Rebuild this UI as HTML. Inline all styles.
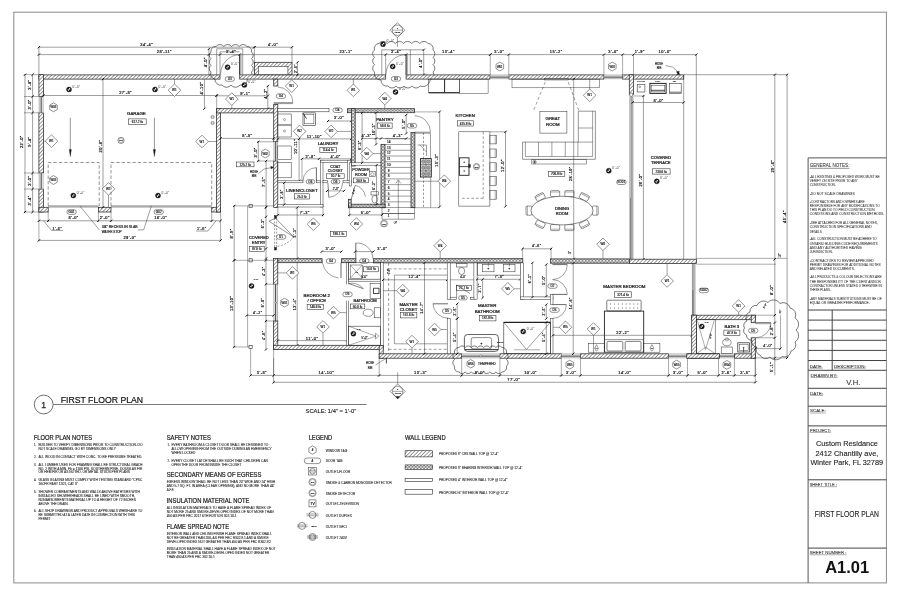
<!DOCTYPE html>
<html lang="en"><head><meta charset="utf-8"><title>First Floor Plan</title>
<style>html,body{margin:0;padding:0;background:#fff}svg{display:block;will-change:transform}text{font-family:"Liberation Sans", sans-serif}</style></head>
<body>
<svg width="900" height="597" viewBox="0 0 900 597">
<defs>
<pattern id="hx" width="2.6" height="2.6" patternUnits="userSpaceOnUse" patternTransform="rotate(-45)">
<rect width="2.6" height="2.6" fill="#fff"/><line x1="0" y1="1.3" x2="2.6" y2="1.3" stroke="#555" stroke-width="0.6"/></pattern>
<pattern id="hb" width="3.3" height="3.3" patternUnits="userSpaceOnUse">
<rect width="3.3" height="3.3" fill="#fff"/><rect x="0.55" y="0.55" width="2.2" height="2.2" rx="0.7" fill="none" stroke="#222" stroke-width="0.6"/></pattern>
</defs>
<rect x="13.8" y="12.2" width="872.6" height="570.7" fill="none" stroke="#8a8a8a" stroke-width="1"/>
<line x1="808.1" y1="157.9" x2="808.1" y2="582.9" stroke="#555" stroke-width="1"/>
<line x1="808.1" y1="157.9" x2="886.4" y2="157.9" stroke="#555" stroke-width="1"/>
<text x="809.7" y="167.32" font-size="5.6" text-anchor="start" fill="#333" stroke="#333" stroke-width="0.08" textLength="39.7" lengthAdjust="spacingAndGlyphs">GENERAL NOTES:</text>
<line x1="809.7" y1="168.3" x2="849.4" y2="168.3" stroke="#222" stroke-width="0.5"/>
<text x="809.7" y="177.92" font-size="3.1" text-anchor="start" fill="#444" stroke="#444" stroke-width="0.07" textLength="70" lengthAdjust="spacingAndGlyphs">-ALL EXISTING &amp; PROPOSED WORK MUST BE</text>
<text x="809.7" y="182.32" font-size="3.1" text-anchor="start" fill="#444" stroke="#444" stroke-width="0.07" textLength="48" lengthAdjust="spacingAndGlyphs">VERIFY ON SITE PRIOR TO ANY</text>
<text x="809.7" y="186.42" font-size="3.1" text-anchor="start" fill="#444" stroke="#444" stroke-width="0.07" textLength="26" lengthAdjust="spacingAndGlyphs">CONSTRUCTION.</text>
<text x="809.7" y="194.82" font-size="3.1" text-anchor="start" fill="#444" stroke="#444" stroke-width="0.07" textLength="45" lengthAdjust="spacingAndGlyphs">-DO NOT SCALE DRAWINGS</text>
<text x="809.7" y="202.72" font-size="3.1" text-anchor="start" fill="#444" stroke="#444" stroke-width="0.07" textLength="55" lengthAdjust="spacingAndGlyphs">-CONTRACTORS AND OWNERS ARE</text>
<text x="809.7" y="206.92" font-size="3.1" text-anchor="start" fill="#444" stroke="#444" stroke-width="0.07" textLength="70" lengthAdjust="spacingAndGlyphs">RESPONSIBLE FOR ANY MODIFICATIONS TO</text>
<text x="809.7" y="211.22" font-size="3.1" text-anchor="start" fill="#444" stroke="#444" stroke-width="0.07" textLength="65" lengthAdjust="spacingAndGlyphs">THIS PLAN DO TO FIELD CONSTRUCTION</text>
<text x="809.7" y="215.42" font-size="3.1" text-anchor="start" fill="#444" stroke="#444" stroke-width="0.07" textLength="74.5" lengthAdjust="spacingAndGlyphs">CONDITIONS AND CONSTRUCTION METHODS.</text>
<text x="809.7" y="224.02" font-size="3.1" text-anchor="start" fill="#444" stroke="#444" stroke-width="0.07" textLength="68" lengthAdjust="spacingAndGlyphs">-SEE ATTACHED FOR ALL GENERAL NOTES,</text>
<text x="809.7" y="228.32" font-size="3.1" text-anchor="start" fill="#444" stroke="#444" stroke-width="0.07" textLength="62" lengthAdjust="spacingAndGlyphs">CONSTRUCTION SPECIFICATIONS AND</text>
<text x="809.7" y="232.52" font-size="3.1" text-anchor="start" fill="#444" stroke="#444" stroke-width="0.07" textLength="12" lengthAdjust="spacingAndGlyphs">DETAILS</text>
<text x="809.7" y="240.42" font-size="3.1" text-anchor="start" fill="#444" stroke="#444" stroke-width="0.07" textLength="67" lengthAdjust="spacingAndGlyphs">-ALL CONSTRUCTION MUST BE ADHERE TO</text>
<text x="809.7" y="244.72" font-size="3.1" text-anchor="start" fill="#444" stroke="#444" stroke-width="0.07" textLength="68" lengthAdjust="spacingAndGlyphs">ONTARIO BUILDING CODE REQUIREMENTS</text>
<text x="809.7" y="249.02" font-size="3.1" text-anchor="start" fill="#444" stroke="#444" stroke-width="0.07" textLength="52" lengthAdjust="spacingAndGlyphs">AND ANY AUTHORITIES HAVING</text>
<text x="809.7" y="253.32" font-size="3.1" text-anchor="start" fill="#444" stroke="#444" stroke-width="0.07" textLength="23" lengthAdjust="spacingAndGlyphs">JURISDICTION.</text>
<text x="809.7" y="261.72" font-size="3.1" text-anchor="start" fill="#444" stroke="#444" stroke-width="0.07" textLength="64" lengthAdjust="spacingAndGlyphs">-CONTRACTORS TO REVIEW APPROVED</text>
<text x="809.7" y="266.12" font-size="3.1" text-anchor="start" fill="#444" stroke="#444" stroke-width="0.07" textLength="71" lengthAdjust="spacingAndGlyphs">PERMIT DRAWINGS FOR ADDITIONAL NOTES</text>
<text x="809.7" y="270.22" font-size="3.1" text-anchor="start" fill="#444" stroke="#444" stroke-width="0.07" textLength="45" lengthAdjust="spacingAndGlyphs">AND RELATED DOCUMENTS.</text>
<text x="809.7" y="278.12" font-size="3.1" text-anchor="start" fill="#444" stroke="#444" stroke-width="0.07" textLength="72" lengthAdjust="spacingAndGlyphs">-ALL PRODUCTS &amp; COLOUR SELECTIONS ARE</text>
<text x="809.7" y="282.52" font-size="3.1" text-anchor="start" fill="#444" stroke="#444" stroke-width="0.07" textLength="71" lengthAdjust="spacingAndGlyphs">THE RESPONSIBILITY OF THE CLIENT AND/OR</text>
<text x="809.7" y="286.82" font-size="3.1" text-anchor="start" fill="#444" stroke="#444" stroke-width="0.07" textLength="72" lengthAdjust="spacingAndGlyphs">CONTRACTOR UNLESS STATED OTHERWISE IN</text>
<text x="809.7" y="291.22" font-size="3.1" text-anchor="start" fill="#444" stroke="#444" stroke-width="0.07" textLength="21" lengthAdjust="spacingAndGlyphs">THESE PLANS.</text>
<text x="809.7" y="299.62" font-size="3.1" text-anchor="start" fill="#444" stroke="#444" stroke-width="0.07" textLength="72" lengthAdjust="spacingAndGlyphs">-ANY MATERIALS SUBSTITUTIONS MUST BE OF</text>
<text x="809.7" y="303.92" font-size="3.1" text-anchor="start" fill="#444" stroke="#444" stroke-width="0.07" textLength="60" lengthAdjust="spacingAndGlyphs">EQUAL OR GREATER PERFORMANCE.</text>
<line x1="808.1" y1="310" x2="886.4" y2="310" stroke="#444" stroke-width="1"/>
<line x1="808.1" y1="320.1" x2="886.4" y2="320.1" stroke="#444" stroke-width="1"/>
<line x1="808.1" y1="330.2" x2="886.4" y2="330.2" stroke="#444" stroke-width="1"/>
<line x1="808.1" y1="340.3" x2="886.4" y2="340.3" stroke="#444" stroke-width="1"/>
<line x1="808.1" y1="350.4" x2="886.4" y2="350.4" stroke="#444" stroke-width="1"/>
<line x1="808.1" y1="360.5" x2="886.4" y2="360.5" stroke="#444" stroke-width="1"/>
<line x1="808.1" y1="370.3" x2="886.4" y2="370.3" stroke="#444" stroke-width="1"/>
<line x1="832.2" y1="310" x2="832.2" y2="370.3" stroke="#444" stroke-width="1"/>
<text x="809.7" y="367.58" font-size="4.4" text-anchor="start" fill="#333" stroke="#333" stroke-width="0.08" textLength="12.9" lengthAdjust="spacingAndGlyphs">DATE:</text>
<line x1="809.7" y1="368.28" x2="822.6" y2="368.28" stroke="#333" stroke-width="0.4"/>
<text x="834" y="367.58" font-size="4.4" text-anchor="start" fill="#333" stroke="#333" stroke-width="0.08" textLength="31.7" lengthAdjust="spacingAndGlyphs">DESCRIPTION:</text>
<line x1="834" y1="368.28" x2="865.7" y2="368.28" stroke="#333" stroke-width="0.4"/>
<text x="810.6" y="376.78" font-size="4.4" text-anchor="start" fill="#333" stroke="#333" stroke-width="0.08" textLength="27.1" lengthAdjust="spacingAndGlyphs">DRAWN BY:</text>
<line x1="810.6" y1="377.48" x2="837.7" y2="377.48" stroke="#333" stroke-width="0.4"/>
<text x="853.3" y="385.34" font-size="7.6" text-anchor="middle" fill="#333" stroke="#333" stroke-width="0.08">V.H.</text>
<line x1="808.1" y1="388.3" x2="886.4" y2="388.3" stroke="#444" stroke-width="1"/>
<text x="810" y="394.68" font-size="4.4" text-anchor="start" fill="#333" stroke="#333" stroke-width="0.08" textLength="13" lengthAdjust="spacingAndGlyphs">DATE:</text>
<line x1="810" y1="395.38" x2="823" y2="395.38" stroke="#333" stroke-width="0.4"/>
<line x1="808.1" y1="406.2" x2="886.4" y2="406.2" stroke="#444" stroke-width="1"/>
<text x="810" y="412.28" font-size="4.4" text-anchor="start" fill="#333" stroke="#333" stroke-width="0.08" textLength="15.7" lengthAdjust="spacingAndGlyphs">SCALE:</text>
<line x1="810" y1="412.98" x2="825.7" y2="412.98" stroke="#333" stroke-width="0.4"/>
<line x1="808.1" y1="425.9" x2="886.4" y2="425.9" stroke="#444" stroke-width="1"/>
<text x="809.7" y="431.68" font-size="4.4" text-anchor="start" fill="#333" stroke="#333" stroke-width="0.08" textLength="21.3" lengthAdjust="spacingAndGlyphs">PROJECT:</text>
<line x1="809.7" y1="432.38" x2="831" y2="432.38" stroke="#333" stroke-width="0.4"/>
<text x="846.9" y="446.38" font-size="8" text-anchor="middle" fill="#222" stroke="#222" stroke-width="0.12" textLength="62" lengthAdjust="spacingAndGlyphs">Custom Residance</text>
<text x="846.9" y="455.58" font-size="8" text-anchor="middle" fill="#222" stroke="#222" stroke-width="0.12" textLength="62.8" lengthAdjust="spacingAndGlyphs">2412 Chantilly ave,</text>
<text x="846.7" y="464.78" font-size="8" text-anchor="middle" fill="#222" stroke="#222" stroke-width="0.12" textLength="72.6" lengthAdjust="spacingAndGlyphs">Winter Park, FL 32789</text>
<line x1="808.1" y1="479.8" x2="886.4" y2="479.8" stroke="#444" stroke-width="1"/>
<text x="809.7" y="485.98" font-size="4.4" text-anchor="start" fill="#333" stroke="#333" stroke-width="0.08" textLength="27.2" lengthAdjust="spacingAndGlyphs">SHEET TITLE :</text>
<line x1="809.7" y1="486.68" x2="836.9" y2="486.68" stroke="#333" stroke-width="0.4"/>
<text x="846.8" y="517.25" font-size="8.2" text-anchor="middle" fill="#222" stroke="#222" stroke-width="0.12" textLength="64" lengthAdjust="spacingAndGlyphs">FIRST FLOOR PLAN</text>
<line x1="808.1" y1="548.1" x2="886.4" y2="548.1" stroke="#444" stroke-width="1"/>
<text x="809.7" y="554.08" font-size="4.4" text-anchor="start" fill="#333" stroke="#333" stroke-width="0.08" textLength="36.9" lengthAdjust="spacingAndGlyphs">SHEET NUMBER :</text>
<line x1="809.7" y1="554.78" x2="846.6" y2="554.78" stroke="#333" stroke-width="0.4"/>
<text x="847.2" y="573.3" font-size="16.4" text-anchor="middle" fill="#111" font-weight="bold" textLength="44" lengthAdjust="spacingAndGlyphs">A1.01</text>
<circle cx="43.7" cy="404.5" r="9.4" fill="#fff" stroke="#333" stroke-width="0.7"/>
<text x="43.7" y="407.8" font-size="8.6" text-anchor="middle" fill="#222" stroke="#222" stroke-width="0.25">1</text>
<text x="60.8" y="402.75" font-size="9.3" text-anchor="start" fill="#111" stroke="#111" stroke-width="0.2" textLength="82.3" lengthAdjust="spacingAndGlyphs">FIRST FLOOR PLAN</text>
<line x1="53.2" y1="404.5" x2="366.7" y2="404.5" stroke="#444" stroke-width="0.7"/>
<text x="305.5" y="412.53" font-size="6.2" text-anchor="start" fill="#222" stroke="#222" stroke-width="0.14" textLength="50.7" lengthAdjust="spacingAndGlyphs">SCALE: 1/4" = 1'-0"</text>
<text x="33.8" y="440.4" font-size="6.4" text-anchor="start" fill="#1a1a1a" stroke="#1a1a1a" stroke-width="0.2" textLength="58.2" lengthAdjust="spacingAndGlyphs">FLOOR PLAN NOTES</text>
<text x="34" y="446.24" font-size="2.9" text-anchor="start" fill="#3a3a3a" stroke="#3a3a3a" stroke-width="0.11">1.</text>
<text x="38.4" y="446.24" font-size="2.9" text-anchor="start" fill="#3a3a3a" stroke="#3a3a3a" stroke-width="0.11" textLength="104.1" lengthAdjust="spacingAndGlyphs">BUILDER TO VERIFY DIMENSIONS PRIOR TO CONSTRUCTION. DO</text>
<text x="38.4" y="450.14" font-size="2.9" text-anchor="start" fill="#3a3a3a" stroke="#3a3a3a" stroke-width="0.11" textLength="77.5" lengthAdjust="spacingAndGlyphs">NOT SCALE DRAWING, GO BY DIMENSIONS ONLY</text>
<text x="34" y="457.94" font-size="2.9" text-anchor="start" fill="#3a3a3a" stroke="#3a3a3a" stroke-width="0.11">2.</text>
<text x="38.4" y="457.94" font-size="2.9" text-anchor="start" fill="#3a3a3a" stroke="#3a3a3a" stroke-width="0.11" textLength="103.8" lengthAdjust="spacingAndGlyphs">ALL WOOD IN CONTACT WITH CONC. TO BE PRESSURE TREATED.</text>
<text x="34" y="465.64" font-size="2.9" text-anchor="start" fill="#3a3a3a" stroke="#3a3a3a" stroke-width="0.11">3.</text>
<text x="38.4" y="465.64" font-size="2.9" text-anchor="start" fill="#3a3a3a" stroke="#3a3a3a" stroke-width="0.11" textLength="104.3" lengthAdjust="spacingAndGlyphs">ALL LUMBER USED FOR FRAMING SHALL BE STRUCTURAL GRADE</text>
<text x="38.4" y="469.54" font-size="2.9" text-anchor="start" fill="#3a3a3a" stroke="#3a3a3a" stroke-width="0.11" textLength="104" lengthAdjust="spacingAndGlyphs">NO. 2 WITH A MIN. Fb = 1100 PSI. SOUTHERN PINE, DOUGLAS FIR</text>
<text x="38.4" y="473.44" font-size="2.9" text-anchor="start" fill="#3a3a3a" stroke="#3a3a3a" stroke-width="0.11" textLength="91.5" lengthAdjust="spacingAndGlyphs">OR HEM FIR OR AS NOTED. OR METAL STUDS PER PLANS</text>
<text x="34" y="481.14" font-size="2.9" text-anchor="start" fill="#3a3a3a" stroke="#3a3a3a" stroke-width="0.11">4.</text>
<text x="38.4" y="481.14" font-size="2.9" text-anchor="start" fill="#3a3a3a" stroke="#3a3a3a" stroke-width="0.11" textLength="104" lengthAdjust="spacingAndGlyphs">GLASS GLAZING MUST COMPLY WITH TESTING STANDARD "CPSC</text>
<text x="38.4" y="485.14" font-size="2.9" text-anchor="start" fill="#3a3a3a" stroke="#3a3a3a" stroke-width="0.11" textLength="39.5" lengthAdjust="spacingAndGlyphs">16CFR PART 1201, CAT II"</text>
<text x="34" y="492.84" font-size="2.9" text-anchor="start" fill="#3a3a3a" stroke="#3a3a3a" stroke-width="0.11">5.</text>
<text x="38.4" y="492.84" font-size="2.9" text-anchor="start" fill="#3a3a3a" stroke="#3a3a3a" stroke-width="0.11" textLength="101.5" lengthAdjust="spacingAndGlyphs">SHOWER COMPARTMENTS AND WALLS ABOVE BATHTUBS WITH</text>
<text x="38.4" y="496.84" font-size="2.9" text-anchor="start" fill="#3a3a3a" stroke="#3a3a3a" stroke-width="0.11" textLength="96.5" lengthAdjust="spacingAndGlyphs">INSTALLED SHOWERHEADS SHALL BE LINED WITH SMOOTH,</text>
<text x="38.4" y="500.64" font-size="2.9" text-anchor="start" fill="#3a3a3a" stroke="#3a3a3a" stroke-width="0.11" textLength="97.5" lengthAdjust="spacingAndGlyphs">NONABSORBENTS MATERIAL UP TO A HEIGHT OF 72 INCHES</text>
<text x="38.4" y="504.54" font-size="2.9" text-anchor="start" fill="#3a3a3a" stroke="#3a3a3a" stroke-width="0.11" textLength="30" lengthAdjust="spacingAndGlyphs">ABOVE THE DRAIN.</text>
<text x="34" y="511.94" font-size="2.9" text-anchor="start" fill="#3a3a3a" stroke="#3a3a3a" stroke-width="0.11">6.</text>
<text x="38.4" y="511.94" font-size="2.9" text-anchor="start" fill="#3a3a3a" stroke="#3a3a3a" stroke-width="0.11" textLength="104" lengthAdjust="spacingAndGlyphs">ALL SHOP DRAWINGS AND PRODUCT APPROVALS WHISH ARE TO</text>
<text x="38.4" y="515.94" font-size="2.9" text-anchor="start" fill="#3a3a3a" stroke="#3a3a3a" stroke-width="0.11" textLength="96.5" lengthAdjust="spacingAndGlyphs">BE SUBMITTED AT A LATER DATE IN CONNECTION WITH THIS</text>
<text x="38.4" y="520.14" font-size="2.9" text-anchor="start" fill="#3a3a3a" stroke="#3a3a3a" stroke-width="0.11" textLength="12" lengthAdjust="spacingAndGlyphs">PERMIT</text>
<text x="166.7" y="440.4" font-size="6.4" text-anchor="start" fill="#1a1a1a" stroke="#1a1a1a" stroke-width="0.2" textLength="44.2" lengthAdjust="spacingAndGlyphs">SAFETY NOTES</text>
<text x="167.4" y="446.24" font-size="2.9" text-anchor="start" fill="#3a3a3a" stroke="#3a3a3a" stroke-width="0.11">1.</text>
<text x="171.4" y="446.24" font-size="2.9" text-anchor="start" fill="#3a3a3a" stroke="#3a3a3a" stroke-width="0.11" textLength="97" lengthAdjust="spacingAndGlyphs">EVERY BATHROOM &amp; CLOSET DOOR SHALL BE DESIGNED TO</text>
<text x="171.4" y="450.24" font-size="2.9" text-anchor="start" fill="#3a3a3a" stroke="#3a3a3a" stroke-width="0.11" textLength="100.4" lengthAdjust="spacingAndGlyphs">ALLOW OPENING FROM THE OUTSIDE DURING AN EMERGENCY</text>
<text x="171.4" y="454.24" font-size="2.9" text-anchor="start" fill="#3a3a3a" stroke="#3a3a3a" stroke-width="0.11" textLength="24" lengthAdjust="spacingAndGlyphs">WHEN LOCKED</text>
<text x="167.4" y="462.04" font-size="2.9" text-anchor="start" fill="#3a3a3a" stroke="#3a3a3a" stroke-width="0.11">2.</text>
<text x="171.4" y="462.04" font-size="2.9" text-anchor="start" fill="#3a3a3a" stroke="#3a3a3a" stroke-width="0.11" textLength="96.5" lengthAdjust="spacingAndGlyphs">EVERY CLOSET LATCH SHALL BE SUCH THAT CHILDREN CAN</text>
<text x="171.4" y="466.04" font-size="2.9" text-anchor="start" fill="#3a3a3a" stroke="#3a3a3a" stroke-width="0.11" textLength="70" lengthAdjust="spacingAndGlyphs">OPEN THE DOOR FROM INSIDE THE CLOSET</text>
<text x="166.7" y="477" font-size="6.4" text-anchor="start" fill="#1a1a1a" stroke="#1a1a1a" stroke-width="0.2" textLength="94.7" lengthAdjust="spacingAndGlyphs">SECONDARY MEANS OF EGRESS</text>
<text x="166.7" y="482.74" font-size="2.9" text-anchor="start" fill="#3a3a3a" stroke="#3a3a3a" stroke-width="0.11" textLength="108.5" lengthAdjust="spacingAndGlyphs">EGRESS WINDOW SHALL BE NOT LESS THAN 20" WIDE AND 24" HIGH</text>
<text x="166.7" y="486.74" font-size="2.9" text-anchor="start" fill="#3a3a3a" stroke="#3a3a3a" stroke-width="0.11" textLength="108" lengthAdjust="spacingAndGlyphs">AND 5.7 SQ. FT. IN AREA (CLEAR OPENING), AND NO MORE THAN 44"</text>
<text x="166.7" y="490.54" font-size="2.9" text-anchor="start" fill="#3a3a3a" stroke="#3a3a3a" stroke-width="0.11" textLength="7.5" lengthAdjust="spacingAndGlyphs">A.F.F.</text>
<text x="166.7" y="502.8" font-size="6.4" text-anchor="start" fill="#1a1a1a" stroke="#1a1a1a" stroke-width="0.2" textLength="82.8" lengthAdjust="spacingAndGlyphs">INSULATION MATERIAL NOTE</text>
<text x="166.7" y="508.84" font-size="2.9" text-anchor="start" fill="#3a3a3a" stroke="#3a3a3a" stroke-width="0.11" textLength="104.5" lengthAdjust="spacingAndGlyphs">ALL INSULATION MATERIALS TO HAVE A FLAME SPREAD INDEX OF</text>
<text x="166.7" y="512.84" font-size="2.9" text-anchor="start" fill="#3a3a3a" stroke="#3a3a3a" stroke-width="0.11" textLength="107" lengthAdjust="spacingAndGlyphs">NOT MORE 25 AND SMOKE-DEVELOPED INDEX OF NOT MORE THAN</text>
<text x="166.7" y="516.74" font-size="2.9" text-anchor="start" fill="#3a3a3a" stroke="#3a3a3a" stroke-width="0.11" textLength="70" lengthAdjust="spacingAndGlyphs">450 AS PER FBC 2017 6TH EDITION 302.10.1</text>
<text x="166.7" y="529" font-size="6.4" text-anchor="start" fill="#1a1a1a" stroke="#1a1a1a" stroke-width="0.2" textLength="62.3" lengthAdjust="spacingAndGlyphs">FLAME SPREAD NOTE</text>
<text x="166.7" y="535.14" font-size="2.9" text-anchor="start" fill="#3a3a3a" stroke="#3a3a3a" stroke-width="0.11" textLength="105" lengthAdjust="spacingAndGlyphs">INTERIOR WALL AND CEILING FINISH FLAME SPREAD INDEX SHALL</text>
<text x="166.7" y="538.94" font-size="2.9" text-anchor="start" fill="#3a3a3a" stroke="#3a3a3a" stroke-width="0.11" textLength="102" lengthAdjust="spacingAndGlyphs">NOT BE GREATER THAN 200, AS PER FBC R302.9.1 AND A SMOKE</text>
<text x="166.7" y="542.84" font-size="2.9" text-anchor="start" fill="#3a3a3a" stroke="#3a3a3a" stroke-width="0.11" textLength="104.5" lengthAdjust="spacingAndGlyphs">DEVELOPED INDEX NOT GREATER THAN 450 AS PER FBC R302.9.2</text>
<text x="166.7" y="550.34" font-size="2.9" text-anchor="start" fill="#3a3a3a" stroke="#3a3a3a" stroke-width="0.11" textLength="109" lengthAdjust="spacingAndGlyphs">INSULATION MATERIAL SHALL HAVE A FLAME SPREAD INDEX OF NOT</text>
<text x="166.7" y="554.24" font-size="2.9" text-anchor="start" fill="#3a3a3a" stroke="#3a3a3a" stroke-width="0.11" textLength="102.5" lengthAdjust="spacingAndGlyphs">MORE THAN 25 AND A SMOKE-DEVELOPED INDEX NOT GREATER</text>
<text x="166.7" y="558.14" font-size="2.9" text-anchor="start" fill="#3a3a3a" stroke="#3a3a3a" stroke-width="0.11" textLength="48" lengthAdjust="spacingAndGlyphs">THAN 450 AS PER FBC 302.10.1</text>
<text x="308.7" y="440.4" font-size="6.4" text-anchor="start" fill="#1a1a1a" stroke="#1a1a1a" stroke-width="0.2" textLength="23.5" lengthAdjust="spacingAndGlyphs">LEGEND</text>
<text x="325.8" y="451.71" font-size="2.8" text-anchor="start" fill="#3a3a3a" stroke="#3a3a3a" stroke-width="0.11" textLength="21.5" lengthAdjust="spacingAndGlyphs">WINDOW TAG</text>
<text x="325.8" y="462.41" font-size="2.8" text-anchor="start" fill="#3a3a3a" stroke="#3a3a3a" stroke-width="0.11" textLength="16.8" lengthAdjust="spacingAndGlyphs">DOOR TAG</text>
<text x="325.8" y="472.81" font-size="2.8" text-anchor="start" fill="#3a3a3a" stroke="#3a3a3a" stroke-width="0.11" textLength="24.5" lengthAdjust="spacingAndGlyphs">OUTLET-FLOOR</text>
<text x="325.8" y="483.71" font-size="2.8" text-anchor="start" fill="#3a3a3a" stroke="#3a3a3a" stroke-width="0.11" textLength="66.1" lengthAdjust="spacingAndGlyphs">SMOKE &amp; CARBON MONOXIDE DETECTOR</text>
<text x="325.8" y="494.61" font-size="2.8" text-anchor="start" fill="#3a3a3a" stroke="#3a3a3a" stroke-width="0.11" textLength="29.5" lengthAdjust="spacingAndGlyphs">SMOKE DETECTOR</text>
<text x="325.8" y="505.01" font-size="2.8" text-anchor="start" fill="#3a3a3a" stroke="#3a3a3a" stroke-width="0.11" textLength="33" lengthAdjust="spacingAndGlyphs">OUTLET-TELEVISION</text>
<text x="325.8" y="516.51" font-size="2.8" text-anchor="start" fill="#3a3a3a" stroke="#3a3a3a" stroke-width="0.11" textLength="26" lengthAdjust="spacingAndGlyphs">OUTLET DUPLEX</text>
<text x="325.8" y="527.51" font-size="2.8" text-anchor="start" fill="#3a3a3a" stroke="#3a3a3a" stroke-width="0.11" textLength="21" lengthAdjust="spacingAndGlyphs">OUTLET GFCI</text>
<text x="325.8" y="538.61" font-size="2.8" text-anchor="start" fill="#3a3a3a" stroke="#3a3a3a" stroke-width="0.11" textLength="21" lengthAdjust="spacingAndGlyphs">OUTLET 240V</text>
<path d="M316.14 452.2L312.5 454.3L308.86 452.2L308.86 448L312.5 445.9L316.14 448Z" fill="#fff" stroke="#2a2a2a" stroke-width="0.5"/>
<text x="312.5" y="451.11" font-size="2.8" text-anchor="middle" fill="#1e1e1e" stroke="#1e1e1e" stroke-width="0.15">#</text>
<rect x="304.25" y="458" width="16.5" height="5.6" fill="#fff" stroke="#2a2a2a" stroke-width="0.5" rx="2.8"/>
<text x="312.5" y="461.88" font-size="3" text-anchor="middle" fill="#1e1e1e" stroke="#1e1e1e" stroke-width="0.17" letter-spacing="0.15">#</text>
<rect x="308.7" y="467.4" width="7.6" height="7.6" fill="none" stroke="#2a2a2a" stroke-width="0.5"/>
<circle cx="312.5" cy="471.2" r="2.8" fill="none" stroke="#2a2a2a" stroke-width="0.5"/>
<line x1="309.7" y1="470.4" x2="315.3" y2="470.4" stroke="#2a2a2a" stroke-width="0.4"/>
<line x1="309.7" y1="472" x2="315.3" y2="472" stroke="#2a2a2a" stroke-width="0.4"/>
<circle cx="312.5" cy="482.1" r="3.6" fill="#fff" stroke="#2a2a2a" stroke-width="0.5"/>
<circle cx="312.5" cy="482.1" r="2.7" fill="none" stroke="#2a2a2a" stroke-width="0.3"/>
<text x="312.5" y="483" font-size="2.5" text-anchor="middle" fill="#1e1e1e" stroke="#1e1e1e" stroke-width="0.14">SC</text>
<circle cx="312.5" cy="493" r="3.6" fill="#fff" stroke="#2a2a2a" stroke-width="0.5"/>
<circle cx="312.5" cy="493" r="2.7" fill="none" stroke="#2a2a2a" stroke-width="0.3"/>
<text x="312.5" y="493.9" font-size="2.5" text-anchor="middle" fill="#1e1e1e" stroke="#1e1e1e" stroke-width="0.14">SD</text>
<rect x="309" y="499.9" width="7" height="7" fill="none" stroke="#2a2a2a" stroke-width="0.5"/>
<text x="312.5" y="504.62" font-size="3.4" text-anchor="middle" fill="#1e1e1e" stroke="#1e1e1e" stroke-width="0.19">TV</text>
<circle cx="312.5" cy="514.9" r="3.5" fill="none" stroke="#2a2a2a" stroke-width="0.5"/>
<line x1="306.5" y1="514" x2="318.5" y2="514" stroke="#2a2a2a" stroke-width="0.45"/>
<line x1="306.5" y1="515.8" x2="318.5" y2="515.8" stroke="#2a2a2a" stroke-width="0.45"/>
<circle cx="302" cy="525.9" r="3.5" fill="none" stroke="#2a2a2a" stroke-width="0.5"/>
<line x1="297" y1="525" x2="307.5" y2="525" stroke="#2a2a2a" stroke-width="0.45"/>
<line x1="297" y1="526.8" x2="307.5" y2="526.8" stroke="#2a2a2a" stroke-width="0.45"/>
<text x="314.1" y="526.76" font-size="2.4" text-anchor="middle" fill="#1e1e1e" stroke="#1e1e1e" stroke-width="0.13">GFCI</text>
<circle cx="312.5" cy="537" r="3.5" fill="none" stroke="#2a2a2a" stroke-width="0.5"/>
<circle cx="312.5" cy="537" r="2.3" fill="none" stroke="#2a2a2a" stroke-width="0.4"/>
<line x1="307" y1="535.8" x2="318" y2="535.8" stroke="#2a2a2a" stroke-width="0.35"/>
<line x1="307" y1="537" x2="318" y2="537" stroke="#2a2a2a" stroke-width="0.35"/>
<line x1="307" y1="538.2" x2="318" y2="538.2" stroke="#2a2a2a" stroke-width="0.35"/>
<text x="405.1" y="440.4" font-size="6.4" text-anchor="start" fill="#1a1a1a" stroke="#1a1a1a" stroke-width="0.2" textLength="40.5" lengthAdjust="spacingAndGlyphs">WALL LEGEND</text>
<rect x="405.1" y="450.7" width="27.5" height="6.2" fill="url(#hx)" stroke="#2a2a2a" stroke-width="0.6"/>
<rect x="405.1" y="464.9" width="27.5" height="4.7" fill="url(#hb)" stroke="#2a2a2a" stroke-width="0.6"/>
<rect x="405.1" y="478.4" width="27.5" height="2.9" fill="#fff" stroke="#2a2a2a" stroke-width="0.6"/>
<rect x="405.1" y="489.6" width="27.5" height="4.6" fill="#fff" stroke="#2a2a2a" stroke-width="0.6"/>
<text x="438.9" y="455.31" font-size="2.8" text-anchor="start" fill="#3a3a3a" stroke="#3a3a3a" stroke-width="0.11" textLength="59.5" lengthAdjust="spacingAndGlyphs">PROPOSED 8" CBS WALL TOP @ 12'-4"</text>
<text x="438.9" y="468.81" font-size="2.8" text-anchor="start" fill="#3a3a3a" stroke="#3a3a3a" stroke-width="0.11" textLength="83.6" lengthAdjust="spacingAndGlyphs">PROPOSED 8" BEARING INTERIOR WALL TOP @ 12'-4"</text>
<text x="438.9" y="481.41" font-size="2.8" text-anchor="start" fill="#3a3a3a" stroke="#3a3a3a" stroke-width="0.11" textLength="68.4" lengthAdjust="spacingAndGlyphs">PROPOSED 4" INTERIOR WALL TOP @ 12'-4"</text>
<text x="438.9" y="493.71" font-size="2.8" text-anchor="start" fill="#3a3a3a" stroke="#3a3a3a" stroke-width="0.11" textLength="70" lengthAdjust="spacingAndGlyphs">PROPOSED 6" INTERIOR WALL TOP @ 12'-4"</text>
<line x1="38.9" y1="47.2" x2="254.4" y2="47.2" stroke="#2a2a2a" stroke-width="0.45"/>
<line x1="37.75" y1="48.35" x2="40.05" y2="46.05" stroke="#111" stroke-width="1"/>
<line x1="253.25" y1="48.35" x2="255.55" y2="46.05" stroke="#111" stroke-width="1"/>
<text x="146.7" y="46.13" font-size="3.96" text-anchor="middle" fill="#1e1e1e" stroke="#1e1e1e" stroke-width="0.22" letter-spacing="0.45">34'-4"</text>
<line x1="38.9" y1="54.6" x2="490.3" y2="54.6" stroke="#2a2a2a" stroke-width="0.45"/>
<line x1="37.75" y1="55.75" x2="40.05" y2="53.45" stroke="#111" stroke-width="1"/>
<line x1="207.75" y1="55.75" x2="210.05" y2="53.45" stroke="#111" stroke-width="1"/>
<line x1="218.85" y1="55.75" x2="221.15" y2="53.45" stroke="#111" stroke-width="1"/>
<line x1="238.55" y1="55.75" x2="240.85" y2="53.45" stroke="#111" stroke-width="1"/>
<line x1="384.55" y1="55.75" x2="386.85" y2="53.45" stroke="#111" stroke-width="1"/>
<line x1="404.95" y1="55.75" x2="407.25" y2="53.45" stroke="#111" stroke-width="1"/>
<line x1="489.15" y1="55.75" x2="491.45" y2="53.45" stroke="#111" stroke-width="1"/>
<text x="164.4" y="53.33" font-size="3.96" text-anchor="middle" fill="#1e1e1e" stroke="#1e1e1e" stroke-width="0.22" letter-spacing="0.45">28'-11"</text>
<text x="231" y="53.33" font-size="3.96" text-anchor="middle" fill="#1e1e1e" stroke="#1e1e1e" stroke-width="0.22" letter-spacing="0.45">3'-4"</text>
<text x="346" y="53.33" font-size="3.96" text-anchor="middle" fill="#1e1e1e" stroke="#1e1e1e" stroke-width="0.22" letter-spacing="0.45">23'-1"</text>
<text x="396" y="53.33" font-size="3.96" text-anchor="middle" fill="#1e1e1e" stroke="#1e1e1e" stroke-width="0.22" letter-spacing="0.45">3'-4"</text>
<text x="448.4" y="53.33" font-size="3.96" text-anchor="middle" fill="#1e1e1e" stroke="#1e1e1e" stroke-width="0.22" letter-spacing="0.45">13'-4"</text>
<line x1="38.9" y1="47.2" x2="38.9" y2="74.7" stroke="#2a2a2a" stroke-width="0.45"/>
<line x1="254.4" y1="47.2" x2="292" y2="47.2" stroke="#2a2a2a" stroke-width="0.45"/>
<line x1="253.25" y1="48.35" x2="255.55" y2="46.05" stroke="#111" stroke-width="1"/>
<line x1="290.85" y1="48.35" x2="293.15" y2="46.05" stroke="#111" stroke-width="1"/>
<text x="273" y="46.13" font-size="3.96" text-anchor="middle" fill="#1e1e1e" stroke="#1e1e1e" stroke-width="0.22" letter-spacing="0.45">4'-0"</text>
<line x1="254.4" y1="47.2" x2="254.4" y2="74.7" stroke="#2a2a2a" stroke-width="0.45"/>
<line x1="292" y1="47.2" x2="292" y2="62.3" stroke="#2a2a2a" stroke-width="0.45"/>
<line x1="208.9" y1="48.9" x2="208.9" y2="75.6" stroke="#2a2a2a" stroke-width="0.45"/>
<line x1="207.75" y1="50.05" x2="210.05" y2="47.75" stroke="#111" stroke-width="1"/>
<line x1="207.75" y1="76.75" x2="210.05" y2="74.45" stroke="#111" stroke-width="1"/>
<text x="205.6" y="63.63" font-size="3.96" text-anchor="middle" fill="#1e1e1e" stroke="#1e1e1e" stroke-width="0.22" letter-spacing="0.45" transform="rotate(-90 205.6 62.2)">4'-0"</text>
<line x1="204.4" y1="77.4" x2="204.4" y2="108.7" stroke="#2a2a2a" stroke-width="0.45"/>
<line x1="203.25" y1="78.55" x2="205.55" y2="76.25" stroke="#111" stroke-width="1"/>
<line x1="203.25" y1="109.85" x2="205.55" y2="107.55" stroke="#111" stroke-width="1"/>
<text x="201.6" y="89.63" font-size="3.96" text-anchor="middle" fill="#1e1e1e" stroke="#1e1e1e" stroke-width="0.22" letter-spacing="0.45" transform="rotate(-90 201.6 88.2)">4'-10"</text>
<rect x="38.9" y="74.9" width="181.1" height="4.2" fill="url(#hx)" stroke="#2a2a2a" stroke-width="0.75"/>
<rect x="38.9" y="74.7" width="4.5" height="21.8" fill="url(#hx)" stroke="#2a2a2a" stroke-width="0.75"/>
<rect x="38.9" y="112.8" width="4.5" height="60.2" fill="url(#hx)" stroke="#2a2a2a" stroke-width="0.75"/>
<rect x="38.9" y="189" width="4.5" height="23" fill="url(#hx)" stroke="#2a2a2a" stroke-width="0.75"/>
<rect x="38.4" y="96.9" width="5.5" height="15.5" fill="#fff" stroke="#fff" stroke-width="0.01"/>
<line x1="39.2" y1="96.5" x2="39.2" y2="112.8" stroke="#2a2a2a" stroke-width="0.4"/>
<line x1="43.1" y1="96.5" x2="43.1" y2="112.8" stroke="#555" stroke-width="0.45"/>
<line x1="41.15" y1="96.5" x2="41.15" y2="112.8" stroke="#222" stroke-width="0.95"/>
<rect x="38.4" y="173.4" width="5.5" height="15.2" fill="#fff" stroke="#fff" stroke-width="0.01"/>
<line x1="39.2" y1="173" x2="39.2" y2="189" stroke="#2a2a2a" stroke-width="0.4"/>
<line x1="43.1" y1="173" x2="43.1" y2="189" stroke="#555" stroke-width="0.45"/>
<line x1="41.15" y1="173" x2="41.15" y2="189" stroke="#222" stroke-width="0.95"/>
<rect x="38.9" y="207.3" width="9.3" height="4.7" fill="url(#hx)" stroke="#2a2a2a" stroke-width="0.75"/>
<rect x="98.4" y="207.3" width="12.6" height="4.7" fill="url(#hx)" stroke="#2a2a2a" stroke-width="0.75"/>
<rect x="211.7" y="207.3" width="8.9" height="4.7" fill="url(#hx)" stroke="#2a2a2a" stroke-width="0.75"/>
<rect x="216.5" y="108.7" width="4.1" height="103.3" fill="url(#hx)" stroke="#2a2a2a" stroke-width="0.75"/>
<line x1="48.2" y1="205.9" x2="98.4" y2="205.9" stroke="#2a2a2a" stroke-width="0.5"/>
<line x1="48.2" y1="207" x2="98.4" y2="207" stroke="#2a2a2a" stroke-width="0.5"/>
<line x1="111" y1="205.9" x2="211.7" y2="205.9" stroke="#2a2a2a" stroke-width="0.5"/>
<line x1="111" y1="207" x2="211.7" y2="207" stroke="#2a2a2a" stroke-width="0.5"/>
<line x1="103" y1="79.1" x2="103" y2="207.3" stroke="#2a2a2a" stroke-width="0.45"/>
<line x1="101.85" y1="80.25" x2="104.15" y2="77.95" stroke="#111" stroke-width="1"/>
<line x1="101.85" y1="208.45" x2="104.15" y2="206.15" stroke="#111" stroke-width="1"/>
<text x="100.4" y="147.43" font-size="3.96" text-anchor="middle" fill="#1e1e1e" stroke="#1e1e1e" stroke-width="0.22" letter-spacing="0.45" transform="rotate(-90 100.4 146)">20'-8"</text>
<line x1="43.4" y1="95.5" x2="216.5" y2="95.5" stroke="#2a2a2a" stroke-width="0.45"/>
<line x1="42.25" y1="96.65" x2="44.55" y2="94.35" stroke="#111" stroke-width="1"/>
<line x1="215.35" y1="96.65" x2="217.65" y2="94.35" stroke="#111" stroke-width="1"/>
<text x="125.6" y="94.23" font-size="3.96" text-anchor="middle" fill="#1e1e1e" stroke="#1e1e1e" stroke-width="0.22" letter-spacing="0.45">27'-8"</text>
<line x1="25" y1="74.7" x2="25" y2="212" stroke="#2a2a2a" stroke-width="0.45"/>
<line x1="23.85" y1="75.85" x2="26.15" y2="73.55" stroke="#111" stroke-width="1"/>
<line x1="23.85" y1="213.15" x2="26.15" y2="210.85" stroke="#111" stroke-width="1"/>
<text x="21.8" y="143.13" font-size="3.96" text-anchor="middle" fill="#1e1e1e" stroke="#1e1e1e" stroke-width="0.22" letter-spacing="0.45" transform="rotate(-90 21.8 141.7)">22'-0"</text>
<line x1="32.6" y1="74.7" x2="32.6" y2="212" stroke="#2a2a2a" stroke-width="0.45"/>
<line x1="31.45" y1="75.85" x2="33.75" y2="73.55" stroke="#111" stroke-width="1"/>
<line x1="31.45" y1="97.65" x2="33.75" y2="95.35" stroke="#111" stroke-width="1"/>
<line x1="31.45" y1="113.95" x2="33.75" y2="111.65" stroke="#111" stroke-width="1"/>
<line x1="31.45" y1="174.15" x2="33.75" y2="171.85" stroke="#111" stroke-width="1"/>
<line x1="31.45" y1="190.15" x2="33.75" y2="187.85" stroke="#111" stroke-width="1"/>
<line x1="31.45" y1="213.15" x2="33.75" y2="210.85" stroke="#111" stroke-width="1"/>
<text x="29.6" y="86.13" font-size="3.96" text-anchor="middle" fill="#1e1e1e" stroke="#1e1e1e" stroke-width="0.22" letter-spacing="0.45" transform="rotate(-90 29.6 84.7)">3'-4"</text>
<text x="29.6" y="105.83" font-size="3.96" text-anchor="middle" fill="#1e1e1e" stroke="#1e1e1e" stroke-width="0.22" letter-spacing="0.45" transform="rotate(-90 29.6 104.4)">3'-0"</text>
<text x="29.6" y="143.13" font-size="3.96" text-anchor="middle" fill="#1e1e1e" stroke="#1e1e1e" stroke-width="0.22" letter-spacing="0.45" transform="rotate(-90 29.6 141.7)">9'-4"</text>
<text x="29.6" y="182.23" font-size="3.96" text-anchor="middle" fill="#1e1e1e" stroke="#1e1e1e" stroke-width="0.22" letter-spacing="0.45" transform="rotate(-90 29.6 180.8)">3'-0"</text>
<text x="29.6" y="201.93" font-size="3.96" text-anchor="middle" fill="#1e1e1e" stroke="#1e1e1e" stroke-width="0.22" letter-spacing="0.45" transform="rotate(-90 29.6 200.5)">3'-4"</text>
<line x1="24" y1="74.7" x2="38.9" y2="74.7" stroke="#2a2a2a" stroke-width="0.4"/>
<line x1="24" y1="96.5" x2="38.9" y2="96.5" stroke="#2a2a2a" stroke-width="0.4"/>
<line x1="24" y1="112.8" x2="38.9" y2="112.8" stroke="#2a2a2a" stroke-width="0.4"/>
<line x1="24" y1="173" x2="38.9" y2="173" stroke="#2a2a2a" stroke-width="0.4"/>
<line x1="24" y1="189" x2="38.9" y2="189" stroke="#2a2a2a" stroke-width="0.4"/>
<line x1="24" y1="212" x2="38.9" y2="212" stroke="#2a2a2a" stroke-width="0.4"/>
<path d="M57.31 109.5L53.5 111.7L49.69 109.5L49.69 105.1L53.5 102.9L57.31 105.1Z" fill="#fff" stroke="#2a2a2a" stroke-width="0.5"/>
<text x="53.5" y="108.31" font-size="2.8" text-anchor="middle" fill="#1e1e1e" stroke="#1e1e1e" stroke-width="0.15">W03</text>
<path d="M57.31 182.2L53.5 184.4L49.69 182.2L49.69 177.8L53.5 175.6L57.31 177.8Z" fill="#fff" stroke="#2a2a2a" stroke-width="0.5"/>
<text x="53.5" y="181.01" font-size="2.8" text-anchor="middle" fill="#1e1e1e" stroke="#1e1e1e" stroke-width="0.15">W03</text>
<line x1="45.2" y1="141.2" x2="43.4" y2="141.2" stroke="#2a2a2a" stroke-width="0.45"/>
<path d="M45.2 141.2L51.5 134.9L57.8 141.2L51.5 147.5Z" fill="#fff" stroke="#2a2a2a" stroke-width="0.5"/>
<text x="51.5" y="142.28" font-size="3" text-anchor="middle" fill="#1e1e1e" stroke="#1e1e1e" stroke-width="0.17" letter-spacing="0.15">W1</text>
<line x1="174.5" y1="83.9" x2="174.5" y2="79.1" stroke="#2a2a2a" stroke-width="0.45"/>
<path d="M168.2 90.2L174.5 83.9L180.8 90.2L174.5 96.5Z" fill="#fff" stroke="#2a2a2a" stroke-width="0.5"/>
<text x="174.5" y="91.28" font-size="3" text-anchor="middle" fill="#1e1e1e" stroke="#1e1e1e" stroke-width="0.17" letter-spacing="0.15">W1</text>
<line x1="208.3" y1="141.5" x2="216.5" y2="141.5" stroke="#2a2a2a" stroke-width="0.45"/>
<path d="M195.7 141.5L202 135.2L208.3 141.5L202 147.8Z" fill="#fff" stroke="#2a2a2a" stroke-width="0.5"/>
<text x="202" y="142.58" font-size="3" text-anchor="middle" fill="#1e1e1e" stroke="#1e1e1e" stroke-width="0.17" letter-spacing="0.15">W1</text>
<line x1="108.5" y1="195.2" x2="108.5" y2="207.3" stroke="#2a2a2a" stroke-width="0.45"/>
<path d="M102.2 188.9L108.5 182.6L114.8 188.9L108.5 195.2Z" fill="#fff" stroke="#2a2a2a" stroke-width="0.5"/>
<text x="108.5" y="189.98" font-size="3" text-anchor="middle" fill="#1e1e1e" stroke="#1e1e1e" stroke-width="0.17" letter-spacing="0.15">W1</text>
<circle cx="69" cy="89.4" r="2.5" fill="#111" stroke="#111" stroke-width="0.4"/>
<path d="M69 89.4L69 88.03A1.38 1.38 0 0 1 70.38 89.4Z" fill="#fff" stroke="#fff" stroke-width="0.1"/>
<path d="M69 89.4L69 90.78A1.38 1.38 0 0 1 67.62 89.4Z" fill="#fff" stroke="#fff" stroke-width="0.1"/>
<text x="72.5" y="87.55" font-size="3.2" text-anchor="start" fill="#666" stroke="#666" stroke-width="0.06" letter-spacing="0.35">0'-0"</text>
<circle cx="155" cy="89.4" r="2.5" fill="#111" stroke="#111" stroke-width="0.4"/>
<path d="M155 89.4L155 88.03A1.38 1.38 0 0 1 156.38 89.4Z" fill="#fff" stroke="#fff" stroke-width="0.1"/>
<path d="M155 89.4L155 90.78A1.38 1.38 0 0 1 153.62 89.4Z" fill="#fff" stroke="#fff" stroke-width="0.1"/>
<text x="158.5" y="87.55" font-size="3.2" text-anchor="start" fill="#666" stroke="#666" stroke-width="0.06" letter-spacing="0.35">0'-0"</text>
<circle cx="73.3" cy="195.6" r="2.5" fill="#111" stroke="#111" stroke-width="0.4"/>
<path d="M73.3 195.6L73.3 194.22A1.38 1.38 0 0 1 74.67 195.6Z" fill="#fff" stroke="#fff" stroke-width="0.1"/>
<path d="M73.3 195.6L73.3 196.97A1.38 1.38 0 0 1 71.92 195.6Z" fill="#fff" stroke="#fff" stroke-width="0.1"/>
<text x="76.8" y="193.75" font-size="3.2" text-anchor="start" fill="#666" stroke="#666" stroke-width="0.06" letter-spacing="0.35">0'-0"</text>
<circle cx="158" cy="195.6" r="2.5" fill="#111" stroke="#111" stroke-width="0.4"/>
<path d="M158 195.6L158 194.22A1.38 1.38 0 0 1 159.38 195.6Z" fill="#fff" stroke="#fff" stroke-width="0.1"/>
<path d="M158 195.6L158 196.97A1.38 1.38 0 0 1 156.62 195.6Z" fill="#fff" stroke="#fff" stroke-width="0.1"/>
<text x="161.5" y="193.75" font-size="3.2" text-anchor="start" fill="#666" stroke="#666" stroke-width="0.06" letter-spacing="0.35">0'-0"</text>
<text x="136.4" y="114.88" font-size="4.4" text-anchor="middle" fill="#1e1e1e" stroke="#1e1e1e" stroke-width="0.24">GARAGE</text>
<rect x="128.6" y="118.9" width="17.6" height="5.4" fill="#fff" stroke="#2a2a2a" stroke-width="0.55"/>
<text x="137.4" y="122.72" font-size="3.1" text-anchor="middle" fill="#1e1e1e" stroke="#1e1e1e" stroke-width="0.17">617.2 ft²</text>
<circle cx="121" cy="140.4" r="3.1" fill="#fff" stroke="#2a2a2a" stroke-width="0.5"/>
<circle cx="121" cy="140.4" r="2.2" fill="none" stroke="#2a2a2a" stroke-width="0.3"/>
<text x="121" y="141.3" font-size="2.5" text-anchor="middle" fill="#1e1e1e" stroke="#1e1e1e" stroke-width="0.14">SD</text>
<line x1="70.3" y1="117.8" x2="70.3" y2="151" stroke="#2a2a2a" stroke-width="0.5"/>
<path d="M70.3 156.7L69.2 149.5L71.4 149.5Z" fill="#111" stroke="#2a2a2a" stroke-width="0.3"/>
<line x1="154.4" y1="117.8" x2="154.4" y2="151" stroke="#2a2a2a" stroke-width="0.5"/>
<path d="M154.4 156.7L153.3 149.5L155.5 149.5Z" fill="#111" stroke="#2a2a2a" stroke-width="0.3"/>
<path d="M48.2 205.9V162.5H99.2V205.9" fill="none" stroke="#2a2a2a" stroke-width="0.5" stroke-dasharray="3.4 2"/>
<path d="M111 205.9V162.5H211.7V205.9" fill="none" stroke="#2a2a2a" stroke-width="0.5" stroke-dasharray="3.4 2"/>
<line x1="38.9" y1="220.8" x2="220.6" y2="220.8" stroke="#2a2a2a" stroke-width="0.45"/>
<line x1="37.75" y1="221.95" x2="40.05" y2="219.65" stroke="#111" stroke-width="1"/>
<line x1="47.05" y1="221.95" x2="49.35" y2="219.65" stroke="#111" stroke-width="1"/>
<line x1="97.25" y1="221.95" x2="99.55" y2="219.65" stroke="#111" stroke-width="1"/>
<line x1="109.85" y1="221.95" x2="112.15" y2="219.65" stroke="#111" stroke-width="1"/>
<line x1="210.55" y1="221.95" x2="212.85" y2="219.65" stroke="#111" stroke-width="1"/>
<line x1="219.45" y1="221.95" x2="221.75" y2="219.65" stroke="#111" stroke-width="1"/>
<text x="73.6" y="219.33" font-size="3.96" text-anchor="middle" fill="#1e1e1e" stroke="#1e1e1e" stroke-width="0.22" letter-spacing="0.45">8'-0"</text>
<text x="104.7" y="219.33" font-size="3.96" text-anchor="middle" fill="#1e1e1e" stroke="#1e1e1e" stroke-width="0.22" letter-spacing="0.45">2'-0"</text>
<text x="160.7" y="219.33" font-size="3.96" text-anchor="middle" fill="#1e1e1e" stroke="#1e1e1e" stroke-width="0.22" letter-spacing="0.45">16'-0"</text>
<line x1="38.9" y1="212" x2="38.9" y2="222" stroke="#2a2a2a" stroke-width="0.4"/>
<line x1="48.2" y1="212" x2="48.2" y2="222" stroke="#2a2a2a" stroke-width="0.4"/>
<line x1="98.4" y1="212" x2="98.4" y2="222" stroke="#2a2a2a" stroke-width="0.4"/>
<line x1="111" y1="212" x2="111" y2="222" stroke="#2a2a2a" stroke-width="0.4"/>
<line x1="211.7" y1="212" x2="211.7" y2="222" stroke="#2a2a2a" stroke-width="0.4"/>
<line x1="220.6" y1="212" x2="220.6" y2="222" stroke="#2a2a2a" stroke-width="0.4"/>
<rect x="66.9" y="209.7" width="9.4" height="4.6" fill="#fff" stroke="#2a2a2a" stroke-width="0.5" rx="2.3"/>
<text x="71.6" y="213.08" font-size="3" text-anchor="middle" fill="#1e1e1e" stroke="#1e1e1e" stroke-width="0.17" letter-spacing="0.15">G01</text>
<rect x="154" y="209.7" width="9.4" height="4.6" fill="#fff" stroke="#2a2a2a" stroke-width="0.5" rx="2.3"/>
<text x="158.7" y="213.08" font-size="3" text-anchor="middle" fill="#1e1e1e" stroke="#1e1e1e" stroke-width="0.17" letter-spacing="0.15">G02</text>
<text x="57.3" y="229.77" font-size="3.8" text-anchor="middle" fill="#1e1e1e" stroke="#1e1e1e" stroke-width="0.21" letter-spacing="0.4">1'-6"</text>
<text x="201.7" y="230.27" font-size="3.8" text-anchor="middle" fill="#1e1e1e" stroke="#1e1e1e" stroke-width="0.21" letter-spacing="0.4">1'-6"</text>
<path d="M43.5 220.8L51.5 230.4H63" fill="none" stroke="#2a2a2a" stroke-width="0.45"/>
<path d="M216 220.8L208 231H196" fill="none" stroke="#2a2a2a" stroke-width="0.45"/>
<text x="101.7" y="228.45" font-size="3.2" text-anchor="start" fill="#1e1e1e" stroke="#1e1e1e" stroke-width="0.18" textLength="36" lengthAdjust="spacingAndGlyphs">3/4" RECESS IN SLAB</text>
<text x="101.7" y="233.15" font-size="3.2" text-anchor="start" fill="#1e1e1e" stroke="#1e1e1e" stroke-width="0.18" textLength="20" lengthAdjust="spacingAndGlyphs">WATER STOP</text>
<path d="M79.9 205.8L99.2 229.9" fill="none" stroke="#2a2a2a" stroke-width="0.45"/>
<path d="M151.4 205.8L143.7 229.9H137.8" fill="none" stroke="#2a2a2a" stroke-width="0.45"/>
<line x1="38.9" y1="240.4" x2="220.6" y2="240.4" stroke="#2a2a2a" stroke-width="0.45"/>
<line x1="37.75" y1="241.55" x2="40.05" y2="239.25" stroke="#111" stroke-width="1"/>
<line x1="219.45" y1="241.55" x2="221.75" y2="239.25" stroke="#111" stroke-width="1"/>
<text x="129.8" y="239.23" font-size="3.96" text-anchor="middle" fill="#1e1e1e" stroke="#1e1e1e" stroke-width="0.22" letter-spacing="0.45">29'-0"</text>
<line x1="38.9" y1="222" x2="38.9" y2="241.5" stroke="#2a2a2a" stroke-width="0.4"/>
<line x1="220.6" y1="222" x2="220.6" y2="241.5" stroke="#2a2a2a" stroke-width="0.4"/>
<path d="M216.7 74.7V48.8H242.7V74.7" fill="none" stroke="#2a2a2a" stroke-width="0.45"/>
<path d="M220 74.7V51.8H239.7" fill="none" stroke="#2a2a2a" stroke-width="0.45"/>
<line x1="239.7" y1="54.6" x2="239.7" y2="74.7" stroke="#222" stroke-width="1.1"/>
<line x1="241.1" y1="54.6" x2="241.1" y2="74.7" stroke="#2a2a2a" stroke-width="0.4"/>
<path d="M239.7 54.6A19.7 19.7 0 0 0 220.6 74.7" fill="none" stroke="#2a2a2a" stroke-width="0.45"/>
<path d="M216 46.5A4.8 4.8 0 0 1 223.75 46.5A4.8 4.8 0 0 1 231.5 46.5A4.8 4.8 0 0 1 239.25 46.5A4.8 4.8 0 0 1 247 46.5A4.41 4.41 0 0 1 251.5 52A4.13 4.13 0 0 1 251.5 58.67A4.13 4.13 0 0 1 251.5 65.33A4.13 4.13 0 0 1 251.5 72A5 5 0 0 1 247.5 79A5.95 5.95 0 0 1 240 85A5.58 5.58 0 0 1 231 85A5.58 5.58 0 0 1 222 85A5.72 5.72 0 0 1 215 79A5 5 0 0 1 211 72A4.13 4.13 0 0 1 211 65.33A4.13 4.13 0 0 1 211 58.67A4.13 4.13 0 0 1 211 52A4.61 4.61 0 0 1 216 46.5Z" fill="none" stroke="#222" stroke-width="0.6"/>
<rect x="225.1" y="76.7" width="9.4" height="4.6" fill="#fff" stroke="#2a2a2a" stroke-width="0.5" rx="2.3"/>
<text x="229.8" y="80.08" font-size="3" text-anchor="middle" fill="#1e1e1e" stroke="#1e1e1e" stroke-width="0.17" letter-spacing="0.15">D3</text>
<circle cx="227.6" cy="67.2" r="2.5" fill="#111" stroke="#111" stroke-width="0.4"/>
<path d="M227.6 67.2L227.6 65.83A1.38 1.38 0 0 1 228.97 67.2Z" fill="#fff" stroke="#fff" stroke-width="0.1"/>
<path d="M227.6 67.2L227.6 68.58A1.38 1.38 0 0 1 226.22 67.2Z" fill="#fff" stroke="#fff" stroke-width="0.1"/>
<text x="231.1" y="65.35" font-size="3.2" text-anchor="start" fill="#666" stroke="#666" stroke-width="0.06" letter-spacing="0.35">0'-0"</text>
<circle cx="244.4" cy="84.9" r="2.5" fill="#111" stroke="#111" stroke-width="0.4"/>
<path d="M244.4 84.9L244.4 83.53A1.38 1.38 0 0 1 245.78 84.9Z" fill="#fff" stroke="#fff" stroke-width="0.1"/>
<path d="M244.4 84.9L244.4 86.28A1.38 1.38 0 0 1 243.03 84.9Z" fill="#fff" stroke="#fff" stroke-width="0.1"/>
<text x="247.9" y="83.05" font-size="3.2" text-anchor="start" fill="#666" stroke="#666" stroke-width="0.06" letter-spacing="0.35">0'-0"</text>
<rect x="239.7" y="74.9" width="146" height="4.2" fill="url(#hx)" stroke="#2a2a2a" stroke-width="0.75"/>
<rect x="254.4" y="62.3" width="37.6" height="12.4" fill="url(#hx)" stroke="#2a2a2a" stroke-width="0.75"/>
<rect x="258.6" y="66.5" width="29.3" height="8.1" fill="#fff" stroke="#2a2a2a" stroke-width="0.55"/>
<line x1="297.5" y1="62.3" x2="297.5" y2="74.7" stroke="#2a2a2a" stroke-width="0.45"/>
<line x1="296.35" y1="63.45" x2="298.65" y2="61.15" stroke="#111" stroke-width="1"/>
<line x1="296.35" y1="75.85" x2="298.65" y2="73.55" stroke="#111" stroke-width="1"/>
<text x="295.4" y="69.71" font-size="3.36" text-anchor="middle" fill="#1e1e1e" stroke="#1e1e1e" stroke-width="0.18" letter-spacing="0.45" transform="rotate(-90 295.4 68.5)">2'-0"</text>
<line x1="216.7" y1="95.8" x2="267.8" y2="95.8" stroke="#2a2a2a" stroke-width="0.45"/>
<line x1="215.55" y1="96.95" x2="217.85" y2="94.65" stroke="#111" stroke-width="1"/>
<line x1="266.65" y1="96.95" x2="268.95" y2="94.65" stroke="#111" stroke-width="1"/>
<text x="245.2" y="94.63" font-size="3.96" text-anchor="middle" fill="#1e1e1e" stroke="#1e1e1e" stroke-width="0.22" letter-spacing="0.45">9'-1"</text>
<line x1="216.7" y1="94" x2="216.7" y2="108.7" stroke="#2a2a2a" stroke-width="0.4"/>
<line x1="231.8" y1="105.4" x2="231.8" y2="108.7" stroke="#2a2a2a" stroke-width="0.45"/>
<path d="M225.5 99.1L231.8 92.8L238.1 99.1L231.8 105.4Z" fill="#fff" stroke="#2a2a2a" stroke-width="0.5"/>
<text x="231.8" y="100.18" font-size="3" text-anchor="middle" fill="#1e1e1e" stroke="#1e1e1e" stroke-width="0.17" letter-spacing="0.15">W1</text>
<path d="M285.4 86.1L291.7 79.8L298 86.1L291.7 92.4Z" fill="#fff" stroke="#2a2a2a" stroke-width="0.5"/>
<text x="291.7" y="87.18" font-size="3" text-anchor="middle" fill="#1e1e1e" stroke="#1e1e1e" stroke-width="0.17" letter-spacing="0.15">W1</text>
<rect x="273.7" y="79.1" width="4.1" height="6.9" fill="url(#hx)" stroke="#2a2a2a" stroke-width="0.75"/>
<line x1="267.8" y1="86" x2="267.8" y2="108.7" stroke="#2a2a2a" stroke-width="0.45"/>
<line x1="266.65" y1="87.15" x2="268.95" y2="84.85" stroke="#111" stroke-width="1"/>
<line x1="266.65" y1="109.85" x2="268.95" y2="107.55" stroke="#111" stroke-width="1"/>
<text x="265.2" y="95.03" font-size="3.96" text-anchor="middle" fill="#1e1e1e" stroke="#1e1e1e" stroke-width="0.22" letter-spacing="0.45" transform="rotate(-90 265.2 93.6)">4'-2"</text>
<line x1="273.7" y1="102.6" x2="292.9" y2="102.6" stroke="#2a2a2a" stroke-width="0.5"/>
<line x1="273.7" y1="103.6" x2="292.9" y2="103.6" stroke="#2a2a2a" stroke-width="0.5"/>
<path d="M277.8 87.0A15.6 15.6 0 0 1 292.9 102.6" fill="none" stroke="#2a2a2a" stroke-width="0.45"/>
<rect x="276.2" y="93.8" width="9.4" height="4.6" fill="#fff" stroke="#2a2a2a" stroke-width="0.5" rx="2.3"/>
<text x="280.9" y="97.18" font-size="3" text-anchor="middle" fill="#1e1e1e" stroke="#1e1e1e" stroke-width="0.17" letter-spacing="0.15">D4</text>
<rect x="216.7" y="108.7" width="61.1" height="4.2" fill="url(#hx)" stroke="#2a2a2a" stroke-width="0.75"/>
<rect x="273.7" y="104.5" width="4.1" height="37.3" fill="url(#hx)" stroke="#2a2a2a" stroke-width="0.75"/>
<rect x="277.8" y="108.7" width="51.2" height="3.1" fill="#fff" stroke="#2a2a2a" stroke-width="0.55"/>
<rect x="332.9" y="107.9" width="9.4" height="4.6" fill="#fff" stroke="#2a2a2a" stroke-width="0.5" rx="2.3"/>
<text x="337.6" y="111.28" font-size="3" text-anchor="middle" fill="#1e1e1e" stroke="#1e1e1e" stroke-width="0.17" letter-spacing="0.15">D4</text>
<line x1="328" y1="121" x2="351.4" y2="121" stroke="#2a2a2a" stroke-width="0.45"/>
<line x1="326.85" y1="122.15" x2="329.15" y2="119.85" stroke="#111" stroke-width="1"/>
<line x1="350.25" y1="122.15" x2="352.55" y2="119.85" stroke="#111" stroke-width="1"/>
<text x="339" y="119.43" font-size="3.96" text-anchor="middle" fill="#1e1e1e" stroke="#1e1e1e" stroke-width="0.22" letter-spacing="0.45">3'-0"</text>
<circle cx="212.6" cy="117" r="1.6" fill="none" stroke="#2a2a2a" stroke-width="0.45"/>
<circle cx="212.6" cy="123" r="1.6" fill="none" stroke="#2a2a2a" stroke-width="0.45"/>
<line x1="211" y1="117" x2="214.2" y2="117" stroke="#2a2a2a" stroke-width="0.35"/>
<line x1="211" y1="123" x2="214.2" y2="123" stroke="#2a2a2a" stroke-width="0.35"/>
<rect x="273.7" y="161" width="4.1" height="46.6" fill="url(#hx)" stroke="#2a2a2a" stroke-width="0.75"/>
<rect x="273.2" y="142.2" width="5.1" height="18.4" fill="#fff" stroke="#fff" stroke-width="0.01"/>
<line x1="274" y1="141.8" x2="274" y2="161" stroke="#2a2a2a" stroke-width="0.4"/>
<line x1="277.5" y1="141.8" x2="277.5" y2="161" stroke="#555" stroke-width="0.45"/>
<line x1="275.75" y1="141.8" x2="275.75" y2="161" stroke="#222" stroke-width="0.95"/>
<line x1="220.6" y1="138.4" x2="273.7" y2="138.4" stroke="#2a2a2a" stroke-width="0.45"/>
<line x1="219.45" y1="139.55" x2="221.75" y2="137.25" stroke="#111" stroke-width="1"/>
<line x1="272.55" y1="139.55" x2="274.85" y2="137.25" stroke="#111" stroke-width="1"/>
<text x="247.4" y="137.43" font-size="3.96" text-anchor="middle" fill="#1e1e1e" stroke="#1e1e1e" stroke-width="0.22" letter-spacing="0.45">8'-5"</text>
<line x1="277.8" y1="138.9" x2="351.4" y2="138.9" stroke="#2a2a2a" stroke-width="0.45"/>
<line x1="276.65" y1="140.05" x2="278.95" y2="137.75" stroke="#111" stroke-width="1"/>
<line x1="350.25" y1="140.05" x2="352.55" y2="137.75" stroke="#111" stroke-width="1"/>
<text x="314.3" y="137.83" font-size="3.96" text-anchor="middle" fill="#1e1e1e" stroke="#1e1e1e" stroke-width="0.22" letter-spacing="0.45">11'-10"</text>
<line x1="258.3" y1="141.8" x2="258.3" y2="161" stroke="#2a2a2a" stroke-width="0.45"/>
<line x1="257.15" y1="142.95" x2="259.45" y2="140.65" stroke="#111" stroke-width="1"/>
<line x1="257.15" y1="162.15" x2="259.45" y2="159.85" stroke="#111" stroke-width="1"/>
<text x="255.4" y="153.83" font-size="3.96" text-anchor="middle" fill="#1e1e1e" stroke="#1e1e1e" stroke-width="0.22" letter-spacing="0.45" transform="rotate(-90 255.4 152.4)">3'-0"</text>
<line x1="257" y1="141.8" x2="273.7" y2="141.8" stroke="#2a2a2a" stroke-width="0.4"/>
<line x1="257" y1="161" x2="273.7" y2="161" stroke="#2a2a2a" stroke-width="0.4"/>
<path d="M269.11 155.7L265.3 157.9L261.49 155.7L261.49 151.3L265.3 149.1L269.11 151.3Z" fill="#fff" stroke="#2a2a2a" stroke-width="0.5"/>
<text x="265.3" y="154.51" font-size="2.8" text-anchor="middle" fill="#1e1e1e" stroke="#1e1e1e" stroke-width="0.15">W02</text>
<rect x="236.4" y="162" width="17.6" height="4.8" fill="#fff" stroke="#2a2a2a" stroke-width="0.55"/>
<text x="245.2" y="165.52" font-size="3.1" text-anchor="middle" fill="#1e1e1e" stroke="#1e1e1e" stroke-width="0.17">125.7 ft²</text>
<text x="254" y="172.94" font-size="2.9" text-anchor="middle" fill="#1e1e1e" stroke="#1e1e1e" stroke-width="0.16">HOSE</text>
<text x="254" y="176.64" font-size="2.9" text-anchor="middle" fill="#1e1e1e" stroke="#1e1e1e" stroke-width="0.16">BIB</text>
<path d="M258.5 173.5L264 169L271.5 167.6" fill="none" stroke="#2a2a2a" stroke-width="0.45"/>
<path d="M273.7 167.2L270.7 166.2L271.2 169Z" fill="#111" stroke="#2a2a2a" stroke-width="0.3"/>
<line x1="266.1" y1="161" x2="266.1" y2="207" stroke="#2a2a2a" stroke-width="0.45"/>
<line x1="264.95" y1="162.15" x2="267.25" y2="159.85" stroke="#111" stroke-width="1"/>
<line x1="264.95" y1="208.15" x2="267.25" y2="205.85" stroke="#111" stroke-width="1"/>
<text x="263.4" y="183.43" font-size="3.96" text-anchor="middle" fill="#1e1e1e" stroke="#1e1e1e" stroke-width="0.22" letter-spacing="0.45" transform="rotate(-90 263.4 182)">7'-5"</text>
<rect x="277.8" y="114" width="13.4" height="11" fill="none" stroke="#2a2a2a" stroke-width="0.5"/>
<rect x="277.8" y="125" width="13.4" height="12" fill="none" stroke="#2a2a2a" stroke-width="0.5"/>
<circle cx="284.5" cy="119.5" r="1" fill="none" stroke="#2a2a2a" stroke-width="0.4"/>
<circle cx="284.5" cy="131" r="1" fill="none" stroke="#2a2a2a" stroke-width="0.4"/>
<rect x="277.8" y="146" width="13.4" height="13.3" fill="none" stroke="#2a2a2a" stroke-width="0.5"/>
<rect x="277.8" y="162.7" width="13.4" height="15.1" fill="none" stroke="#2a2a2a" stroke-width="0.5"/>
<rect x="303" y="112.9" width="12.5" height="12.5" fill="none" stroke="#2a2a2a" stroke-width="0.6"/>
<rect x="304.6" y="114.3" width="9.3" height="9.5" fill="none" stroke="#2a2a2a" stroke-width="0.45"/>
<path d="M302.8 113.2L306.5 118.6" fill="none" stroke="#111" stroke-width="0.8"/>
<path d="M293.3 131.4L299.6 125.1L305.9 131.4L299.6 137.7Z" fill="#fff" stroke="#2a2a2a" stroke-width="0.5"/>
<text x="299.6" y="132.48" font-size="3" text-anchor="middle" fill="#1e1e1e" stroke="#1e1e1e" stroke-width="0.17" letter-spacing="0.15">W2</text>
<line x1="337.4" y1="131.4" x2="351.4" y2="131.4" stroke="#2a2a2a" stroke-width="0.45"/>
<path d="M324.8 131.4L331.1 125.1L337.4 131.4L331.1 137.7Z" fill="#fff" stroke="#2a2a2a" stroke-width="0.5"/>
<text x="331.1" y="132.48" font-size="3" text-anchor="middle" fill="#1e1e1e" stroke="#1e1e1e" stroke-width="0.17" letter-spacing="0.15">W2</text>
<line x1="299.1" y1="138.9" x2="299.1" y2="181" stroke="#2a2a2a" stroke-width="0.45"/>
<line x1="297.95" y1="140.05" x2="300.25" y2="137.75" stroke="#111" stroke-width="1"/>
<line x1="297.95" y1="182.15" x2="300.25" y2="179.85" stroke="#111" stroke-width="1"/>
<text x="295.9" y="147.93" font-size="3.96" text-anchor="middle" fill="#1e1e1e" stroke="#1e1e1e" stroke-width="0.22" letter-spacing="0.45" transform="rotate(-90 295.9 146.5)">10'-11"</text>
<text x="328.1" y="144.68" font-size="4.4" text-anchor="middle" fill="#1e1e1e" stroke="#1e1e1e" stroke-width="0.24">LAUNDRY</text>
<rect x="319.85" y="147.5" width="16.5" height="5.2" fill="#fff" stroke="#2a2a2a" stroke-width="0.55"/>
<text x="328.1" y="151.22" font-size="3.1" text-anchor="middle" fill="#1e1e1e" stroke="#1e1e1e" stroke-width="0.17">114.4 ft²</text>
<line x1="302" y1="158.8" x2="351.4" y2="158.8" stroke="#2a2a2a" stroke-width="0.45"/>
<line x1="300.85" y1="159.95" x2="303.15" y2="157.65" stroke="#111" stroke-width="1"/>
<line x1="317.85" y1="159.95" x2="320.15" y2="157.65" stroke="#111" stroke-width="1"/>
<line x1="350.25" y1="159.95" x2="352.55" y2="157.65" stroke="#111" stroke-width="1"/>
<text x="310.5" y="157.53" font-size="3.96" text-anchor="middle" fill="#1e1e1e" stroke="#1e1e1e" stroke-width="0.22" letter-spacing="0.45">2'-8"</text>
<text x="335.6" y="157.53" font-size="3.96" text-anchor="middle" fill="#1e1e1e" stroke="#1e1e1e" stroke-width="0.22" letter-spacing="0.45">4'-0"</text>
<line x1="302" y1="158.8" x2="302" y2="181" stroke="#2a2a2a" stroke-width="0.4"/>
<rect x="277.8" y="180.8" width="25.2" height="2" fill="#fff" stroke="#2a2a2a" stroke-width="0.5"/>
<rect x="320.5" y="160.2" width="2.5" height="46.8" fill="#fff" stroke="#2a2a2a" stroke-width="0.5"/>
<rect x="277.8" y="204.6" width="45.2" height="2.4" fill="#fff" stroke="#2a2a2a" stroke-width="0.5"/>
<rect x="316.4" y="180.8" width="4.1" height="2" fill="#fff" stroke="#2a2a2a" stroke-width="0.5"/>
<line x1="316.4" y1="167.6" x2="316.4" y2="181" stroke="#2a2a2a" stroke-width="0.7"/>
<path d="M303 181A13.4 13.4 0 0 1 316.4 167.6" fill="none" stroke="#2a2a2a" stroke-width="0.45"/>
<rect x="306.2" y="179.6" width="8.6" height="4.2" fill="#fff" stroke="#2a2a2a" stroke-width="0.5" rx="2.1"/>
<text x="310.5" y="182.78" font-size="3" text-anchor="middle" fill="#1e1e1e" stroke="#1e1e1e" stroke-width="0.17" letter-spacing="0.15">D6</text>
<text x="301.8" y="192.38" font-size="4.4" text-anchor="middle" fill="#1e1e1e" stroke="#1e1e1e" stroke-width="0.24">LINEN/CLOSET</text>
<rect x="294.3" y="193.8" width="15" height="5.2" fill="#fff" stroke="#2a2a2a" stroke-width="0.55"/>
<text x="301.8" y="197.52" font-size="3.1" text-anchor="middle" fill="#1e1e1e" stroke="#1e1e1e" stroke-width="0.17">25.3 ft²</text>
<line x1="284.2" y1="182.8" x2="284.2" y2="204.6" stroke="#2a2a2a" stroke-width="0.45"/>
<line x1="283.05" y1="183.95" x2="285.35" y2="181.65" stroke="#111" stroke-width="1"/>
<line x1="283.05" y1="205.75" x2="285.35" y2="203.45" stroke="#111" stroke-width="1"/>
<text x="281.4" y="195.3" font-size="3.6" text-anchor="middle" fill="#1e1e1e" stroke="#1e1e1e" stroke-width="0.2" letter-spacing="0.45" transform="rotate(-90 281.4 194)">3'-6"</text>
<rect x="320.5" y="160.2" width="30.9" height="2.4" fill="#fff" stroke="#2a2a2a" stroke-width="0.5"/>
<rect x="347.3" y="160.2" width="3.2" height="22.6" fill="#fff" stroke="#2a2a2a" stroke-width="0.5"/>
<rect x="323" y="180.6" width="4.5" height="2.2" fill="#fff" stroke="#2a2a2a" stroke-width="0.5"/>
<rect x="343" y="180.6" width="8.4" height="2.2" fill="#fff" stroke="#2a2a2a" stroke-width="0.5"/>
<text x="335.3" y="167.77" font-size="3.8" text-anchor="middle" fill="#1e1e1e" stroke="#1e1e1e" stroke-width="0.21">COAT</text>
<text x="335.3" y="172.07" font-size="3.8" text-anchor="middle" fill="#1e1e1e" stroke="#1e1e1e" stroke-width="0.21">CLOSET</text>
<rect x="326.6" y="173.8" width="17.6" height="4.8" fill="#fff" stroke="#2a2a2a" stroke-width="0.55"/>
<text x="335.6" y="177.22" font-size="3.1" text-anchor="middle" fill="#1e1e1e" stroke="#1e1e1e" stroke-width="0.17">10.7 ft²</text>
<rect x="331.2" y="179.6" width="8.6" height="4.2" fill="#fff" stroke="#2a2a2a" stroke-width="0.5" rx="2.1"/>
<text x="335.5" y="182.78" font-size="3" text-anchor="middle" fill="#1e1e1e" stroke="#1e1e1e" stroke-width="0.17" letter-spacing="0.15">D6</text>
<path d="M327.9 182.8L328.8 197.4" fill="none" stroke="#2a2a2a" stroke-width="0.6"/>
<path d="M328.8 197.4A14.8 14.8 0 0 0 342.6 183" fill="none" stroke="#2a2a2a" stroke-width="0.45"/>
<text x="335.8" y="189.78" font-size="3" text-anchor="middle" fill="#1e1e1e" stroke="#1e1e1e" stroke-width="0.17">2'-8"</text>
<line x1="327" y1="190.9" x2="344" y2="190.9" stroke="#2a2a2a" stroke-width="0.4"/>
<line x1="325.85" y1="192.05" x2="328.15" y2="189.75" stroke="#111" stroke-width="1"/>
<line x1="342.85" y1="192.05" x2="345.15" y2="189.75" stroke="#111" stroke-width="1"/>
<line x1="277.8" y1="215" x2="323" y2="215" stroke="#2a2a2a" stroke-width="0.45"/>
<line x1="276.65" y1="216.15" x2="278.95" y2="213.85" stroke="#111" stroke-width="1"/>
<line x1="321.85" y1="216.15" x2="324.15" y2="213.85" stroke="#111" stroke-width="1"/>
<text x="304.8" y="213.73" font-size="3.96" text-anchor="middle" fill="#1e1e1e" stroke="#1e1e1e" stroke-width="0.22" letter-spacing="0.45">7'-3"</text>
<line x1="277.8" y1="207.6" x2="277.8" y2="216.5" stroke="#2a2a2a" stroke-width="0.4"/>
<line x1="323" y1="207" x2="323" y2="216.5" stroke="#2a2a2a" stroke-width="0.4"/>
<path d="M307.1 224.2L313.4 217.9L319.7 224.2L313.4 230.5Z" fill="#fff" stroke="#2a2a2a" stroke-width="0.5"/>
<text x="313.4" y="225.28" font-size="3" text-anchor="middle" fill="#1e1e1e" stroke="#1e1e1e" stroke-width="0.17" letter-spacing="0.15">W5</text>
<path d="M350.1 224L356.4 217.7L362.7 224L356.4 230.3Z" fill="#fff" stroke="#2a2a2a" stroke-width="0.5"/>
<text x="356.4" y="225.08" font-size="3" text-anchor="middle" fill="#1e1e1e" stroke="#1e1e1e" stroke-width="0.17" letter-spacing="0.15">W4</text>
<rect x="330.5" y="231.7" width="16" height="5" fill="#fff" stroke="#2a2a2a" stroke-width="0.55"/>
<text x="338.5" y="235.32" font-size="3.1" text-anchor="middle" fill="#1e1e1e" stroke="#1e1e1e" stroke-width="0.17">196.1 ft²</text>
<path d="M381.8 74.7V49.8H423.7" fill="none" stroke="#2a2a2a" stroke-width="0.45"/>
<path d="M385.7 74.7V54.6" fill="none" stroke="#2a2a2a" stroke-width="0.45"/>
<line x1="406.1" y1="54.6" x2="406.1" y2="74.7" stroke="#222" stroke-width="1.1"/>
<line x1="407.6" y1="54.6" x2="407.6" y2="74.7" stroke="#2a2a2a" stroke-width="0.4"/>
<line x1="410.3" y1="49.8" x2="410.3" y2="74.7" stroke="#2a2a2a" stroke-width="0.45"/>
<path d="M406.1 54.6A20.3 20.3 0 0 0 385.9 74.7" fill="none" stroke="#2a2a2a" stroke-width="0.45"/>
<line x1="423.7" y1="49.8" x2="423.7" y2="74.7" stroke="#2a2a2a" stroke-width="0.45"/>
<line x1="422.55" y1="50.95" x2="424.85" y2="48.65" stroke="#111" stroke-width="1"/>
<line x1="422.55" y1="75.85" x2="424.85" y2="73.55" stroke="#111" stroke-width="1"/>
<text x="421" y="64.03" font-size="3.96" text-anchor="middle" fill="#1e1e1e" stroke="#1e1e1e" stroke-width="0.22" letter-spacing="0.45" transform="rotate(-90 421 62.6)">4'-0"</text>
<path d="M379 43.5A5.06 5.06 0 0 1 387.17 43.5A5.06 5.06 0 0 1 395.33 43.5A5.06 5.06 0 0 1 403.5 43.5A5.06 5.06 0 0 1 411.67 43.5A5.06 5.06 0 0 1 419.83 43.5A5.06 5.06 0 0 1 428 43.5A5.08 5.08 0 0 1 433 50A4.55 4.55 0 0 1 433 57.33A4.55 4.55 0 0 1 433 64.67A4.55 4.55 0 0 1 433 72A5.3 5.3 0 0 1 430 80A7.23 7.23 0 0 1 420 86A4.96 4.96 0 0 1 412 86A4.96 4.96 0 0 1 404 86A4.96 4.96 0 0 1 396 86A4.96 4.96 0 0 1 388 86A5.72 5.72 0 0 1 381 80A6.39 6.39 0 0 1 374.5 72A4.55 4.55 0 0 1 374.5 64.67A4.55 4.55 0 0 1 374.5 57.33A4.55 4.55 0 0 1 374.5 50A4.9 4.9 0 0 1 379 43.5Z" fill="none" stroke="#222" stroke-width="0.6"/>
<path d="M389.9 30.2L397.4 22.7L404.9 30.2L397.4 37.7Z" fill="#fff" stroke="#2a2a2a" stroke-width="0.5"/>
<text x="397.4" y="31.28" font-size="3" text-anchor="middle" fill="#1e1e1e" stroke="#1e1e1e" stroke-width="0.17" letter-spacing="0.15"></text>
<circle cx="397.4" cy="30.2" r="5.2" fill="none" stroke="#2a2a2a" stroke-width="0.45"/>
<line x1="392.2" y1="30.2" x2="402.6" y2="30.2" stroke="#2a2a2a" stroke-width="0.4"/>
<text x="397.4" y="28.86" font-size="2.4" text-anchor="middle" fill="#1e1e1e" stroke="#1e1e1e" stroke-width="0.13">1</text>
<text x="397.4" y="33.23" font-size="2.3" text-anchor="middle" fill="#1e1e1e" stroke="#1e1e1e" stroke-width="0.13">A3.02</text>
<line x1="397.4" y1="37.7" x2="397.4" y2="47" stroke="#2a2a2a" stroke-width="0.45"/>
<circle cx="383" cy="44.2" r="2.5" fill="#111" stroke="#111" stroke-width="0.4"/>
<path d="M383 44.2L383 42.83A1.38 1.38 0 0 1 384.38 44.2Z" fill="#fff" stroke="#fff" stroke-width="0.1"/>
<path d="M383 44.2L383 45.58A1.38 1.38 0 0 1 381.62 44.2Z" fill="#fff" stroke="#fff" stroke-width="0.1"/>
<text x="386.5" y="42.35" font-size="3.2" text-anchor="start" fill="#666" stroke="#666" stroke-width="0.06" letter-spacing="0.35">0'-0"</text>
<circle cx="392.7" cy="66.5" r="2.5" fill="#111" stroke="#111" stroke-width="0.4"/>
<path d="M392.7 66.5L392.7 65.12A1.38 1.38 0 0 1 394.07 66.5Z" fill="#fff" stroke="#fff" stroke-width="0.1"/>
<path d="M392.7 66.5L392.7 67.88A1.38 1.38 0 0 1 391.32 66.5Z" fill="#fff" stroke="#fff" stroke-width="0.1"/>
<text x="396.2" y="64.65" font-size="3.2" text-anchor="start" fill="#666" stroke="#666" stroke-width="0.06" letter-spacing="0.35">0'-0"</text>
<circle cx="395.5" cy="92" r="2.5" fill="#111" stroke="#111" stroke-width="0.4"/>
<path d="M395.5 92L395.5 90.62A1.38 1.38 0 0 1 396.88 92Z" fill="#fff" stroke="#fff" stroke-width="0.1"/>
<path d="M395.5 92L395.5 93.38A1.38 1.38 0 0 1 394.12 92Z" fill="#fff" stroke="#fff" stroke-width="0.1"/>
<text x="399" y="90.15" font-size="3.2" text-anchor="start" fill="#666" stroke="#666" stroke-width="0.06" letter-spacing="0.35">0'-0"</text>
<rect x="391.3" y="76.5" width="9.4" height="4.6" fill="#fff" stroke="#2a2a2a" stroke-width="0.5" rx="2.3"/>
<text x="396" y="79.88" font-size="3" text-anchor="middle" fill="#1e1e1e" stroke="#1e1e1e" stroke-width="0.17" letter-spacing="0.15">D3</text>
<rect x="406.1" y="74.9" width="83.9" height="4.2" fill="url(#hx)" stroke="#2a2a2a" stroke-width="0.75"/>
<line x1="353.3" y1="84" x2="353.3" y2="79.1" stroke="#2a2a2a" stroke-width="0.45"/>
<path d="M347 90.3L353.3 84L359.6 90.3L353.3 96.6Z" fill="#fff" stroke="#2a2a2a" stroke-width="0.5"/>
<text x="353.3" y="91.38" font-size="3" text-anchor="middle" fill="#1e1e1e" stroke="#1e1e1e" stroke-width="0.17" letter-spacing="0.15">W1</text>
<line x1="384.8" y1="104.9" x2="384.8" y2="108.7" stroke="#2a2a2a" stroke-width="0.45"/>
<path d="M378.5 98.6L384.8 92.3L391.1 98.6L384.8 104.9Z" fill="#fff" stroke="#2a2a2a" stroke-width="0.5"/>
<text x="384.8" y="99.68" font-size="3" text-anchor="middle" fill="#1e1e1e" stroke="#1e1e1e" stroke-width="0.17" letter-spacing="0.15">W4</text>
<rect x="347.6" y="108.7" width="67" height="4" fill="url(#hb)" stroke="#2a2a2a" stroke-width="0.75"/>
<rect x="351.4" y="108.7" width="3.8" height="57.3" fill="url(#hb)" stroke="#2a2a2a" stroke-width="0.75"/>
<rect x="351.4" y="162.8" width="30.6" height="2.4" fill="#fff" stroke="#2a2a2a" stroke-width="0.5"/>
<rect x="381" y="144.4" width="4" height="63.3" fill="url(#hb)" stroke="#2a2a2a" stroke-width="0.75"/>
<rect x="411" y="132.6" width="3.9" height="75.1" fill="url(#hb)" stroke="#2a2a2a" stroke-width="0.75"/>
<rect x="348.6" y="204.2" width="36.4" height="3.5" fill="url(#hb)" stroke="#2a2a2a" stroke-width="0.75"/>
<rect x="348.6" y="199.3" width="2.6" height="8.4" fill="url(#hb)" stroke="#2a2a2a" stroke-width="0.75"/>
<line x1="414.6" y1="132.2" x2="430.5" y2="132.2" stroke="#2a2a2a" stroke-width="0.5"/>
<line x1="414.6" y1="133.2" x2="430.5" y2="133.2" stroke="#2a2a2a" stroke-width="0.5"/>
<path d="M414.6 115.8A16.4 16.4 0 0 1 430.5 132.2" fill="none" stroke="#2a2a2a" stroke-width="0.45"/>
<rect x="407.3" y="123.4" width="9.4" height="4.6" fill="#fff" stroke="#2a2a2a" stroke-width="0.5" rx="2.3"/>
<text x="412" y="126.78" font-size="3" text-anchor="middle" fill="#1e1e1e" stroke="#1e1e1e" stroke-width="0.17" letter-spacing="0.15">D5</text>
<line x1="406.2" y1="115" x2="406.2" y2="133.4" stroke="#2a2a2a" stroke-width="0.45"/>
<line x1="405.05" y1="116.15" x2="407.35" y2="113.85" stroke="#111" stroke-width="1"/>
<line x1="405.05" y1="134.55" x2="407.35" y2="132.25" stroke="#111" stroke-width="1"/>
<text x="403.4" y="125.03" font-size="3.96" text-anchor="middle" fill="#1e1e1e" stroke="#1e1e1e" stroke-width="0.22" letter-spacing="0.45" transform="rotate(-90 403.4 123.6)">5'-0"</text>
<text x="384.9" y="120.88" font-size="4.4" text-anchor="middle" fill="#1e1e1e" stroke="#1e1e1e" stroke-width="0.24">PANTRY</text>
<rect x="377.65" y="123" width="14.5" height="5.2" fill="#fff" stroke="#2a2a2a" stroke-width="0.55"/>
<text x="384.9" y="126.72" font-size="3.1" text-anchor="middle" fill="#1e1e1e" stroke="#1e1e1e" stroke-width="0.17">59.6 ft²</text>
<line x1="362.1" y1="138.5" x2="406.2" y2="138.5" stroke="#2a2a2a" stroke-width="0.45"/>
<line x1="360.95" y1="139.65" x2="363.25" y2="137.35" stroke="#111" stroke-width="1"/>
<line x1="374.85" y1="139.65" x2="377.15" y2="137.35" stroke="#111" stroke-width="1"/>
<line x1="379.85" y1="139.65" x2="382.15" y2="137.35" stroke="#111" stroke-width="1"/>
<line x1="405.05" y1="139.65" x2="407.35" y2="137.35" stroke="#111" stroke-width="1"/>
<text x="366.6" y="137.33" font-size="3.96" text-anchor="middle" fill="#1e1e1e" stroke="#1e1e1e" stroke-width="0.22" letter-spacing="0.45">4'-3"</text>
<text x="397.8" y="137.33" font-size="3.96" text-anchor="middle" fill="#1e1e1e" stroke="#1e1e1e" stroke-width="0.22" letter-spacing="0.45">4'-3"</text>
<line x1="376" y1="112.7" x2="376" y2="144.4" stroke="#2a2a2a" stroke-width="0.45"/>
<line x1="374.85" y1="113.85" x2="377.15" y2="111.55" stroke="#111" stroke-width="1"/>
<line x1="374.85" y1="145.55" x2="377.15" y2="143.25" stroke="#111" stroke-width="1"/>
<text x="373.3" y="130.6" font-size="3.6" text-anchor="middle" fill="#1e1e1e" stroke="#1e1e1e" stroke-width="0.2" letter-spacing="0.45" transform="rotate(-90 373.3 129.3)">10'-3"</text>
<line x1="362.1" y1="112.7" x2="362.1" y2="162.8" stroke="#2a2a2a" stroke-width="0.45"/>
<line x1="360.95" y1="113.85" x2="363.25" y2="111.55" stroke="#111" stroke-width="1"/>
<line x1="360.95" y1="163.95" x2="363.25" y2="161.65" stroke="#111" stroke-width="1"/>
<text x="359.6" y="146.3" font-size="3.6" text-anchor="middle" fill="#1e1e1e" stroke="#1e1e1e" stroke-width="0.2" letter-spacing="0.45" transform="rotate(-90 359.6 145)">6'-3"</text>
<line x1="373.1" y1="153.6" x2="381" y2="153.6" stroke="#2a2a2a" stroke-width="0.45"/>
<path d="M360.5 153.6L366.8 147.3L373.1 153.6L366.8 159.9Z" fill="#fff" stroke="#2a2a2a" stroke-width="0.5"/>
<text x="366.8" y="154.68" font-size="3" text-anchor="middle" fill="#1e1e1e" stroke="#1e1e1e" stroke-width="0.17" letter-spacing="0.15">W4</text>
<line x1="385" y1="138.8" x2="411" y2="138.8" stroke="#2a2a2a" stroke-width="0.45"/>
<text x="388.7" y="142.95" font-size="3.2" text-anchor="middle" fill="#1e1e1e" stroke="#1e1e1e" stroke-width="0.18">14</text>
<line x1="385" y1="144.53" x2="411" y2="144.53" stroke="#2a2a2a" stroke-width="0.45"/>
<text x="388.7" y="148.68" font-size="3.2" text-anchor="middle" fill="#1e1e1e" stroke="#1e1e1e" stroke-width="0.18">13</text>
<line x1="385" y1="150.26" x2="411" y2="150.26" stroke="#2a2a2a" stroke-width="0.45"/>
<text x="388.7" y="154.41" font-size="3.2" text-anchor="middle" fill="#1e1e1e" stroke="#1e1e1e" stroke-width="0.18">12</text>
<line x1="385" y1="155.99" x2="411" y2="155.99" stroke="#2a2a2a" stroke-width="0.45"/>
<text x="388.7" y="160.14" font-size="3.2" text-anchor="middle" fill="#1e1e1e" stroke="#1e1e1e" stroke-width="0.18">11</text>
<line x1="385" y1="161.72" x2="411" y2="161.72" stroke="#2a2a2a" stroke-width="0.45"/>
<text x="388.7" y="165.87" font-size="3.2" text-anchor="middle" fill="#1e1e1e" stroke="#1e1e1e" stroke-width="0.18">10</text>
<line x1="385" y1="167.45" x2="411" y2="167.45" stroke="#2a2a2a" stroke-width="0.45"/>
<text x="388.7" y="171.6" font-size="3.2" text-anchor="middle" fill="#1e1e1e" stroke="#1e1e1e" stroke-width="0.18">9</text>
<line x1="385" y1="173.18" x2="411" y2="173.18" stroke="#2a2a2a" stroke-width="0.45"/>
<text x="388.7" y="177.33" font-size="3.2" text-anchor="middle" fill="#1e1e1e" stroke="#1e1e1e" stroke-width="0.18">8</text>
<line x1="385" y1="178.91" x2="411" y2="178.91" stroke="#2a2a2a" stroke-width="0.45"/>
<text x="388.7" y="183.06" font-size="3.2" text-anchor="middle" fill="#1e1e1e" stroke="#1e1e1e" stroke-width="0.18">7</text>
<line x1="385" y1="184.64" x2="411" y2="184.64" stroke="#2a2a2a" stroke-width="0.45"/>
<text x="388.7" y="188.79" font-size="3.2" text-anchor="middle" fill="#1e1e1e" stroke="#1e1e1e" stroke-width="0.18">6</text>
<line x1="385" y1="190.37" x2="411" y2="190.37" stroke="#2a2a2a" stroke-width="0.45"/>
<text x="388.7" y="194.52" font-size="3.2" text-anchor="middle" fill="#1e1e1e" stroke="#1e1e1e" stroke-width="0.18">5</text>
<line x1="385" y1="196.1" x2="411" y2="196.1" stroke="#2a2a2a" stroke-width="0.45"/>
<text x="388.7" y="200.25" font-size="3.2" text-anchor="middle" fill="#1e1e1e" stroke="#1e1e1e" stroke-width="0.18">4</text>
<line x1="385" y1="201.83" x2="411" y2="201.83" stroke="#2a2a2a" stroke-width="0.45"/>
<text x="388.7" y="205.98" font-size="3.2" text-anchor="middle" fill="#1e1e1e" stroke="#1e1e1e" stroke-width="0.18">3</text>
<rect x="382" y="207.7" width="32.7" height="5.7" fill="none" stroke="#2a2a2a" stroke-width="0.45"/>
<rect x="382" y="213.4" width="32.7" height="5.7" fill="none" stroke="#2a2a2a" stroke-width="0.45"/>
<text x="388.7" y="211.85" font-size="3.2" text-anchor="middle" fill="#1e1e1e" stroke="#1e1e1e" stroke-width="0.18">2</text>
<text x="388.7" y="217.45" font-size="3.2" text-anchor="middle" fill="#1e1e1e" stroke="#1e1e1e" stroke-width="0.18">1</text>
<line x1="398.3" y1="180.5" x2="398.3" y2="219.1" stroke="#2a2a2a" stroke-width="0.45"/>
<path d="M395.8 183.4L398.3 179.8L400.8 183.4" fill="none" stroke="#2a2a2a" stroke-width="0.45"/>
<circle cx="384" cy="223.6" r="3.4" fill="#fff" stroke="#2a2a2a" stroke-width="0.5"/>
<circle cx="384" cy="223.6" r="2.5" fill="none" stroke="#2a2a2a" stroke-width="0.3"/>
<text x="384" y="224.5" font-size="2.5" text-anchor="middle" fill="#1e1e1e" stroke="#1e1e1e" stroke-width="0.14">SD</text>
<text x="395.4" y="223.34" font-size="2.6" text-anchor="middle" fill="#1e1e1e" stroke="#1e1e1e" stroke-width="0.14" transform="rotate(-30 395.4 222.4)">UP</text>
<line x1="423.5" y1="132.6" x2="423.5" y2="207.7" stroke="#2a2a2a" stroke-width="0.45" stroke-dasharray="2.4 1.6"/>
<line x1="430.5" y1="133.2" x2="430.5" y2="158.6" stroke="#2a2a2a" stroke-width="0.45"/>
<line x1="430.7" y1="177" x2="430.7" y2="207.5" stroke="#2a2a2a" stroke-width="0.45"/>
<rect x="420.4" y="158.6" width="10.9" height="18.4" fill="#ddd" stroke="#222" stroke-width="0.9"/>
<circle cx="423.3" cy="161.6" r="1.5" fill="#fff" stroke="#222" stroke-width="0.55"/>
<circle cx="428.5" cy="161.6" r="1.5" fill="#fff" stroke="#222" stroke-width="0.55"/>
<circle cx="423.3" cy="161.6" r="0.6" fill="none" stroke="#222" stroke-width="0.4"/>
<circle cx="428.5" cy="161.6" r="0.6" fill="none" stroke="#222" stroke-width="0.4"/>
<circle cx="423.3" cy="167.8" r="1.5" fill="#fff" stroke="#222" stroke-width="0.55"/>
<circle cx="428.5" cy="167.8" r="1.5" fill="#fff" stroke="#222" stroke-width="0.55"/>
<circle cx="423.3" cy="167.8" r="0.6" fill="none" stroke="#222" stroke-width="0.4"/>
<circle cx="428.5" cy="167.8" r="0.6" fill="none" stroke="#222" stroke-width="0.4"/>
<circle cx="423.3" cy="174" r="1.5" fill="#fff" stroke="#222" stroke-width="0.55"/>
<circle cx="428.5" cy="174" r="1.5" fill="#fff" stroke="#222" stroke-width="0.55"/>
<circle cx="423.3" cy="174" r="0.6" fill="none" stroke="#222" stroke-width="0.4"/>
<circle cx="428.5" cy="174" r="0.6" fill="none" stroke="#222" stroke-width="0.4"/>
<line x1="420.4" y1="164.7" x2="431.3" y2="164.7" stroke="#222" stroke-width="0.5"/>
<line x1="420.4" y1="170.9" x2="431.3" y2="170.9" stroke="#222" stroke-width="0.5"/>
<line x1="425.9" y1="158.6" x2="425.9" y2="177" stroke="#222" stroke-width="0.5"/>
<path d="M417.5 145H426.5V156" fill="none" stroke="#2a2a2a" stroke-width="0.45"/>
<path d="M420 145L426.5 152" fill="none" stroke="#2a2a2a" stroke-width="0.4"/>
<line x1="439.7" y1="111.7" x2="439.7" y2="206.7" stroke="#2a2a2a" stroke-width="0.45"/>
<line x1="438.55" y1="112.85" x2="440.85" y2="110.55" stroke="#111" stroke-width="1"/>
<line x1="438.55" y1="207.85" x2="440.85" y2="205.55" stroke="#111" stroke-width="1"/>
<text x="437" y="161.73" font-size="3.96" text-anchor="middle" fill="#1e1e1e" stroke="#1e1e1e" stroke-width="0.22" letter-spacing="0.45" transform="rotate(-90 437 160.3)">15'-3"</text>
<line x1="414.6" y1="111.9" x2="439.7" y2="111.9" stroke="#2a2a2a" stroke-width="0.4"/>
<line x1="414.9" y1="207.7" x2="439.8" y2="207.7" stroke="#2a2a2a" stroke-width="0.4"/>
<line x1="438" y1="181.2" x2="414.9" y2="181.2" stroke="#2a2a2a" stroke-width="0.45"/>
<path d="M438 181.2L444.3 174.9L450.6 181.2L444.3 187.5Z" fill="#fff" stroke="#2a2a2a" stroke-width="0.5"/>
<text x="444.3" y="182.28" font-size="3" text-anchor="middle" fill="#1e1e1e" stroke="#1e1e1e" stroke-width="0.17" letter-spacing="0.15">W4</text>
<line x1="349.4" y1="214.9" x2="382" y2="214.9" stroke="#2a2a2a" stroke-width="0.45"/>
<line x1="348.25" y1="216.05" x2="350.55" y2="213.75" stroke="#111" stroke-width="1"/>
<line x1="380.85" y1="216.05" x2="383.15" y2="213.75" stroke="#111" stroke-width="1"/>
<text x="365.8" y="213.63" font-size="3.96" text-anchor="middle" fill="#1e1e1e" stroke="#1e1e1e" stroke-width="0.22" letter-spacing="0.45">5'-0"</text>
<line x1="349.4" y1="207.7" x2="349.4" y2="216.5" stroke="#2a2a2a" stroke-width="0.4"/>
<text x="361" y="170.5" font-size="3.9" text-anchor="middle" fill="#1e1e1e" stroke="#1e1e1e" stroke-width="0.21">POWDER</text>
<text x="361" y="176" font-size="3.9" text-anchor="middle" fill="#1e1e1e" stroke="#1e1e1e" stroke-width="0.21">ROOM</text>
<rect x="353.6" y="178" width="14.8" height="4.8" fill="#fff" stroke="#2a2a2a" stroke-width="0.55"/>
<text x="361" y="181.52" font-size="3.1" text-anchor="middle" fill="#1e1e1e" stroke="#1e1e1e" stroke-width="0.17">30.8 ft²</text>
<rect x="349.2" y="162.8" width="2.2" height="23.2" fill="#fff" stroke="#2a2a2a" stroke-width="0.5"/>
<line x1="376.5" y1="165.2" x2="376.5" y2="204.2" stroke="#2a2a2a" stroke-width="0.45"/>
<line x1="375.35" y1="166.35" x2="377.65" y2="164.05" stroke="#111" stroke-width="1"/>
<line x1="375.35" y1="205.35" x2="377.65" y2="203.05" stroke="#111" stroke-width="1"/>
<text x="374" y="186.65" font-size="3.48" text-anchor="middle" fill="#1e1e1e" stroke="#1e1e1e" stroke-width="0.19" letter-spacing="0.45" transform="rotate(-90 374 185.4)">6'-2"</text>
<rect x="369.5" y="171.7" width="5.8" height="5" fill="none" stroke="#2a2a2a" stroke-width="0.5"/>
<ellipse cx="372.4" cy="174.2" rx="1.8" ry="1.4" fill="none" stroke="#2a2a2a" stroke-width="0.4"/>
<rect x="371" y="191.8" width="7.7" height="3.2" fill="none" stroke="#2a2a2a" stroke-width="0.5"/>
<ellipse cx="374.8" cy="199.2" rx="2.9" ry="3.8" fill="none" stroke="#2a2a2a" stroke-width="0.5"/>
<path d="M351.2 199.3L355.3 185.2" fill="none" stroke="#2a2a2a" stroke-width="0.6"/>
<path d="M355.3 185.2A14.7 14.7 0 0 1 365.5 196.6" fill="none" stroke="#2a2a2a" stroke-width="0.45"/>
<text x="353.6" y="192.41" font-size="2.8" text-anchor="middle" fill="#1e1e1e" stroke="#1e1e1e" stroke-width="0.15" transform="rotate(-75 353.6 191.4)">2'-8"</text>
<rect x="508.8" y="74.9" width="95.1" height="4.2" fill="url(#hx)" stroke="#2a2a2a" stroke-width="0.75"/>
<rect x="622.6" y="74.9" width="61.1" height="4.2" fill="url(#hx)" stroke="#2a2a2a" stroke-width="0.75"/>
<rect x="490.4" y="74.4" width="18" height="5.2" fill="#fff" stroke="#fff" stroke-width="0.01"/>
<line x1="490" y1="75.1" x2="508.8" y2="75.1" stroke="#2a2a2a" stroke-width="0.4"/>
<line x1="490" y1="78.7" x2="508.8" y2="78.7" stroke="#555" stroke-width="0.45"/>
<line x1="490" y1="77.1" x2="508.8" y2="77.1" stroke="#222" stroke-width="0.95"/>
<rect x="604.3" y="74.4" width="17.9" height="5.2" fill="#fff" stroke="#fff" stroke-width="0.01"/>
<line x1="603.9" y1="75.1" x2="622.6" y2="75.1" stroke="#2a2a2a" stroke-width="0.4"/>
<line x1="603.9" y1="78.7" x2="622.6" y2="78.7" stroke="#555" stroke-width="0.45"/>
<line x1="603.9" y1="77.1" x2="622.6" y2="77.1" stroke="#222" stroke-width="0.95"/>
<line x1="490.3" y1="54.6" x2="696.3" y2="54.6" stroke="#2a2a2a" stroke-width="0.45"/>
<line x1="489.15" y1="55.75" x2="491.45" y2="53.45" stroke="#111" stroke-width="1"/>
<line x1="507.65" y1="55.75" x2="509.95" y2="53.45" stroke="#111" stroke-width="1"/>
<line x1="602.75" y1="55.75" x2="605.05" y2="53.45" stroke="#111" stroke-width="1"/>
<line x1="621.45" y1="55.75" x2="623.75" y2="53.45" stroke="#111" stroke-width="1"/>
<line x1="632.35" y1="55.75" x2="634.65" y2="53.45" stroke="#111" stroke-width="1"/>
<line x1="695.15" y1="55.75" x2="697.45" y2="53.45" stroke="#111" stroke-width="1"/>
<text x="499.3" y="53.33" font-size="3.96" text-anchor="middle" fill="#1e1e1e" stroke="#1e1e1e" stroke-width="0.22" letter-spacing="0.45">3'-0"</text>
<text x="556.2" y="53.33" font-size="3.96" text-anchor="middle" fill="#1e1e1e" stroke="#1e1e1e" stroke-width="0.22" letter-spacing="0.45">15'-2"</text>
<text x="613.4" y="53.33" font-size="3.96" text-anchor="middle" fill="#1e1e1e" stroke="#1e1e1e" stroke-width="0.22" letter-spacing="0.45">3'-0"</text>
<text x="639.7" y="53.33" font-size="3.96" text-anchor="middle" fill="#1e1e1e" stroke="#1e1e1e" stroke-width="0.22" letter-spacing="0.45">1'-9"</text>
<text x="665" y="53.33" font-size="3.96" text-anchor="middle" fill="#1e1e1e" stroke="#1e1e1e" stroke-width="0.22" letter-spacing="0.45">10'-0"</text>
<line x1="490.3" y1="54.6" x2="490.3" y2="74.7" stroke="#2a2a2a" stroke-width="0.4"/>
<line x1="508.8" y1="54.6" x2="508.8" y2="74.7" stroke="#2a2a2a" stroke-width="0.4"/>
<line x1="603.9" y1="54.6" x2="603.9" y2="74.7" stroke="#2a2a2a" stroke-width="0.4"/>
<line x1="622.6" y1="54.6" x2="622.6" y2="74.7" stroke="#2a2a2a" stroke-width="0.4"/>
<line x1="633.5" y1="54.6" x2="633.5" y2="74.7" stroke="#2a2a2a" stroke-width="0.4"/>
<path d="M503.61 68.7L499.8 70.9L495.99 68.7L495.99 64.3L499.8 62.1L503.61 64.3Z" fill="#fff" stroke="#2a2a2a" stroke-width="0.5"/>
<text x="499.8" y="67.51" font-size="2.8" text-anchor="middle" fill="#1e1e1e" stroke="#1e1e1e" stroke-width="0.15">W01</text>
<path d="M616.11 68.7L612.3 70.9L608.49 68.7L608.49 64.3L612.3 62.1L616.11 64.3Z" fill="#fff" stroke="#2a2a2a" stroke-width="0.5"/>
<text x="612.3" y="67.51" font-size="2.8" text-anchor="middle" fill="#1e1e1e" stroke="#1e1e1e" stroke-width="0.15">W01</text>
<rect x="428.7" y="79.1" width="31" height="13.5" fill="none" stroke="#2a2a2a" stroke-width="0.5"/>
<line x1="444.6" y1="79.1" x2="444.6" y2="92.6" stroke="#222" stroke-width="1"/>
<line x1="428.7" y1="92.8" x2="459.7" y2="92.8" stroke="#222" stroke-width="1.1"/>
<rect x="459.7" y="79.1" width="28.4" height="14.2" fill="none" stroke="#2a2a2a" stroke-width="0.45"/>
<text x="465.2" y="117.38" font-size="4.4" text-anchor="middle" fill="#1e1e1e" stroke="#1e1e1e" stroke-width="0.24">KITCHEN</text>
<rect x="457.5" y="120.8" width="16" height="5.2" fill="#fff" stroke="#2a2a2a" stroke-width="0.55"/>
<text x="465.5" y="124.52" font-size="3.1" text-anchor="middle" fill="#1e1e1e" stroke="#1e1e1e" stroke-width="0.17">415.9 ft²</text>
<rect x="458.8" y="131.8" width="31.1" height="74.3" fill="none" stroke="#2a2a2a" stroke-width="0.5"/>
<line x1="483.2" y1="131.8" x2="483.2" y2="198.3" stroke="#2a2a2a" stroke-width="0.45" stroke-dasharray="2.8 1.8"/>
<line x1="462" y1="198.3" x2="483.2" y2="198.3" stroke="#2a2a2a" stroke-width="0.45" stroke-dasharray="2.8 1.8"/>
<rect x="489.9" y="135.2" width="6.7" height="8.7" fill="none" stroke="#2a2a2a" stroke-width="0.5"/>
<line x1="495.2" y1="135.2" x2="495.2" y2="143.9" stroke="#2a2a2a" stroke-width="0.4"/>
<rect x="489.9" y="149" width="6.7" height="8.7" fill="none" stroke="#2a2a2a" stroke-width="0.5"/>
<line x1="495.2" y1="149" x2="495.2" y2="157.7" stroke="#2a2a2a" stroke-width="0.4"/>
<rect x="489.9" y="162.8" width="6.7" height="8.7" fill="none" stroke="#2a2a2a" stroke-width="0.5"/>
<line x1="495.2" y1="162.8" x2="495.2" y2="171.5" stroke="#2a2a2a" stroke-width="0.4"/>
<rect x="489.9" y="176.7" width="6.7" height="8.7" fill="none" stroke="#2a2a2a" stroke-width="0.5"/>
<line x1="495.2" y1="176.7" x2="495.2" y2="185.4" stroke="#2a2a2a" stroke-width="0.4"/>
<rect x="489.9" y="190.5" width="6.7" height="8.7" fill="none" stroke="#2a2a2a" stroke-width="0.5"/>
<line x1="495.2" y1="190.5" x2="495.2" y2="199.2" stroke="#2a2a2a" stroke-width="0.4"/>
<rect x="459.4" y="157.8" width="9.6" height="17.5" fill="none" stroke="#222" stroke-width="0.9"/>
<line x1="459.4" y1="166.6" x2="469" y2="166.6" stroke="#222" stroke-width="0.8"/>
<circle cx="464.2" cy="162.2" r="0.5" fill="#222" stroke="#2a2a2a" stroke-width="0.4"/>
<circle cx="464.2" cy="171" r="0.5" fill="#222" stroke="#2a2a2a" stroke-width="0.4"/>
<rect x="468.6" y="164.6" width="1.8" height="3" fill="#222" stroke="#2a2a2a" stroke-width="0.4"/>
<circle cx="476.5" cy="166.6" r="3.1" fill="#fff" stroke="#2a2a2a" stroke-width="0.5"/>
<circle cx="476.5" cy="166.6" r="2.2" fill="none" stroke="#2a2a2a" stroke-width="0.3"/>
<text x="476.5" y="167.5" font-size="2.5" text-anchor="middle" fill="#1e1e1e" stroke="#1e1e1e" stroke-width="0.14">SD</text>
<line x1="505.5" y1="131.8" x2="505.5" y2="206.4" stroke="#2a2a2a" stroke-width="0.45"/>
<line x1="504.35" y1="132.95" x2="506.65" y2="130.65" stroke="#111" stroke-width="1"/>
<line x1="504.35" y1="207.55" x2="506.65" y2="205.25" stroke="#111" stroke-width="1"/>
<text x="502.8" y="167.03" font-size="3.96" text-anchor="middle" fill="#1e1e1e" stroke="#1e1e1e" stroke-width="0.22" letter-spacing="0.45" transform="rotate(-90 502.8 165.6)">12'-0"</text>
<line x1="489.9" y1="131.8" x2="506.5" y2="131.8" stroke="#2a2a2a" stroke-width="0.4"/>
<rect x="512" y="79.1" width="87.7" height="8.7" fill="none" stroke="#2a2a2a" stroke-width="0.45"/>
<rect x="544.5" y="78.6" width="23.7" height="1.4" fill="#888" stroke="#2a2a2a" stroke-width="0.4"/>
<line x1="545.3" y1="81.9" x2="533.6" y2="110.4" stroke="#2a2a2a" stroke-width="0.45" stroke-dasharray="3.2 2.2"/>
<line x1="568.2" y1="81.9" x2="578.8" y2="110.4" stroke="#2a2a2a" stroke-width="0.45" stroke-dasharray="3.2 2.2"/>
<line x1="589.7" y1="89" x2="589.7" y2="79.1" stroke="#2a2a2a" stroke-width="0.45"/>
<path d="M583.4 95.3L589.7 89L596 95.3L589.7 101.6Z" fill="#fff" stroke="#2a2a2a" stroke-width="0.5"/>
<text x="589.7" y="96.38" font-size="3" text-anchor="middle" fill="#1e1e1e" stroke="#1e1e1e" stroke-width="0.17" letter-spacing="0.15">W1</text>
<rect x="539.9" y="111.4" width="27" height="21.7" fill="none" stroke="#2a2a2a" stroke-width="0.5"/>
<text x="552.8" y="120.35" font-size="4.3" text-anchor="middle" fill="#1e1e1e" stroke="#1e1e1e" stroke-width="0.24">GREAT</text>
<text x="552.8" y="125.55" font-size="4.3" text-anchor="middle" fill="#1e1e1e" stroke="#1e1e1e" stroke-width="0.24">ROOM</text>
<path d="M522.6 142.1H578.3V111.2H595.4V159.3H522.6Z" fill="none" stroke="#2a2a2a" stroke-width="0.5"/>
<line x1="525.4" y1="156.5" x2="592.6" y2="156.5" stroke="#2a2a2a" stroke-width="0.45"/>
<line x1="525.4" y1="142.1" x2="525.4" y2="156.5" stroke="#2a2a2a" stroke-width="0.45"/>
<line x1="592.6" y1="111.2" x2="592.6" y2="156.5" stroke="#2a2a2a" stroke-width="0.45"/>
<line x1="538.5" y1="142.1" x2="538.5" y2="156.5" stroke="#2a2a2a" stroke-width="0.45"/>
<line x1="551.9" y1="142.1" x2="551.9" y2="156.5" stroke="#2a2a2a" stroke-width="0.45"/>
<line x1="565.3" y1="142.1" x2="565.3" y2="156.5" stroke="#2a2a2a" stroke-width="0.45"/>
<line x1="577.9" y1="142.1" x2="577.9" y2="156.5" stroke="#2a2a2a" stroke-width="0.45"/>
<line x1="578.3" y1="128" x2="592.6" y2="128" stroke="#2a2a2a" stroke-width="0.45"/>
<line x1="578.3" y1="142.1" x2="592.6" y2="142.1" stroke="#2a2a2a" stroke-width="0.45"/>
<rect x="531.8" y="159.3" width="54.4" height="4.7" fill="none" stroke="#2a2a2a" stroke-width="0.45"/>
<circle cx="534.6" cy="162" r="1.7" fill="none" stroke="#2a2a2a" stroke-width="0.45"/>
<circle cx="534.6" cy="162" r="0.8" fill="#222" stroke="#2a2a2a" stroke-width="0.4"/>
<rect x="548.6" y="171.4" width="16.2" height="5" fill="#fff" stroke="#2a2a2a" stroke-width="0.55"/>
<text x="556.7" y="175.02" font-size="3.1" text-anchor="middle" fill="#1e1e1e" stroke="#1e1e1e" stroke-width="0.17">706.9 ft²</text>
<g transform="translate(555.1 193.6) rotate(0)"><rect x="-4.6" y="-3" width="9.2" height="6" rx="1.2" fill="#fff" stroke="#2a2a2a" stroke-width="0.5"/><line x1="-4.6" y1="-1.6" x2="4.6" y2="-1.6" stroke="#2a2a2a" stroke-width="0.4"/></g>
<g transform="translate(569.4 193.6) rotate(0)"><rect x="-4.6" y="-3" width="9.2" height="6" rx="1.2" fill="#fff" stroke="#2a2a2a" stroke-width="0.5"/><line x1="-4.6" y1="-1.6" x2="4.6" y2="-1.6" stroke="#2a2a2a" stroke-width="0.4"/></g>
<g transform="translate(555.1 227.6) rotate(180)"><rect x="-4.6" y="-3" width="9.2" height="6" rx="1.2" fill="#fff" stroke="#2a2a2a" stroke-width="0.5"/><line x1="-4.6" y1="-1.6" x2="4.6" y2="-1.6" stroke="#2a2a2a" stroke-width="0.4"/></g>
<g transform="translate(569.4 227.6) rotate(180)"><rect x="-4.6" y="-3" width="9.2" height="6" rx="1.2" fill="#fff" stroke="#2a2a2a" stroke-width="0.5"/><line x1="-4.6" y1="-1.6" x2="4.6" y2="-1.6" stroke="#2a2a2a" stroke-width="0.4"/></g>
<g transform="translate(540.2 197) rotate(-27)"><rect x="-4.6" y="-3" width="9.2" height="6" rx="1.2" fill="#fff" stroke="#2a2a2a" stroke-width="0.5"/><line x1="-4.6" y1="-1.6" x2="4.6" y2="-1.6" stroke="#2a2a2a" stroke-width="0.4"/></g>
<g transform="translate(584.3 197) rotate(27)"><rect x="-4.6" y="-3" width="9.2" height="6" rx="1.2" fill="#fff" stroke="#2a2a2a" stroke-width="0.5"/><line x1="-4.6" y1="-1.6" x2="4.6" y2="-1.6" stroke="#2a2a2a" stroke-width="0.4"/></g>
<g transform="translate(540.2 224.2) rotate(207)"><rect x="-4.6" y="-3" width="9.2" height="6" rx="1.2" fill="#fff" stroke="#2a2a2a" stroke-width="0.5"/><line x1="-4.6" y1="-1.6" x2="4.6" y2="-1.6" stroke="#2a2a2a" stroke-width="0.4"/></g>
<g transform="translate(584.3 224.2) rotate(153)"><rect x="-4.6" y="-3" width="9.2" height="6" rx="1.2" fill="#fff" stroke="#2a2a2a" stroke-width="0.5"/><line x1="-4.6" y1="-1.6" x2="4.6" y2="-1.6" stroke="#2a2a2a" stroke-width="0.4"/></g>
<g transform="translate(529 210.6) rotate(-90)"><rect x="-4.6" y="-3" width="9.2" height="6" rx="1.2" fill="#fff" stroke="#2a2a2a" stroke-width="0.5"/><line x1="-4.6" y1="-1.6" x2="4.6" y2="-1.6" stroke="#2a2a2a" stroke-width="0.4"/></g>
<g transform="translate(595.2 210.6) rotate(90)"><rect x="-4.6" y="-3" width="9.2" height="6" rx="1.2" fill="#fff" stroke="#2a2a2a" stroke-width="0.5"/><line x1="-4.6" y1="-1.6" x2="4.6" y2="-1.6" stroke="#2a2a2a" stroke-width="0.4"/></g>
<ellipse cx="562" cy="210.6" rx="31" ry="14.3" fill="#fff" stroke="#2a2a2a" stroke-width="0.55"/>
<line x1="573.7" y1="79.1" x2="573.7" y2="258.9" stroke="#2a2a2a" stroke-width="0.45"/>
<line x1="572.55" y1="80.25" x2="574.85" y2="77.95" stroke="#111" stroke-width="1"/>
<line x1="572.55" y1="260.05" x2="574.85" y2="257.75" stroke="#111" stroke-width="1"/>
<text x="571.1" y="175.04" font-size="3.72" text-anchor="middle" fill="#1e1e1e" stroke="#1e1e1e" stroke-width="0.2" letter-spacing="0.45" transform="rotate(-90 571.1 173.7)">28'-10"</text>
<text x="562" y="209.74" font-size="4" text-anchor="middle" fill="#1e1e1e" stroke="#1e1e1e" stroke-width="0.22">DINING</text>
<text x="562" y="214.74" font-size="4" text-anchor="middle" fill="#1e1e1e" stroke="#1e1e1e" stroke-width="0.22">ROOM</text>
<circle cx="608.8" cy="170.7" r="2.5" fill="#111" stroke="#111" stroke-width="0.4"/>
<path d="M608.8 170.7L608.8 169.32A1.38 1.38 0 0 1 610.17 170.7Z" fill="#fff" stroke="#fff" stroke-width="0.1"/>
<path d="M608.8 170.7L608.8 172.07A1.38 1.38 0 0 1 607.42 170.7Z" fill="#fff" stroke="#fff" stroke-width="0.1"/>
<text x="612.3" y="168.85" font-size="3.2" text-anchor="start" fill="#666" stroke="#666" stroke-width="0.06" letter-spacing="0.35">0'-0"</text>
<rect x="616.7" y="179.9" width="9.4" height="4.6" fill="#fff" stroke="#2a2a2a" stroke-width="0.5" rx="2.3"/>
<text x="621.4" y="183.28" font-size="3" text-anchor="middle" fill="#1e1e1e" stroke="#1e1e1e" stroke-width="0.17" letter-spacing="0.15">SD01</text>
<line x1="603" y1="250.6" x2="603" y2="259.2" stroke="#2a2a2a" stroke-width="0.45"/>
<path d="M596.7 244.3L603 238L609.3 244.3L603 250.6Z" fill="#fff" stroke="#2a2a2a" stroke-width="0.5"/>
<text x="603" y="245.38" font-size="3" text-anchor="middle" fill="#1e1e1e" stroke="#1e1e1e" stroke-width="0.17" letter-spacing="0.15">W6</text>
<line x1="440.2" y1="251.9" x2="440.2" y2="258.7" stroke="#2a2a2a" stroke-width="0.45"/>
<path d="M433.9 245.6L440.2 239.3L446.5 245.6L440.2 251.9Z" fill="#fff" stroke="#2a2a2a" stroke-width="0.5"/>
<text x="440.2" y="246.68" font-size="3" text-anchor="middle" fill="#1e1e1e" stroke="#1e1e1e" stroke-width="0.17" letter-spacing="0.15">W4</text>
<rect x="629.3" y="74.7" width="4.2" height="19.8" fill="url(#hx)" stroke="#2a2a2a" stroke-width="0.75"/>
<circle cx="631.2" cy="94.7" r="1.7" fill="#fff" stroke="#2a2a2a" stroke-width="0.5"/>
<line x1="630" y1="96.4" x2="630" y2="259.2" stroke="#2a2a2a" stroke-width="0.55"/>
<line x1="632.8" y1="96.4" x2="632.8" y2="259.2" stroke="#2a2a2a" stroke-width="0.55"/>
<line x1="631.4" y1="96.4" x2="631.4" y2="198" stroke="#2a2a2a" stroke-width="0.5"/>
<line x1="631" y1="198" x2="631" y2="259" stroke="#333" stroke-width="0.9"/>
<line x1="683.7" y1="74.7" x2="787.2" y2="74.7" stroke="#2a2a2a" stroke-width="0.45"/>
<line x1="683.7" y1="74.7" x2="683.7" y2="259.2" stroke="#2a2a2a" stroke-width="0.45"/>
<line x1="696.3" y1="54.6" x2="696.3" y2="259.2" stroke="#2a2a2a" stroke-width="0.45"/>
<line x1="632.6" y1="102.5" x2="683.7" y2="102.5" stroke="#2a2a2a" stroke-width="0.45"/>
<line x1="631.45" y1="103.65" x2="633.75" y2="101.35" stroke="#111" stroke-width="1"/>
<line x1="682.55" y1="103.65" x2="684.85" y2="101.35" stroke="#111" stroke-width="1"/>
<text x="658.6" y="101.63" font-size="3.96" text-anchor="middle" fill="#1e1e1e" stroke="#1e1e1e" stroke-width="0.22" letter-spacing="0.45">8'-0"</text>
<line x1="643.4" y1="96" x2="643.4" y2="259.2" stroke="#2a2a2a" stroke-width="0.45"/>
<line x1="642.25" y1="97.15" x2="644.55" y2="94.85" stroke="#111" stroke-width="1"/>
<line x1="642.25" y1="260.35" x2="644.55" y2="258.05" stroke="#111" stroke-width="1"/>
<text x="640.6" y="181.63" font-size="3.96" text-anchor="middle" fill="#1e1e1e" stroke="#1e1e1e" stroke-width="0.22" letter-spacing="0.45" transform="rotate(-90 640.6 180.2)">26'-0"</text>
<line x1="633.5" y1="96" x2="644.5" y2="96" stroke="#2a2a2a" stroke-width="0.4"/>
<text x="659" y="65.34" font-size="2.9" text-anchor="middle" fill="#1e1e1e" stroke="#1e1e1e" stroke-width="0.16">HOSE</text>
<text x="659" y="69.04" font-size="2.9" text-anchor="middle" fill="#1e1e1e" stroke="#1e1e1e" stroke-width="0.16">BIB</text>
<path d="M665.5 65.5L672.8 67.2L678 72" fill="none" stroke="#2a2a2a" stroke-width="0.45"/>
<path d="M678.6 74.2L676.2 71.8L679.4 71.2Z" fill="#111" stroke="#2a2a2a" stroke-width="0.3"/>
<path d="M676.6 74.5L678.4 72.6L680.2 74.5Z" fill="#111" stroke="#2a2a2a" stroke-width="0.3"/>
<rect x="637.2" y="84.4" width="7.7" height="7.6" fill="none" stroke="#2a2a2a" stroke-width="0.55"/>
<circle cx="639.8" cy="86.8" r="0.9" fill="none" stroke="#2a2a2a" stroke-width="0.4"/>
<rect x="649.9" y="83.4" width="16.2" height="10" fill="none" stroke="#222" stroke-width="1"/>
<rect x="651.2" y="85.2" width="13.6" height="6.7" fill="none" stroke="#2a2a2a" stroke-width="0.5"/>
<line x1="651.2" y1="90.3" x2="664.8" y2="90.3" stroke="#222" stroke-width="0.8"/>
<rect x="669.5" y="83.6" width="11.7" height="9.7" fill="none" stroke="#2a2a2a" stroke-width="0.55"/>
<line x1="669.5" y1="92.2" x2="681.2" y2="92.2" stroke="#222" stroke-width="0.7"/>
<text x="641.3" y="82.11" font-size="1.7" text-anchor="middle" fill="#1e1e1e" stroke="#1e1e1e" stroke-width="0.09">BAR SINK</text>
<text x="657.8" y="81.61" font-size="1.7" text-anchor="middle" fill="#1e1e1e" stroke="#1e1e1e" stroke-width="0.09">GRILL</text>
<text x="674.5" y="81.91" font-size="1.7" text-anchor="middle" fill="#1e1e1e" stroke="#1e1e1e" stroke-width="0.09">REF.</text>
<text x="660.8" y="159.28" font-size="4.1" text-anchor="middle" fill="#1e1e1e" stroke="#1e1e1e" stroke-width="0.23">COVERED</text>
<text x="660.8" y="164.38" font-size="4.1" text-anchor="middle" fill="#1e1e1e" stroke="#1e1e1e" stroke-width="0.23">TERRACE</text>
<rect x="652.3" y="168.8" width="17.8" height="5.3" fill="#fff" stroke="#2a2a2a" stroke-width="0.55"/>
<text x="661.2" y="172.52" font-size="3.1" text-anchor="middle" fill="#1e1e1e" stroke="#1e1e1e" stroke-width="0.17">230.6 ft²</text>
<circle cx="656.8" cy="181.3" r="2.5" fill="#111" stroke="#111" stroke-width="0.4"/>
<path d="M656.8 181.3L656.8 179.93A1.38 1.38 0 0 1 658.17 181.3Z" fill="#fff" stroke="#fff" stroke-width="0.1"/>
<path d="M656.8 181.3L656.8 182.68A1.38 1.38 0 0 1 655.42 181.3Z" fill="#fff" stroke="#fff" stroke-width="0.1"/>
<text x="660.3" y="179.45" font-size="3.2" text-anchor="start" fill="#666" stroke="#666" stroke-width="0.06" letter-spacing="0.35">0'-0"</text>
<line x1="774.8" y1="74.7" x2="774.8" y2="259.2" stroke="#2a2a2a" stroke-width="0.45"/>
<line x1="773.65" y1="75.85" x2="775.95" y2="73.55" stroke="#111" stroke-width="1"/>
<line x1="773.65" y1="260.35" x2="775.95" y2="258.05" stroke="#111" stroke-width="1"/>
<text x="772.2" y="167.63" font-size="3.96" text-anchor="middle" fill="#1e1e1e" stroke="#1e1e1e" stroke-width="0.22" letter-spacing="0.45" transform="rotate(-90 772.2 166.2)">29'-6"</text>
<line x1="787.1" y1="74.7" x2="787.1" y2="357.9" stroke="#2a2a2a" stroke-width="0.45"/>
<line x1="785.95" y1="75.85" x2="788.25" y2="73.55" stroke="#111" stroke-width="1"/>
<line x1="785.95" y1="359.05" x2="788.25" y2="356.75" stroke="#111" stroke-width="1"/>
<text x="784.3" y="217.93" font-size="3.96" text-anchor="middle" fill="#1e1e1e" stroke="#1e1e1e" stroke-width="0.22" letter-spacing="0.45" transform="rotate(-90 784.3 216.5)">45'-4"</text>
<line x1="774.8" y1="259.2" x2="774.8" y2="375.4" stroke="#2a2a2a" stroke-width="0.45"/>
<line x1="773.65" y1="260.35" x2="775.95" y2="258.05" stroke="#111" stroke-width="1"/>
<line x1="773.65" y1="316.35" x2="775.95" y2="314.05" stroke="#111" stroke-width="1"/>
<line x1="773.65" y1="323.85" x2="775.95" y2="321.55" stroke="#111" stroke-width="1"/>
<line x1="773.65" y1="338.95" x2="775.95" y2="336.65" stroke="#111" stroke-width="1"/>
<line x1="773.65" y1="359.05" x2="775.95" y2="356.75" stroke="#111" stroke-width="1"/>
<text x="771.9" y="291.43" font-size="3.96" text-anchor="middle" fill="#1e1e1e" stroke="#1e1e1e" stroke-width="0.22" letter-spacing="0.45" transform="rotate(-90 771.9 290)">8'-0"</text>
<text x="771.9" y="331.63" font-size="3.96" text-anchor="middle" fill="#1e1e1e" stroke="#1e1e1e" stroke-width="0.22" letter-spacing="0.45" transform="rotate(-90 771.9 330.2)">2'-8"</text>
<text x="771.9" y="368.43" font-size="3.96" text-anchor="middle" fill="#1e1e1e" stroke="#1e1e1e" stroke-width="0.22" letter-spacing="0.45" transform="rotate(-90 771.9 367)">5'-1"</text>
<line x1="696.4" y1="258.4" x2="787.2" y2="258.4" stroke="#2a2a2a" stroke-width="0.4"/>
<line x1="696.4" y1="264.2" x2="776" y2="264.2" stroke="#2a2a2a" stroke-width="0.4"/>
<text x="779.5" y="256.61" font-size="2.8" text-anchor="middle" fill="#1e1e1e" stroke="#1e1e1e" stroke-width="0.15" transform="rotate(-90 779.5 255.6)">10"</text>
<rect x="249" y="204.3" width="3.2" height="3.2" fill="#fff" stroke="#2a2a2a" stroke-width="0.6"/>
<rect x="249" y="258.7" width="3.2" height="3.2" fill="#fff" stroke="#2a2a2a" stroke-width="0.6"/>
<rect x="249" y="345.4" width="3.2" height="3.2" fill="#fff" stroke="#2a2a2a" stroke-width="0.6"/>
<line x1="233.4" y1="205.9" x2="273.6" y2="205.9" stroke="#2a2a2a" stroke-width="0.4"/>
<line x1="233.4" y1="260.3" x2="273.6" y2="260.3" stroke="#2a2a2a" stroke-width="0.4"/>
<line x1="247.6" y1="205.9" x2="247.6" y2="347" stroke="#2a2a2a" stroke-width="0.4"/>
<line x1="250.6" y1="348.6" x2="250.6" y2="375.4" stroke="#2a2a2a" stroke-width="0.4"/>
<line x1="234.2" y1="205.9" x2="234.2" y2="260.3" stroke="#2a2a2a" stroke-width="0.45"/>
<line x1="233.05" y1="207.05" x2="235.35" y2="204.75" stroke="#111" stroke-width="1"/>
<line x1="233.05" y1="261.45" x2="235.35" y2="259.15" stroke="#111" stroke-width="1"/>
<text x="231.4" y="234.93" font-size="3.96" text-anchor="middle" fill="#1e1e1e" stroke="#1e1e1e" stroke-width="0.22" letter-spacing="0.45" transform="rotate(-90 231.4 233.5)">8'-9"</text>
<line x1="234.2" y1="260.3" x2="234.2" y2="347" stroke="#2a2a2a" stroke-width="0.45"/>
<line x1="233.05" y1="261.45" x2="235.35" y2="259.15" stroke="#111" stroke-width="1"/>
<line x1="233.05" y1="348.15" x2="235.35" y2="345.85" stroke="#111" stroke-width="1"/>
<text x="231.4" y="304.83" font-size="3.96" text-anchor="middle" fill="#1e1e1e" stroke="#1e1e1e" stroke-width="0.22" letter-spacing="0.45" transform="rotate(-90 231.4 303.4)">13'-10"</text>
<line x1="233" y1="347" x2="249" y2="347" stroke="#2a2a2a" stroke-width="0.4"/>
<line x1="266" y1="207.6" x2="266" y2="260.3" stroke="#2a2a2a" stroke-width="0.45"/>
<line x1="264.85" y1="208.75" x2="267.15" y2="206.45" stroke="#111" stroke-width="1"/>
<line x1="264.85" y1="217.95" x2="267.15" y2="215.65" stroke="#111" stroke-width="1"/>
<line x1="264.85" y1="249.75" x2="267.15" y2="247.45" stroke="#111" stroke-width="1"/>
<line x1="264.85" y1="259.75" x2="267.15" y2="257.45" stroke="#111" stroke-width="1"/>
<text x="263.2" y="224.8" font-size="3.6" text-anchor="middle" fill="#1e1e1e" stroke="#1e1e1e" stroke-width="0.2" letter-spacing="0.45" transform="rotate(-90 263.2 223.5)">6'-3"</text>
<text x="258.8" y="238.64" font-size="4" text-anchor="middle" fill="#1e1e1e" stroke="#1e1e1e" stroke-width="0.22">COVERED</text>
<text x="258.8" y="244.14" font-size="4" text-anchor="middle" fill="#1e1e1e" stroke="#1e1e1e" stroke-width="0.22">ENTRY</text>
<rect x="249.4" y="246.5" width="14.8" height="4.8" fill="#fff" stroke="#2a2a2a" stroke-width="0.55"/>
<text x="256.8" y="250.02" font-size="3.1" text-anchor="middle" fill="#1e1e1e" stroke="#1e1e1e" stroke-width="0.17">97.6 ft²</text>
<rect x="274.4" y="215.6" width="2.2" height="2.6" fill="#222" stroke="#2a2a2a" stroke-width="0.5"/>
<rect x="274.4" y="247.4" width="2.2" height="2.6" fill="#222" stroke="#2a2a2a" stroke-width="0.5"/>
<line x1="274.6" y1="218" x2="274.6" y2="247.6" stroke="#2a2a2a" stroke-width="0.45" stroke-dasharray="2 1.4"/>
<line x1="276.6" y1="218" x2="276.6" y2="247.6" stroke="#2a2a2a" stroke-width="0.45" stroke-dasharray="2 1.4"/>
<path d="M275.6 218.2L293.7 236.9L268.9 221.2Z" fill="none" stroke="#2a2a2a" stroke-width="0.5"/>
<path d="M293.7 236.9A26.5 26.5 0 0 1 276.2 246.6" fill="none" stroke="#2a2a2a" stroke-width="0.45" stroke-dasharray="2 1.4"/>
<rect x="276.4" y="234.6" width="9.4" height="4.6" fill="#fff" stroke="#2a2a2a" stroke-width="0.5" rx="2.3"/>
<text x="281.1" y="237.98" font-size="3" text-anchor="middle" fill="#1e1e1e" stroke="#1e1e1e" stroke-width="0.17" letter-spacing="0.15">D1</text>
<line x1="297.2" y1="207.6" x2="297.2" y2="345.3" stroke="#2a2a2a" stroke-width="0.45"/>
<line x1="296.05" y1="208.75" x2="298.35" y2="206.45" stroke="#111" stroke-width="1"/>
<line x1="296.05" y1="259.85" x2="298.35" y2="257.55" stroke="#111" stroke-width="1"/>
<line x1="296.05" y1="346.45" x2="298.35" y2="344.15" stroke="#111" stroke-width="1"/>
<text x="294.6" y="234" font-size="3.6" text-anchor="middle" fill="#1e1e1e" stroke="#1e1e1e" stroke-width="0.2" letter-spacing="0.45" transform="rotate(-90 294.6 232.7)">5'-3"</text>
<text x="294.6" y="305.6" font-size="3.6" text-anchor="middle" fill="#1e1e1e" stroke="#1e1e1e" stroke-width="0.2" letter-spacing="0.45" transform="rotate(-90 294.6 304.3)">13'-4"</text>
<rect x="273.6" y="258.6" width="4.2" height="25.6" fill="url(#hx)" stroke="#2a2a2a" stroke-width="0.75"/>
<rect x="273.1" y="284.6" width="5.2" height="36" fill="#fff" stroke="#fff" stroke-width="0.01"/>
<line x1="273.9" y1="284.2" x2="273.9" y2="321" stroke="#2a2a2a" stroke-width="0.4"/>
<line x1="277.5" y1="284.2" x2="277.5" y2="321" stroke="#555" stroke-width="0.45"/>
<line x1="275.7" y1="284.2" x2="275.7" y2="321" stroke="#222" stroke-width="0.95"/>
<circle cx="275.7" cy="302.6" r="0.8" fill="#fff" stroke="#2a2a2a" stroke-width="0.4"/>
<rect x="273.6" y="321" width="4.2" height="28.5" fill="url(#hx)" stroke="#2a2a2a" stroke-width="0.75"/>
<line x1="266" y1="260.3" x2="266" y2="349.5" stroke="#2a2a2a" stroke-width="0.45"/>
<line x1="264.85" y1="261.45" x2="267.15" y2="259.15" stroke="#111" stroke-width="1"/>
<line x1="264.85" y1="285.35" x2="267.15" y2="283.05" stroke="#111" stroke-width="1"/>
<line x1="264.85" y1="322.15" x2="267.15" y2="319.85" stroke="#111" stroke-width="1"/>
<line x1="264.85" y1="350.65" x2="267.15" y2="348.35" stroke="#111" stroke-width="1"/>
<text x="263.2" y="272.5" font-size="3.6" text-anchor="middle" fill="#1e1e1e" stroke="#1e1e1e" stroke-width="0.2" letter-spacing="0.45" transform="rotate(-90 263.2 271.2)">4'-3"</text>
<text x="263.2" y="303.9" font-size="3.6" text-anchor="middle" fill="#1e1e1e" stroke="#1e1e1e" stroke-width="0.2" letter-spacing="0.45" transform="rotate(-90 263.2 302.6)">6'-0"</text>
<text x="263.2" y="336.5" font-size="3.6" text-anchor="middle" fill="#1e1e1e" stroke="#1e1e1e" stroke-width="0.2" letter-spacing="0.45" transform="rotate(-90 263.2 335.2)">4'-6"</text>
<line x1="265" y1="284.2" x2="273.6" y2="284.2" stroke="#2a2a2a" stroke-width="0.4"/>
<line x1="265" y1="321" x2="273.6" y2="321" stroke="#2a2a2a" stroke-width="0.4"/>
<line x1="246.8" y1="315.5" x2="273.6" y2="315.5" stroke="#2a2a2a" stroke-width="0.45"/>
<line x1="245.65" y1="316.65" x2="247.95" y2="314.35" stroke="#111" stroke-width="1"/>
<line x1="272.45" y1="316.65" x2="274.75" y2="314.35" stroke="#111" stroke-width="1"/>
<text x="257.7" y="314.1" font-size="3.6" text-anchor="middle" fill="#1e1e1e" stroke="#1e1e1e" stroke-width="0.2" letter-spacing="0.45">4'-2"</text>
<path d="M288.31 304.8L284.5 307L280.69 304.8L280.69 300.4L284.5 298.2L288.31 300.4Z" fill="#fff" stroke="#2a2a2a" stroke-width="0.5"/>
<text x="284.5" y="303.61" font-size="2.8" text-anchor="middle" fill="#1e1e1e" stroke="#1e1e1e" stroke-width="0.15">W01</text>
<line x1="286.2" y1="272.9" x2="277.8" y2="272.9" stroke="#2a2a2a" stroke-width="0.45"/>
<path d="M286.2 272.9L292.5 266.6L298.8 272.9L292.5 279.2Z" fill="#fff" stroke="#2a2a2a" stroke-width="0.5"/>
<text x="292.5" y="273.98" font-size="3" text-anchor="middle" fill="#1e1e1e" stroke="#1e1e1e" stroke-width="0.17" letter-spacing="0.15">W1</text>
<circle cx="251.5" cy="285.9" r="2.5" fill="#111" stroke="#111" stroke-width="0.4"/>
<path d="M251.5 285.9L251.5 284.52A1.38 1.38 0 0 1 252.88 285.9Z" fill="#fff" stroke="#fff" stroke-width="0.1"/>
<path d="M251.5 285.9L251.5 287.27A1.38 1.38 0 0 1 250.12 285.9Z" fill="#fff" stroke="#fff" stroke-width="0.1"/>
<text x="256" y="280.39" font-size="2.2" text-anchor="middle" fill="#1e1e1e" stroke="#1e1e1e" stroke-width="0.12">0'-0"</text>
<line x1="250.6" y1="375.4" x2="755.3" y2="375.4" stroke="#2a2a2a" stroke-width="0.45"/>
<line x1="249.45" y1="376.55" x2="251.75" y2="374.25" stroke="#111" stroke-width="1"/>
<line x1="272.45" y1="376.55" x2="274.75" y2="374.25" stroke="#111" stroke-width="1"/>
<line x1="378.05" y1="376.55" x2="380.35" y2="374.25" stroke="#111" stroke-width="1"/>
<line x1="460.55" y1="376.55" x2="462.85" y2="374.25" stroke="#111" stroke-width="1"/>
<line x1="498.75" y1="376.55" x2="501.05" y2="374.25" stroke="#111" stroke-width="1"/>
<line x1="560.15" y1="376.55" x2="562.45" y2="374.25" stroke="#111" stroke-width="1"/>
<line x1="579.35" y1="376.55" x2="581.65" y2="374.25" stroke="#111" stroke-width="1"/>
<line x1="667.35" y1="376.55" x2="669.65" y2="374.25" stroke="#111" stroke-width="1"/>
<line x1="686.35" y1="376.55" x2="688.65" y2="374.25" stroke="#111" stroke-width="1"/>
<line x1="717.35" y1="376.55" x2="719.65" y2="374.25" stroke="#111" stroke-width="1"/>
<line x1="733.25" y1="376.55" x2="735.55" y2="374.25" stroke="#111" stroke-width="1"/>
<line x1="754.15" y1="376.55" x2="756.45" y2="374.25" stroke="#111" stroke-width="1"/>
<text x="261.9" y="374.03" font-size="3.96" text-anchor="middle" fill="#1e1e1e" stroke="#1e1e1e" stroke-width="0.22" letter-spacing="0.45">3'-8"</text>
<text x="326.3" y="374.03" font-size="3.96" text-anchor="middle" fill="#1e1e1e" stroke="#1e1e1e" stroke-width="0.22" letter-spacing="0.45">14'-10"</text>
<text x="420.5" y="374.03" font-size="3.96" text-anchor="middle" fill="#1e1e1e" stroke="#1e1e1e" stroke-width="0.22" letter-spacing="0.45">13'-3"</text>
<text x="479.8" y="374.03" font-size="3.96" text-anchor="middle" fill="#1e1e1e" stroke="#1e1e1e" stroke-width="0.22" letter-spacing="0.45">8'-0"</text>
<text x="530.6" y="374.03" font-size="3.96" text-anchor="middle" fill="#1e1e1e" stroke="#1e1e1e" stroke-width="0.22" letter-spacing="0.45">10'-0"</text>
<text x="571" y="374.03" font-size="3.96" text-anchor="middle" fill="#1e1e1e" stroke="#1e1e1e" stroke-width="0.22" letter-spacing="0.45">3'-0"</text>
<text x="624.7" y="374.03" font-size="3.96" text-anchor="middle" fill="#1e1e1e" stroke="#1e1e1e" stroke-width="0.22" letter-spacing="0.45">14'-0"</text>
<text x="678" y="374.03" font-size="3.96" text-anchor="middle" fill="#1e1e1e" stroke="#1e1e1e" stroke-width="0.22" letter-spacing="0.45">3'-0"</text>
<text x="702.6" y="374.03" font-size="3.96" text-anchor="middle" fill="#1e1e1e" stroke="#1e1e1e" stroke-width="0.22" letter-spacing="0.45">5'-0"</text>
<text x="726.5" y="374.03" font-size="3.96" text-anchor="middle" fill="#1e1e1e" stroke="#1e1e1e" stroke-width="0.22" letter-spacing="0.45">2'-6"</text>
<text x="745.3" y="374.03" font-size="3.96" text-anchor="middle" fill="#1e1e1e" stroke="#1e1e1e" stroke-width="0.22" letter-spacing="0.45">3'-5"</text>
<line x1="273.6" y1="358.2" x2="273.6" y2="376.6" stroke="#2a2a2a" stroke-width="0.4"/>
<line x1="379.2" y1="358.2" x2="379.2" y2="376.6" stroke="#2a2a2a" stroke-width="0.4"/>
<line x1="461.7" y1="358.2" x2="461.7" y2="376.6" stroke="#2a2a2a" stroke-width="0.4"/>
<line x1="499.9" y1="358.2" x2="499.9" y2="376.6" stroke="#2a2a2a" stroke-width="0.4"/>
<line x1="561.3" y1="358.2" x2="561.3" y2="376.6" stroke="#2a2a2a" stroke-width="0.4"/>
<line x1="580.5" y1="358.2" x2="580.5" y2="376.6" stroke="#2a2a2a" stroke-width="0.4"/>
<line x1="668.5" y1="358.2" x2="668.5" y2="376.6" stroke="#2a2a2a" stroke-width="0.4"/>
<line x1="687.5" y1="358.2" x2="687.5" y2="376.6" stroke="#2a2a2a" stroke-width="0.4"/>
<line x1="718.5" y1="358.2" x2="718.5" y2="376.6" stroke="#2a2a2a" stroke-width="0.4"/>
<line x1="734.4" y1="358.2" x2="734.4" y2="376.6" stroke="#2a2a2a" stroke-width="0.4"/>
<line x1="755.3" y1="358.2" x2="755.3" y2="376.6" stroke="#2a2a2a" stroke-width="0.4"/>
<line x1="273.6" y1="349.5" x2="273.6" y2="383.3" stroke="#2a2a2a" stroke-width="0.4"/>
<line x1="273.6" y1="382.3" x2="755.3" y2="382.3" stroke="#2a2a2a" stroke-width="0.45"/>
<line x1="272.45" y1="383.45" x2="274.75" y2="381.15" stroke="#111" stroke-width="1"/>
<line x1="754.15" y1="383.45" x2="756.45" y2="381.15" stroke="#111" stroke-width="1"/>
<text x="513.7" y="381.13" font-size="3.96" text-anchor="middle" fill="#1e1e1e" stroke="#1e1e1e" stroke-width="0.22" letter-spacing="0.45">77'-0"</text>
<line x1="755.3" y1="358" x2="755.3" y2="383.3" stroke="#2a2a2a" stroke-width="0.4"/>
<rect x="277.8" y="258.7" width="44.3" height="4" fill="url(#hb)" stroke="#2a2a2a" stroke-width="0.75"/>
<rect x="341.4" y="258.7" width="14.5" height="4" fill="url(#hb)" stroke="#2a2a2a" stroke-width="0.75"/>
<rect x="373.5" y="258.7" width="149.3" height="4.2" fill="url(#hb)" stroke="#2a2a2a" stroke-width="0.75"/>
<rect x="550.5" y="258.9" width="78.9" height="4.3" fill="url(#hb)" stroke="#2a2a2a" stroke-width="0.75"/>
<line x1="321.8" y1="251.6" x2="341.4" y2="251.6" stroke="#2a2a2a" stroke-width="0.45"/>
<line x1="320.65" y1="252.75" x2="322.95" y2="250.45" stroke="#111" stroke-width="1"/>
<line x1="340.25" y1="252.75" x2="342.55" y2="250.45" stroke="#111" stroke-width="1"/>
<text x="330.6" y="250.23" font-size="3.96" text-anchor="middle" fill="#1e1e1e" stroke="#1e1e1e" stroke-width="0.22" letter-spacing="0.45">3'-0"</text>
<line x1="355.2" y1="251.6" x2="373.3" y2="251.6" stroke="#2a2a2a" stroke-width="0.45"/>
<line x1="354.05" y1="252.75" x2="356.35" y2="250.45" stroke="#111" stroke-width="1"/>
<line x1="372.15" y1="252.75" x2="374.45" y2="250.45" stroke="#111" stroke-width="1"/>
<text x="382.4" y="250.23" font-size="3.96" text-anchor="middle" fill="#1e1e1e" stroke="#1e1e1e" stroke-width="0.22" letter-spacing="0.45">3'-0"</text>
<rect x="326.3" y="258.7" width="9.4" height="4.6" fill="#fff" stroke="#2a2a2a" stroke-width="0.5" rx="2.3"/>
<text x="331" y="262.08" font-size="3" text-anchor="middle" fill="#1e1e1e" stroke="#1e1e1e" stroke-width="0.17" letter-spacing="0.15">D4</text>
<rect x="359.6" y="258.7" width="9.4" height="4.6" fill="#fff" stroke="#2a2a2a" stroke-width="0.5" rx="2.3"/>
<text x="364.3" y="262.08" font-size="3" text-anchor="middle" fill="#1e1e1e" stroke="#1e1e1e" stroke-width="0.17" letter-spacing="0.15">D4</text>
<line x1="341" y1="262.7" x2="341" y2="278" stroke="#2a2a2a" stroke-width="0.7"/>
<path d="M322.4 262.7A18.6 18.6 0 0 0 338.5 278" fill="none" stroke="#2a2a2a" stroke-width="0.45"/>
<line x1="355.8" y1="243" x2="355.8" y2="258.7" stroke="#2a2a2a" stroke-width="0.7"/>
<path d="M355.8 243A16 16 0 0 1 372.9 258.7" fill="none" stroke="#2a2a2a" stroke-width="0.45"/>
<rect x="273.6" y="345.3" width="109.6" height="4.2" fill="url(#hx)" stroke="#2a2a2a" stroke-width="0.75"/>
<rect x="379.2" y="345.5" width="4" height="12.7" fill="url(#hx)" stroke="#2a2a2a" stroke-width="0.75"/>
<rect x="379.2" y="353.8" width="82.5" height="4.4" fill="url(#hx)" stroke="#2a2a2a" stroke-width="0.75"/>
<rect x="499.9" y="353.8" width="61.4" height="4.4" fill="url(#hx)" stroke="#2a2a2a" stroke-width="0.75"/>
<rect x="580.5" y="353.8" width="88" height="4.4" fill="url(#hx)" stroke="#2a2a2a" stroke-width="0.75"/>
<rect x="687.5" y="353.8" width="31.8" height="4.4" fill="url(#hx)" stroke="#2a2a2a" stroke-width="0.75"/>
<rect x="734.4" y="353.8" width="20.9" height="4.4" fill="url(#hx)" stroke="#2a2a2a" stroke-width="0.75"/>
<rect x="462.1" y="353.3" width="37.4" height="5.4" fill="#fff" stroke="#fff" stroke-width="0.01"/>
<line x1="461.7" y1="354" x2="499.9" y2="354" stroke="#2a2a2a" stroke-width="0.4"/>
<line x1="461.7" y1="357.8" x2="499.9" y2="357.8" stroke="#555" stroke-width="0.45"/>
<line x1="461.7" y1="356.1" x2="499.9" y2="356.1" stroke="#222" stroke-width="0.95"/>
<rect x="561.7" y="353.3" width="18.4" height="5.4" fill="#fff" stroke="#fff" stroke-width="0.01"/>
<line x1="561.3" y1="354" x2="580.5" y2="354" stroke="#2a2a2a" stroke-width="0.4"/>
<line x1="561.3" y1="357.8" x2="580.5" y2="357.8" stroke="#555" stroke-width="0.45"/>
<line x1="561.3" y1="356.1" x2="580.5" y2="356.1" stroke="#222" stroke-width="0.95"/>
<rect x="668.9" y="353.3" width="18.2" height="5.4" fill="#fff" stroke="#fff" stroke-width="0.01"/>
<line x1="668.5" y1="354" x2="687.5" y2="354" stroke="#2a2a2a" stroke-width="0.4"/>
<line x1="668.5" y1="357.8" x2="687.5" y2="357.8" stroke="#555" stroke-width="0.45"/>
<line x1="668.5" y1="356.1" x2="687.5" y2="356.1" stroke="#222" stroke-width="0.95"/>
<rect x="719.7" y="353.3" width="14.3" height="5.4" fill="#fff" stroke="#fff" stroke-width="0.01"/>
<line x1="719.3" y1="354" x2="734.4" y2="354" stroke="#2a2a2a" stroke-width="0.4"/>
<line x1="719.3" y1="357.8" x2="734.4" y2="357.8" stroke="#555" stroke-width="0.45"/>
<line x1="719.3" y1="356.1" x2="734.4" y2="356.1" stroke="#222" stroke-width="0.95"/>
<text x="316.8" y="296.58" font-size="4.4" text-anchor="middle" fill="#1e1e1e" stroke="#1e1e1e" stroke-width="0.24">BEDROOM 2</text>
<text x="316.8" y="301.98" font-size="4.4" text-anchor="middle" fill="#1e1e1e" stroke="#1e1e1e" stroke-width="0.24">/ OFFICE</text>
<rect x="307.15" y="304.5" width="16.5" height="5.2" fill="#fff" stroke="#2a2a2a" stroke-width="0.55"/>
<text x="315.4" y="308.22" font-size="3.1" text-anchor="middle" fill="#1e1e1e" stroke="#1e1e1e" stroke-width="0.17">146.6 ft²</text>
<line x1="339.8" y1="312.6" x2="346.4" y2="312.6" stroke="#2a2a2a" stroke-width="0.45"/>
<path d="M327.2 312.6L333.5 306.3L339.8 312.6L333.5 318.9Z" fill="#fff" stroke="#2a2a2a" stroke-width="0.5"/>
<text x="333.5" y="313.68" font-size="3" text-anchor="middle" fill="#1e1e1e" stroke="#1e1e1e" stroke-width="0.17" letter-spacing="0.15">W5</text>
<line x1="323" y1="333.2" x2="323" y2="345.3" stroke="#2a2a2a" stroke-width="0.45"/>
<path d="M316.7 326.9L323 320.6L329.3 326.9L323 333.2Z" fill="#fff" stroke="#2a2a2a" stroke-width="0.5"/>
<text x="323" y="327.98" font-size="3" text-anchor="middle" fill="#1e1e1e" stroke="#1e1e1e" stroke-width="0.17" letter-spacing="0.15">W1</text>
<line x1="277.8" y1="340.6" x2="347.2" y2="340.6" stroke="#2a2a2a" stroke-width="0.45"/>
<line x1="276.65" y1="341.75" x2="278.95" y2="339.45" stroke="#111" stroke-width="1"/>
<line x1="346.05" y1="341.75" x2="348.35" y2="339.45" stroke="#111" stroke-width="1"/>
<text x="312.1" y="339.53" font-size="3.96" text-anchor="middle" fill="#1e1e1e" stroke="#1e1e1e" stroke-width="0.22" letter-spacing="0.45">11'-0"</text>
<rect x="346.4" y="262.7" width="2.2" height="82.6" fill="#fff" stroke="#2a2a2a" stroke-width="0.5"/>
<rect x="380.4" y="262.7" width="2.8" height="82.6" fill="#fff" stroke="#2a2a2a" stroke-width="0.5"/>
<rect x="348.6" y="262.7" width="31.8" height="16.5" fill="none" stroke="#2a2a2a" stroke-width="0.5"/>
<rect x="348.6" y="279.2" width="31.8" height="2" fill="#fff" stroke="#2a2a2a" stroke-width="0.5"/>
<rect x="350.2" y="265" width="12.2" height="13.2" fill="none" stroke="#2a2a2a" stroke-width="0.45"/>
<line x1="350.2" y1="265" x2="362.4" y2="278.2" stroke="#2a2a2a" stroke-width="0.4"/>
<line x1="362.4" y1="265" x2="350.2" y2="278.2" stroke="#2a2a2a" stroke-width="0.4"/>
<text x="356.5" y="273.18" font-size="1.9" text-anchor="middle" fill="#1e1e1e" stroke="#1e1e1e" stroke-width="0.1">A/C</text>
<rect x="363.6" y="266.8" width="14.8" height="5" fill="#fff" stroke="#2a2a2a" stroke-width="0.55"/>
<text x="371" y="270.42" font-size="3.1" text-anchor="middle" fill="#1e1e1e" stroke="#1e1e1e" stroke-width="0.17">15.6 ft²</text>
<text x="364.3" y="277.88" font-size="3" text-anchor="middle" fill="#1e1e1e" stroke="#1e1e1e" stroke-width="0.17">5'-0"</text>
<rect x="346" y="284.5" width="3" height="16" fill="#fff" stroke="#fff" stroke-width="0.3"/>
<path d="M348.6 283.5A16 16 0 0 1 363.4 288.7" fill="none" stroke="#2a2a2a" stroke-width="0.45"/>
<path d="M348.8 283.6L363.4 288.7" fill="none" stroke="#2a2a2a" stroke-width="0.6"/>
<rect x="342.8" y="292.1" width="9.4" height="4.6" fill="#fff" stroke="#2a2a2a" stroke-width="0.5" rx="2.3"/>
<text x="347.5" y="295.48" font-size="3" text-anchor="middle" fill="#1e1e1e" stroke="#1e1e1e" stroke-width="0.17" letter-spacing="0.15">D5</text>
<text x="365.1" y="301.78" font-size="4.1" text-anchor="middle" fill="#1e1e1e" stroke="#1e1e1e" stroke-width="0.23">BATHROOM</text>
<rect x="350.4" y="304" width="14.4" height="4.8" fill="#fff" stroke="#2a2a2a" stroke-width="0.55"/>
<text x="357.6" y="307.52" font-size="3.1" text-anchor="middle" fill="#1e1e1e" stroke="#1e1e1e" stroke-width="0.17">50.0 ft²</text>
<rect x="370.1" y="283.5" width="10.3" height="15.1" fill="none" stroke="#2a2a2a" stroke-width="0.5"/>
<rect x="373.6" y="288.2" width="5.4" height="5.4" fill="none" stroke="#222" stroke-width="0.8"/>
<ellipse cx="368.2" cy="312.8" rx="5" ry="3.6" fill="none" stroke="#2a2a2a" stroke-width="0.5"/>
<rect x="374.2" y="307.8" width="6.2" height="10" fill="none" stroke="#2a2a2a" stroke-width="0.5"/>
<rect x="348.6" y="326.2" width="31.8" height="19.1" fill="none" stroke="#2a2a2a" stroke-width="0.55"/>
<line x1="348.6" y1="326.2" x2="376" y2="336.2" stroke="#2a2a2a" stroke-width="0.4"/>
<line x1="348.6" y1="345.3" x2="376" y2="336.2" stroke="#2a2a2a" stroke-width="0.4"/>
<path d="M375.5 333.2L378.9 336L375.5 339Z" fill="none" stroke="#2a2a2a" stroke-width="0.4"/>
<circle cx="353.4" cy="333.7" r="2.5" fill="#111" stroke="#111" stroke-width="0.4"/>
<path d="M353.4 333.7L353.4 332.32A1.38 1.38 0 0 1 354.77 333.7Z" fill="#fff" stroke="#fff" stroke-width="0.1"/>
<path d="M353.4 333.7L353.4 335.07A1.38 1.38 0 0 1 352.02 333.7Z" fill="#fff" stroke="#fff" stroke-width="0.1"/>
<text x="358.8" y="329.72" font-size="2" text-anchor="middle" fill="#1e1e1e" stroke="#1e1e1e" stroke-width="0.11">0'-0"</text>
<text x="364.6" y="338.98" font-size="3" text-anchor="middle" fill="#1e1e1e" stroke="#1e1e1e" stroke-width="0.17">5'-0"</text>
<text x="370.2" y="364.24" font-size="2.9" text-anchor="middle" fill="#1e1e1e" stroke="#1e1e1e" stroke-width="0.16">HOSE</text>
<text x="370.2" y="368.54" font-size="2.9" text-anchor="middle" fill="#1e1e1e" stroke="#1e1e1e" stroke-width="0.16">BIB</text>
<path d="M375.6 365L386 358.4" fill="none" stroke="#2a2a2a" stroke-width="0.45"/>
<line x1="386.4" y1="358.2" x2="386.4" y2="363.5" stroke="#222" stroke-width="0.8"/>
<line x1="397.7" y1="372.3" x2="397.7" y2="383.9" stroke="#2a2a2a" stroke-width="0.45"/>
<path d="M390.2 391.4L397.7 383.9L405.2 391.4L397.7 398.9Z" fill="#fff" stroke="#2a2a2a" stroke-width="0.5"/>
<text x="397.7" y="392.48" font-size="3" text-anchor="middle" fill="#1e1e1e" stroke="#1e1e1e" stroke-width="0.17" letter-spacing="0.15"></text>
<circle cx="397.7" cy="391.4" r="5.2" fill="none" stroke="#2a2a2a" stroke-width="0.45"/>
<line x1="392.5" y1="391.4" x2="402.9" y2="391.4" stroke="#2a2a2a" stroke-width="0.4"/>
<text x="397.7" y="390.06" font-size="2.4" text-anchor="middle" fill="#1e1e1e" stroke="#1e1e1e" stroke-width="0.13">1</text>
<text x="397.7" y="394.43" font-size="2.3" text-anchor="middle" fill="#1e1e1e" stroke="#1e1e1e" stroke-width="0.13">A3.02</text>
<path d="M395.6 396.6L397.7 398.9L399.8 396.6Z" fill="#222" stroke="#2a2a2a" stroke-width="0.3"/>
<line x1="388.6" y1="262.9" x2="388.6" y2="353.8" stroke="#2a2a2a" stroke-width="0.45" stroke-dasharray="3 2"/>
<line x1="388.6" y1="268.9" x2="447.2" y2="268.9" stroke="#2a2a2a" stroke-width="0.45" stroke-dasharray="3 2"/>
<line x1="388.6" y1="349.3" x2="447.2" y2="349.3" stroke="#2a2a2a" stroke-width="0.45" stroke-dasharray="3 2"/>
<path d="M394.4 343.8V275.1H447.2" fill="none" stroke="#2a2a2a" stroke-width="0.45"/>
<line x1="394.4" y1="343.8" x2="447.2" y2="343.8" stroke="#2a2a2a" stroke-width="0.45"/>
<line x1="383.2" y1="279.8" x2="447.2" y2="279.8" stroke="#2a2a2a" stroke-width="0.45"/>
<line x1="382.05" y1="280.95" x2="384.35" y2="278.65" stroke="#111" stroke-width="1"/>
<line x1="446.05" y1="280.95" x2="448.35" y2="278.65" stroke="#111" stroke-width="1"/>
<text x="414.5" y="278.3" font-size="3.6" text-anchor="middle" fill="#1e1e1e" stroke="#1e1e1e" stroke-width="0.2" letter-spacing="0.45">12'-4"</text>
<line x1="424.5" y1="262.9" x2="424.5" y2="353.8" stroke="#2a2a2a" stroke-width="0.45"/>
<line x1="423.35" y1="264.05" x2="425.65" y2="261.75" stroke="#111" stroke-width="1"/>
<line x1="423.35" y1="354.95" x2="425.65" y2="352.65" stroke="#111" stroke-width="1"/>
<text x="421.9" y="309.1" font-size="3.6" text-anchor="middle" fill="#1e1e1e" stroke="#1e1e1e" stroke-width="0.2" letter-spacing="0.45" transform="rotate(-90 421.9 307.8)">14'-7"</text>
<text x="389.2" y="272.37" font-size="2.7" text-anchor="middle" fill="#1e1e1e" stroke="#1e1e1e" stroke-width="0.15" transform="rotate(-90 389.2 271.4)">2'-0"</text>
<line x1="396.5" y1="290.7" x2="383.2" y2="290.7" stroke="#2a2a2a" stroke-width="0.45"/>
<path d="M396.5 290.7L402.8 284.4L409.1 290.7L402.8 297Z" fill="#fff" stroke="#2a2a2a" stroke-width="0.5"/>
<text x="402.8" y="291.78" font-size="3" text-anchor="middle" fill="#1e1e1e" stroke="#1e1e1e" stroke-width="0.17" letter-spacing="0.15">W4</text>
<text x="408.6" y="305.68" font-size="4.4" text-anchor="middle" fill="#1e1e1e" stroke="#1e1e1e" stroke-width="0.24">MASTER</text>
<text x="408.6" y="310.78" font-size="4.4" text-anchor="middle" fill="#1e1e1e" stroke="#1e1e1e" stroke-width="0.24">CLOSET</text>
<rect x="400.35" y="312.7" width="16.5" height="5.2" fill="#fff" stroke="#2a2a2a" stroke-width="0.55"/>
<text x="408.6" y="316.42" font-size="3.1" text-anchor="middle" fill="#1e1e1e" stroke="#1e1e1e" stroke-width="0.17">151.6 ft²</text>
<line x1="440.9" y1="329.5" x2="447.2" y2="329.5" stroke="#2a2a2a" stroke-width="0.45"/>
<path d="M428.3 329.5L434.6 323.2L440.9 329.5L434.6 335.8Z" fill="#fff" stroke="#2a2a2a" stroke-width="0.5"/>
<text x="434.6" y="330.58" font-size="3" text-anchor="middle" fill="#1e1e1e" stroke="#1e1e1e" stroke-width="0.17" letter-spacing="0.15">W5</text>
<line x1="412" y1="347.9" x2="412" y2="353.8" stroke="#2a2a2a" stroke-width="0.45"/>
<path d="M405.7 341.6L412 335.3L418.3 341.6L412 347.9Z" fill="#fff" stroke="#2a2a2a" stroke-width="0.5"/>
<text x="412" y="342.68" font-size="3" text-anchor="middle" fill="#1e1e1e" stroke="#1e1e1e" stroke-width="0.17" letter-spacing="0.15">W1</text>
<rect x="447.2" y="262.9" width="3" height="36.5" fill="#fff" stroke="#2a2a2a" stroke-width="0.5"/>
<rect x="447.2" y="318.6" width="3" height="35.2" fill="#fff" stroke="#2a2a2a" stroke-width="0.5"/>
<line x1="432.9" y1="303.8" x2="448" y2="303.8" stroke="#2a2a2a" stroke-width="0.7"/>
<path d="M432.9 303.8A15.4 15.4 0 0 0 448 318.2" fill="none" stroke="#2a2a2a" stroke-width="0.45"/>
<rect x="442.4" y="308.8" width="9.4" height="4.6" fill="#fff" stroke="#2a2a2a" stroke-width="0.5" rx="2.3"/>
<text x="447.1" y="312.18" font-size="3" text-anchor="middle" fill="#1e1e1e" stroke="#1e1e1e" stroke-width="0.17" letter-spacing="0.15">D5</text>
<line x1="457.2" y1="303.8" x2="457.2" y2="318.6" stroke="#2a2a2a" stroke-width="0.45"/>
<line x1="456.05" y1="304.95" x2="458.35" y2="302.65" stroke="#111" stroke-width="1"/>
<line x1="456.05" y1="319.75" x2="458.35" y2="317.45" stroke="#111" stroke-width="1"/>
<text x="455.2" y="312.27" font-size="3.24" text-anchor="middle" fill="#1e1e1e" stroke="#1e1e1e" stroke-width="0.18" letter-spacing="0.45" transform="rotate(-90 455.2 311.1)">2'-6"</text>
<line x1="457.2" y1="318.6" x2="457.2" y2="353.8" stroke="#2a2a2a" stroke-width="0.45"/>
<line x1="456.05" y1="319.75" x2="458.35" y2="317.45" stroke="#111" stroke-width="1"/>
<line x1="456.05" y1="354.95" x2="458.35" y2="352.65" stroke="#111" stroke-width="1"/>
<text x="454.7" y="338.3" font-size="3.6" text-anchor="middle" fill="#1e1e1e" stroke="#1e1e1e" stroke-width="0.2" letter-spacing="0.45" transform="rotate(-90 454.7 337)">5'-4"</text>
<rect x="473.9" y="262.9" width="3.2" height="36.5" fill="#fff" stroke="#2a2a2a" stroke-width="0.5"/>
<rect x="450.2" y="297.2" width="6.3" height="2.2" fill="#fff" stroke="#2a2a2a" stroke-width="0.5"/>
<rect x="470.5" y="297.2" width="3.4" height="2.2" fill="#fff" stroke="#2a2a2a" stroke-width="0.5"/>
<rect x="456.6" y="263.4" width="10.4" height="3.6" fill="none" stroke="#2a2a2a" stroke-width="0.5"/>
<ellipse cx="461.6" cy="271" rx="3.1" ry="3.6" fill="none" stroke="#2a2a2a" stroke-width="0.5"/>
<text x="463" y="277.81" font-size="2.8" text-anchor="middle" fill="#1e1e1e" stroke="#1e1e1e" stroke-width="0.15">4'-0"</text>
<line x1="450.2" y1="279.8" x2="473.9" y2="279.8" stroke="#2a2a2a" stroke-width="0.4"/>
<rect x="456.5" y="285.7" width="14.8" height="5" fill="#fff" stroke="#2a2a2a" stroke-width="0.55"/>
<text x="463.9" y="289.32" font-size="3.1" text-anchor="middle" fill="#1e1e1e" stroke="#1e1e1e" stroke-width="0.17">22.1 ft²</text>
<path d="M456.6 297.2V285L470 293.6" fill="none" stroke="#2a2a2a" stroke-width="0.5"/>
<rect x="458.7" y="295.7" width="8.6" height="4.2" fill="#fff" stroke="#2a2a2a" stroke-width="0.5" rx="2.1"/>
<text x="463" y="298.88" font-size="3" text-anchor="middle" fill="#1e1e1e" stroke="#1e1e1e" stroke-width="0.17" letter-spacing="0.15">D5</text>
<rect x="477.6" y="263" width="42.7" height="12.1" fill="none" stroke="#2a2a2a" stroke-width="0.5"/>
<rect x="482.6" y="264.4" width="11.4" height="7.4" fill="none" stroke="#2a2a2a" stroke-width="0.5"/>
<circle cx="488.3" cy="268.6" r="0.6" fill="#222" stroke="#2a2a2a" stroke-width="0.4"/>
<line x1="488.3" y1="263.2" x2="488.3" y2="266.4" stroke="#2a2a2a" stroke-width="0.5"/>
<rect x="503.6" y="264.4" width="11.4" height="7.4" fill="none" stroke="#2a2a2a" stroke-width="0.5"/>
<circle cx="509.3" cy="268.6" r="0.6" fill="#222" stroke="#2a2a2a" stroke-width="0.4"/>
<line x1="509.3" y1="263.2" x2="509.3" y2="266.4" stroke="#2a2a2a" stroke-width="0.5"/>
<line x1="477.1" y1="279.3" x2="520.3" y2="279.3" stroke="#2a2a2a" stroke-width="0.45"/>
<line x1="475.95" y1="280.45" x2="478.25" y2="278.15" stroke="#111" stroke-width="1"/>
<line x1="519.15" y1="280.45" x2="521.45" y2="278.15" stroke="#111" stroke-width="1"/>
<text x="499.4" y="278.1" font-size="3.6" text-anchor="middle" fill="#1e1e1e" stroke="#1e1e1e" stroke-width="0.2" letter-spacing="0.45">7'-0"</text>
<line x1="482.6" y1="279.3" x2="482.6" y2="297.8" stroke="#2a2a2a" stroke-width="0.45"/>
<line x1="481.45" y1="280.45" x2="483.75" y2="278.15" stroke="#111" stroke-width="1"/>
<line x1="481.45" y1="298.95" x2="483.75" y2="296.65" stroke="#111" stroke-width="1"/>
<text x="480.2" y="289.25" font-size="3.48" text-anchor="middle" fill="#1e1e1e" stroke="#1e1e1e" stroke-width="0.19" letter-spacing="0.45" transform="rotate(-90 480.2 288)">3'-7"</text>
<line x1="514.1" y1="288.8" x2="520.3" y2="288.8" stroke="#2a2a2a" stroke-width="0.45"/>
<path d="M501.5 288.8L507.8 282.5L514.1 288.8L507.8 295.1Z" fill="#fff" stroke="#2a2a2a" stroke-width="0.5"/>
<text x="507.8" y="289.88" font-size="3" text-anchor="middle" fill="#1e1e1e" stroke="#1e1e1e" stroke-width="0.17" letter-spacing="0.15">W5</text>
<text x="487.2" y="307.38" font-size="4.4" text-anchor="middle" fill="#1e1e1e" stroke="#1e1e1e" stroke-width="0.24">MASTER</text>
<text x="487.2" y="312.68" font-size="4.4" text-anchor="middle" fill="#1e1e1e" stroke="#1e1e1e" stroke-width="0.24">BATHROOM</text>
<rect x="479.45" y="315.7" width="16.5" height="5.2" fill="#fff" stroke="#2a2a2a" stroke-width="0.55"/>
<text x="487.7" y="319.42" font-size="3.1" text-anchor="middle" fill="#1e1e1e" stroke="#1e1e1e" stroke-width="0.17">182.9 ft²</text>
<rect x="520.3" y="262.9" width="3" height="36.5" fill="#fff" stroke="#2a2a2a" stroke-width="0.5"/>
<rect x="520.3" y="296.9" width="32.7" height="2.5" fill="#fff" stroke="#2a2a2a" stroke-width="0.5"/>
<rect x="550.5" y="294.4" width="2.5" height="10.2" fill="#fff" stroke="#2a2a2a" stroke-width="0.5"/>
<rect x="550.5" y="318.6" width="2.5" height="35.2" fill="#fff" stroke="#2a2a2a" stroke-width="0.5"/>
<line x1="522.6" y1="248.8" x2="551.1" y2="248.8" stroke="#2a2a2a" stroke-width="0.45"/>
<line x1="521.45" y1="249.95" x2="523.75" y2="247.65" stroke="#111" stroke-width="1"/>
<line x1="549.95" y1="249.95" x2="552.25" y2="247.65" stroke="#111" stroke-width="1"/>
<text x="536.7" y="247.3" font-size="3.6" text-anchor="middle" fill="#1e1e1e" stroke="#1e1e1e" stroke-width="0.2" letter-spacing="0.45">4'-6"</text>
<line x1="522.6" y1="247.8" x2="522.6" y2="258.9" stroke="#2a2a2a" stroke-width="0.4"/>
<line x1="551.1" y1="247.8" x2="551.1" y2="258.9" stroke="#2a2a2a" stroke-width="0.4"/>
<text x="570.2" y="253.34" font-size="2.6" text-anchor="middle" fill="#1e1e1e" stroke="#1e1e1e" stroke-width="0.14" transform="rotate(-90 570.2 252.4)">8"</text>
<line x1="532.4" y1="262.9" x2="532.4" y2="297.2" stroke="#2a2a2a" stroke-width="0.45"/>
<line x1="531.25" y1="264.05" x2="533.55" y2="261.75" stroke="#111" stroke-width="1"/>
<line x1="531.25" y1="298.35" x2="533.55" y2="296.05" stroke="#111" stroke-width="1"/>
<text x="530" y="279.8" font-size="3.6" text-anchor="middle" fill="#1e1e1e" stroke="#1e1e1e" stroke-width="0.2" letter-spacing="0.45" transform="rotate(-90 530 278.5)">6'-1"</text>
<line x1="546.3" y1="264.5" x2="546.3" y2="296.2" stroke="#2a2a2a" stroke-width="0.45"/>
<line x1="545.15" y1="265.65" x2="547.45" y2="263.35" stroke="#111" stroke-width="1"/>
<line x1="545.15" y1="297.35" x2="547.45" y2="295.05" stroke="#111" stroke-width="1"/>
<text x="543.8" y="281.4" font-size="3.6" text-anchor="middle" fill="#1e1e1e" stroke="#1e1e1e" stroke-width="0.2" letter-spacing="0.45" transform="rotate(-90 543.8 280.1)">5'-0"</text>
<line x1="552.4" y1="264.6" x2="567.3" y2="264.6" stroke="#2a2a2a" stroke-width="0.7"/>
<line x1="552.4" y1="294.4" x2="567.3" y2="294.4" stroke="#2a2a2a" stroke-width="0.7"/>
<path d="M567.3 264.9A14.9 14.9 0 0 1 552.6 279.6" fill="none" stroke="#2a2a2a" stroke-width="0.45"/>
<path d="M567.3 294.2A14.9 14.9 0 0 0 552.6 279.6" fill="none" stroke="#2a2a2a" stroke-width="0.45"/>
<rect x="547.8" y="283.7" width="9.4" height="4.6" fill="#fff" stroke="#2a2a2a" stroke-width="0.5" rx="2.3"/>
<text x="552.5" y="287.08" font-size="3" text-anchor="middle" fill="#1e1e1e" stroke="#1e1e1e" stroke-width="0.17" letter-spacing="0.15">D2</text>
<line x1="552.4" y1="304.6" x2="566.4" y2="304.6" stroke="#2a2a2a" stroke-width="0.7"/>
<path d="M566.4 304.8A13.8 13.8 0 0 1 552.8 318.4" fill="none" stroke="#2a2a2a" stroke-width="0.45"/>
<rect x="549.9" y="307.7" width="9.4" height="4.6" fill="#fff" stroke="#2a2a2a" stroke-width="0.5" rx="2.3"/>
<text x="554.6" y="311.08" font-size="3" text-anchor="middle" fill="#1e1e1e" stroke="#1e1e1e" stroke-width="0.17" letter-spacing="0.15">D5</text>
<line x1="546.3" y1="304.6" x2="546.3" y2="318.6" stroke="#2a2a2a" stroke-width="0.45"/>
<line x1="545.15" y1="305.75" x2="547.45" y2="303.45" stroke="#111" stroke-width="1"/>
<line x1="545.15" y1="319.75" x2="547.45" y2="317.45" stroke="#111" stroke-width="1"/>
<text x="543.9" y="312.27" font-size="3.24" text-anchor="middle" fill="#1e1e1e" stroke="#1e1e1e" stroke-width="0.18" letter-spacing="0.45" transform="rotate(-90 543.9 311.1)">2'-8"</text>
<line x1="546.3" y1="322.3" x2="546.3" y2="353.8" stroke="#2a2a2a" stroke-width="0.45"/>
<line x1="545.15" y1="323.45" x2="547.45" y2="321.15" stroke="#111" stroke-width="1"/>
<line x1="545.15" y1="354.95" x2="547.45" y2="352.65" stroke="#111" stroke-width="1"/>
<text x="544.2" y="338.3" font-size="3.6" text-anchor="middle" fill="#1e1e1e" stroke="#1e1e1e" stroke-width="0.2" letter-spacing="0.45" transform="rotate(-90 544.2 337)">5'-4"</text>
<line x1="573.2" y1="263.2" x2="573.2" y2="353.8" stroke="#2a2a2a" stroke-width="0.45"/>
<line x1="572.05" y1="264.35" x2="574.35" y2="262.05" stroke="#111" stroke-width="1"/>
<line x1="572.05" y1="354.95" x2="574.35" y2="352.65" stroke="#111" stroke-width="1"/>
<text x="570.4" y="304.5" font-size="3.6" text-anchor="middle" fill="#1e1e1e" stroke="#1e1e1e" stroke-width="0.2" letter-spacing="0.45" transform="rotate(-90 570.4 303.2)">14'-6"</text>
<line x1="559.2" y1="327.3" x2="553" y2="327.3" stroke="#2a2a2a" stroke-width="0.45"/>
<path d="M559.2 327.3L565.5 321L571.8 327.3L565.5 333.6Z" fill="#fff" stroke="#2a2a2a" stroke-width="0.5"/>
<text x="565.5" y="328.38" font-size="3" text-anchor="middle" fill="#1e1e1e" stroke="#1e1e1e" stroke-width="0.17" letter-spacing="0.15">W5</text>
<rect x="503.8" y="322.4" width="46.5" height="31.2" fill="none" stroke="#2a2a2a" stroke-width="0.6"/>
<line x1="503.8" y1="322.4" x2="550.3" y2="322.4" stroke="#222" stroke-width="1.1"/>
<line x1="503.8" y1="322.4" x2="526.5" y2="349.5" stroke="#2a2a2a" stroke-width="0.45"/>
<line x1="550.3" y1="322.4" x2="526.5" y2="349.5" stroke="#2a2a2a" stroke-width="0.45"/>
<line x1="514" y1="349.8" x2="540" y2="349.8" stroke="#2a2a2a" stroke-width="0.4"/>
<circle cx="523.2" cy="331.5" r="2.5" fill="#111" stroke="#111" stroke-width="0.4"/>
<path d="M523.2 331.5L523.2 330.12A1.38 1.38 0 0 1 524.58 331.5Z" fill="#fff" stroke="#fff" stroke-width="0.1"/>
<path d="M523.2 331.5L523.2 332.88A1.38 1.38 0 0 1 521.83 331.5Z" fill="#fff" stroke="#fff" stroke-width="0.1"/>
<text x="526.7" y="329.65" font-size="3.2" text-anchor="start" fill="#666" stroke="#666" stroke-width="0.06" letter-spacing="0.35">0'-0"</text>
<rect x="464.4" y="334.5" width="34" height="16.9" fill="none" stroke="#222" stroke-width="0.7" rx="3.2"/>
<rect x="471.2" y="337.6" width="20.4" height="11.2" fill="none" stroke="#2a2a2a" stroke-width="0.55" rx="2"/>
<circle cx="481.4" cy="343.6" r="0.7" fill="#222" stroke="#2a2a2a" stroke-width="0.4"/>
<line x1="464.4" y1="349.6" x2="498.4" y2="349.6" stroke="#222" stroke-width="0.9"/>
<text x="500.3" y="343.3" font-size="2.5" text-anchor="middle" fill="#1e1e1e" stroke="#1e1e1e" stroke-width="0.14">18'-2"</text>
<path d="M459 347.5A3.81 3.81 0 0 1 465.14 347.5A3.81 3.81 0 0 1 471.29 347.5A3.81 3.81 0 0 1 477.43 347.5A3.81 3.81 0 0 1 483.57 347.5A3.81 3.81 0 0 1 489.71 347.5A3.81 3.81 0 0 1 495.86 347.5A3.81 3.81 0 0 1 502 347.5A4.41 4.41 0 0 1 506.5 353A4.03 4.03 0 0 1 506.5 359.5A4.03 4.03 0 0 1 506.5 366A4.65 4.65 0 0 1 502 372A3.81 3.81 0 0 1 495.86 372A3.81 3.81 0 0 1 489.71 372A3.81 3.81 0 0 1 483.57 372A3.81 3.81 0 0 1 477.43 372A3.81 3.81 0 0 1 471.29 372A3.81 3.81 0 0 1 465.14 372A3.81 3.81 0 0 1 459 372A4.65 4.65 0 0 1 454.5 366A4.03 4.03 0 0 1 454.5 359.5A4.03 4.03 0 0 1 454.5 353A4.41 4.41 0 0 1 459 347.5Z" fill="none" stroke="#222" stroke-width="0.6"/>
<circle cx="480.8" cy="355.9" r="1" fill="#fff" stroke="#2a2a2a" stroke-width="0.4"/>
<path d="M474.34 365.9L470.7 368L467.06 365.9L467.06 361.7L470.7 359.6L474.34 361.7Z" fill="#fff" stroke="#2a2a2a" stroke-width="0.5"/>
<text x="470.7" y="364.81" font-size="2.8" text-anchor="middle" fill="#1e1e1e" stroke="#1e1e1e" stroke-width="0.15">W06</text>
<text x="486.8" y="365.35" font-size="3.2" text-anchor="middle" fill="#1e1e1e" stroke="#1e1e1e" stroke-width="0.18">TEMPERED</text>
<path d="M573.61 366.8L569.8 369L565.99 366.8L565.99 362.4L569.8 360.2L573.61 362.4Z" fill="#fff" stroke="#2a2a2a" stroke-width="0.5"/>
<text x="569.8" y="365.61" font-size="2.8" text-anchor="middle" fill="#1e1e1e" stroke="#1e1e1e" stroke-width="0.15">W05</text>
<path d="M680.41 366.8L676.6 369L672.79 366.8L672.79 362.4L676.6 360.2L680.41 362.4Z" fill="#fff" stroke="#2a2a2a" stroke-width="0.5"/>
<text x="676.6" y="365.61" font-size="2.8" text-anchor="middle" fill="#1e1e1e" stroke="#1e1e1e" stroke-width="0.15">W05</text>
<path d="M730.71 367.1L726.9 369.3L723.09 367.1L723.09 362.7L726.9 360.5L730.71 362.7Z" fill="#fff" stroke="#2a2a2a" stroke-width="0.5"/>
<text x="726.9" y="365.91" font-size="2.8" text-anchor="middle" fill="#1e1e1e" stroke="#1e1e1e" stroke-width="0.15">W04</text>
<rect x="629.4" y="259.2" width="67" height="4.2" fill="url(#hx)" stroke="#2a2a2a" stroke-width="0.75"/>
<line x1="667.1" y1="274.7" x2="667.1" y2="263.4" stroke="#2a2a2a" stroke-width="0.45"/>
<path d="M660.8 281L667.1 274.7L673.4 281L667.1 287.3Z" fill="#fff" stroke="#2a2a2a" stroke-width="0.5"/>
<text x="667.1" y="282.08" font-size="3" text-anchor="middle" fill="#1e1e1e" stroke="#1e1e1e" stroke-width="0.17" letter-spacing="0.15">W1</text>
<text x="624.4" y="287.58" font-size="4.4" text-anchor="middle" fill="#1e1e1e" stroke="#1e1e1e" stroke-width="0.24">MASTER BEDROOM</text>
<rect x="614.6" y="291.8" width="16.8" height="5.8" fill="#fff" stroke="#2a2a2a" stroke-width="0.55"/>
<text x="623" y="295.82" font-size="3.1" text-anchor="middle" fill="#1e1e1e" stroke="#1e1e1e" stroke-width="0.17">321.4 ft²</text>
<rect x="606.8" y="300.2" width="34.3" height="10.9" fill="none" stroke="#2a2a2a" stroke-width="0.6" rx="1"/>
<circle cx="610.5" cy="304" r="0.35" fill="#333" stroke="#2a2a2a" stroke-width="0.25"/>
<circle cx="614.4" cy="304" r="0.35" fill="#333" stroke="#2a2a2a" stroke-width="0.25"/>
<circle cx="618.3" cy="304" r="0.35" fill="#333" stroke="#2a2a2a" stroke-width="0.25"/>
<circle cx="622.2" cy="304" r="0.35" fill="#333" stroke="#2a2a2a" stroke-width="0.25"/>
<circle cx="626.1" cy="304" r="0.35" fill="#333" stroke="#2a2a2a" stroke-width="0.25"/>
<circle cx="630" cy="304" r="0.35" fill="#333" stroke="#2a2a2a" stroke-width="0.25"/>
<circle cx="633.9" cy="304" r="0.35" fill="#333" stroke="#2a2a2a" stroke-width="0.25"/>
<circle cx="637.8" cy="304" r="0.35" fill="#333" stroke="#2a2a2a" stroke-width="0.25"/>
<circle cx="610.5" cy="308" r="0.35" fill="#333" stroke="#2a2a2a" stroke-width="0.25"/>
<circle cx="614.4" cy="308" r="0.35" fill="#333" stroke="#2a2a2a" stroke-width="0.25"/>
<circle cx="618.3" cy="308" r="0.35" fill="#333" stroke="#2a2a2a" stroke-width="0.25"/>
<circle cx="622.2" cy="308" r="0.35" fill="#333" stroke="#2a2a2a" stroke-width="0.25"/>
<circle cx="626.1" cy="308" r="0.35" fill="#333" stroke="#2a2a2a" stroke-width="0.25"/>
<circle cx="630" cy="308" r="0.35" fill="#333" stroke="#2a2a2a" stroke-width="0.25"/>
<circle cx="633.9" cy="308" r="0.35" fill="#333" stroke="#2a2a2a" stroke-width="0.25"/>
<circle cx="637.8" cy="308" r="0.35" fill="#333" stroke="#2a2a2a" stroke-width="0.25"/>
<rect x="604.4" y="311.1" width="39.3" height="41.1" fill="none" stroke="#222" stroke-width="0.9"/>
<rect x="607" y="341.4" width="15.8" height="9.6" fill="none" stroke="#2a2a2a" stroke-width="0.6" rx="1.2"/>
<rect x="625.2" y="341.4" width="15.8" height="9.6" fill="none" stroke="#2a2a2a" stroke-width="0.6" rx="1.2"/>
<line x1="604.4" y1="339.6" x2="643.7" y2="339.6" stroke="#2a2a2a" stroke-width="0.5"/>
<rect x="588.5" y="343.3" width="15.9" height="8.9" fill="none" stroke="#2a2a2a" stroke-width="0.5"/>
<rect x="643.7" y="343.3" width="16.2" height="8.9" fill="none" stroke="#2a2a2a" stroke-width="0.5"/>
<path d="M596.5 344.6L598.5 348.4H594.5Z" fill="none" stroke="#2a2a2a" stroke-width="0.45"/>
<circle cx="596.5" cy="349.6" r="1.2" fill="none" stroke="#2a2a2a" stroke-width="0.4"/>
<path d="M651.9 344.6L653.9 348.4H649.9Z" fill="none" stroke="#2a2a2a" stroke-width="0.45"/>
<circle cx="651.9" cy="349.6" r="1.2" fill="none" stroke="#2a2a2a" stroke-width="0.4"/>
<line x1="553" y1="335.3" x2="691.8" y2="335.3" stroke="#2a2a2a" stroke-width="0.45"/>
<line x1="551.85" y1="336.45" x2="554.15" y2="334.15" stroke="#111" stroke-width="1"/>
<line x1="690.65" y1="336.45" x2="692.95" y2="334.15" stroke="#111" stroke-width="1"/>
<text x="622.7" y="333.93" font-size="3.96" text-anchor="middle" fill="#1e1e1e" stroke="#1e1e1e" stroke-width="0.22" letter-spacing="0.45">22'-2"</text>
<line x1="593.5" y1="335.3" x2="593.5" y2="353.8" stroke="#2a2a2a" stroke-width="0.45"/>
<path d="M587.2 329L593.5 322.7L599.8 329L593.5 335.3Z" fill="#fff" stroke="#2a2a2a" stroke-width="0.5"/>
<text x="593.5" y="330.08" font-size="3" text-anchor="middle" fill="#1e1e1e" stroke="#1e1e1e" stroke-width="0.17" letter-spacing="0.15">W1</text>
<line x1="692.4" y1="263.4" x2="692.4" y2="315.2" stroke="#2a2a2a" stroke-width="0.5"/>
<line x1="694.9" y1="263.4" x2="694.9" y2="315.2" stroke="#2a2a2a" stroke-width="0.5"/>
<line x1="693.6" y1="263.4" x2="693.6" y2="290" stroke="#2a2a2a" stroke-width="0.45"/>
<line x1="693.2" y1="290" x2="693.2" y2="315" stroke="#333" stroke-width="0.8"/>
<rect x="699.1" y="288.1" width="9.4" height="4.6" fill="#fff" stroke="#2a2a2a" stroke-width="0.5" rx="2.3"/>
<text x="703.8" y="291.48" font-size="3" text-anchor="middle" fill="#1e1e1e" stroke="#1e1e1e" stroke-width="0.17" letter-spacing="0.15">SD02</text>
<rect x="691.7" y="315.2" width="63.6" height="4.5" fill="url(#hx)" stroke="#2a2a2a" stroke-width="0.75"/>
<rect x="691.7" y="315.2" width="4.7" height="43" fill="url(#hx)" stroke="#2a2a2a" stroke-width="0.75"/>
<rect x="751.2" y="315.2" width="4.1" height="7.5" fill="url(#hx)" stroke="#2a2a2a" stroke-width="0.75"/>
<rect x="751.2" y="337.8" width="4.1" height="20.4" fill="url(#hx)" stroke="#2a2a2a" stroke-width="0.75"/>
<rect x="686.7" y="353.8" width="32.6" height="4.4" fill="url(#hx)" stroke="#2a2a2a" stroke-width="0.75"/>
<rect x="696.4" y="319.7" width="18.8" height="34.1" fill="none" stroke="#2a2a2a" stroke-width="0.5"/>
<line x1="697.4" y1="320.6" x2="705.6" y2="349.5" stroke="#2a2a2a" stroke-width="0.4"/>
<line x1="714.2" y1="320.6" x2="705.6" y2="349.5" stroke="#2a2a2a" stroke-width="0.4"/>
<line x1="696.4" y1="353.8" x2="705.6" y2="347.2" stroke="#2a2a2a" stroke-width="0.4"/>
<line x1="715.2" y1="353.8" x2="705.6" y2="347.2" stroke="#2a2a2a" stroke-width="0.4"/>
<circle cx="701.8" cy="326.4" r="2.5" fill="#111" stroke="#111" stroke-width="0.4"/>
<path d="M701.8 326.4L701.8 325.02A1.38 1.38 0 0 1 703.17 326.4Z" fill="#fff" stroke="#fff" stroke-width="0.1"/>
<path d="M701.8 326.4L701.8 327.77A1.38 1.38 0 0 1 700.42 326.4Z" fill="#fff" stroke="#fff" stroke-width="0.1"/>
<text x="706.8" y="323.32" font-size="2" text-anchor="middle" fill="#1e1e1e" stroke="#1e1e1e" stroke-width="0.11">0'-0"</text>
<text x="710.5" y="336.94" font-size="2.6" text-anchor="middle" fill="#1e1e1e" stroke="#1e1e1e" stroke-width="0.14" transform="rotate(-80 710.5 336)">5'-8"</text>
<text x="731.9" y="327.95" font-size="4.3" text-anchor="middle" fill="#1e1e1e" stroke="#1e1e1e" stroke-width="0.24">BATH 3</text>
<rect x="723.9" y="330.1" width="16" height="5.2" fill="#fff" stroke="#2a2a2a" stroke-width="0.55"/>
<text x="731.9" y="333.82" font-size="3.1" text-anchor="middle" fill="#1e1e1e" stroke="#1e1e1e" stroke-width="0.17">47.8 ft²</text>
<ellipse cx="726.9" cy="342.4" rx="4.2" ry="3.4" fill="none" stroke="#2a2a2a" stroke-width="0.5"/>
<circle cx="726.9" cy="339.4" r="1.6" fill="none" stroke="#2a2a2a" stroke-width="0.4"/>
<rect x="721.2" y="347" width="11.4" height="6.6" fill="none" stroke="#2a2a2a" stroke-width="0.5"/>
<rect x="737.8" y="342.8" width="11.7" height="9.2" fill="none" stroke="#222" stroke-width="0.7"/>
<rect x="739.2" y="344.2" width="8.9" height="6.4" fill="none" stroke="#2a2a2a" stroke-width="0.45"/>
<circle cx="743.6" cy="347.8" r="0.6" fill="#222" stroke="#2a2a2a" stroke-width="0.4"/>
<line x1="743.6" y1="348.5" x2="743.6" y2="352.5" stroke="#222" stroke-width="0.7"/>
<line x1="755.3" y1="322.7" x2="771" y2="322.7" stroke="#2a2a2a" stroke-width="0.7"/>
<line x1="755.3" y1="323.7" x2="771" y2="323.7" stroke="#2a2a2a" stroke-width="0.4"/>
<path d="M771 323A15.4 15.4 0 0 1 755.6 337.8" fill="none" stroke="#2a2a2a" stroke-width="0.45"/>
<rect x="748.5" y="328.3" width="9.4" height="4.6" fill="#fff" stroke="#2a2a2a" stroke-width="0.5" rx="2.3"/>
<text x="753.2" y="331.68" font-size="3" text-anchor="middle" fill="#1e1e1e" stroke="#1e1e1e" stroke-width="0.17" letter-spacing="0.15">D5</text>
<path d="M747 321A5.88 5.88 0 0 1 750 312A5.92 5.92 0 0 1 757 305.5A7.07 7.07 0 0 1 768 302.5A7.47 7.47 0 0 1 780 303.5A6.8 6.8 0 0 1 790 308A6.93 6.93 0 0 1 795 318A7.47 7.47 0 0 1 796 330A7.47 7.47 0 0 1 795 342A6.11 6.11 0 0 1 791 351A6.54 6.54 0 0 1 782 356.5A7.45 7.45 0 0 1 770 357A6.32 6.32 0 0 1 760 355A5.3 5.3 0 0 1 757 347A5.33 5.33 0 0 1 752 340A4.61 4.61 0 0 1 746.5 335A4.51 4.51 0 0 1 744.5 328A4.61 4.61 0 0 1 747 321Z" fill="none" stroke="#222" stroke-width="0.6"/>
<line x1="755.3" y1="348.6" x2="780.5" y2="348.6" stroke="#2a2a2a" stroke-width="0.45"/>
<line x1="754.15" y1="349.75" x2="756.45" y2="347.45" stroke="#111" stroke-width="1"/>
<line x1="779.35" y1="349.75" x2="781.65" y2="347.45" stroke="#111" stroke-width="1"/>
<text x="767.9" y="347.2" font-size="3.6" text-anchor="middle" fill="#1e1e1e" stroke="#1e1e1e" stroke-width="0.2" letter-spacing="0.45">4'-0"</text>
<line x1="755.3" y1="357.9" x2="787.1" y2="357.9" stroke="#2a2a2a" stroke-width="0.4"/>
<line x1="755.3" y1="315.2" x2="775.5" y2="315.2" stroke="#2a2a2a" stroke-width="0.4"/>
<line x1="755.3" y1="337.8" x2="775.5" y2="337.8" stroke="#2a2a2a" stroke-width="0.4"/>
<line x1="780.5" y1="315.2" x2="780.5" y2="349.6" stroke="#2a2a2a" stroke-width="0.4"/>
<text x="764.8" y="306.97" font-size="2.7" text-anchor="middle" fill="#1e1e1e" stroke="#1e1e1e" stroke-width="0.15" transform="rotate(-62 764.8 306)">3'-0"</text>
<text x="780.2" y="312.54" font-size="2.6" text-anchor="middle" fill="#1e1e1e" stroke="#1e1e1e" stroke-width="0.14" transform="rotate(-80 780.2 311.6)">10"</text>
<line x1="738.6" y1="312.3" x2="738.6" y2="315.2" stroke="#2a2a2a" stroke-width="0.45"/>
<path d="M732.3 306L738.6 299.7L744.9 306L738.6 312.3Z" fill="#fff" stroke="#2a2a2a" stroke-width="0.5"/>
<text x="738.6" y="307.08" font-size="3" text-anchor="middle" fill="#1e1e1e" stroke="#1e1e1e" stroke-width="0.17" letter-spacing="0.15">W1</text>
</svg>
</body></html>
